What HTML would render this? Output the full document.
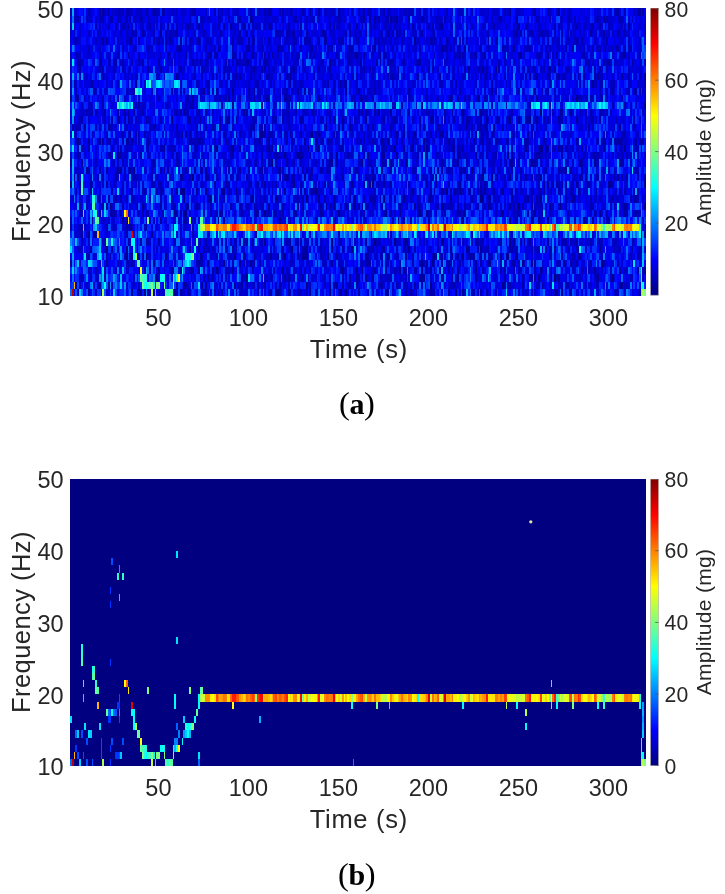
<!DOCTYPE html>
<html><head><meta charset="utf-8"><style>
html,body{margin:0;padding:0;background:#fff;}
body{width:725px;height:894px;position:relative;overflow:hidden;font-family:"Liberation Sans",sans-serif;color:#262626;}
.ab{position:absolute;display:block;}
.sg{filter:blur(0.45px);}
.t{position:absolute;line-height:0;white-space:nowrap;filter:blur(0.25px);}
.cap .p{font-size:32.5px;}
.cap{filter:blur(0.25px);position:absolute;font-family:"Liberation Serif",serif;font-size:30px;line-height:0;color:#000;width:200px;margin-left:-100px;text-align:center;white-space:nowrap;letter-spacing:-0.4px;}
</style></head><body>
<svg width="0" height="0" style="position:absolute"><defs><linearGradient id="jg" x1="0" y1="1" x2="0" y2="0"><stop offset="0.0000" stop-color="#000080"/><stop offset="0.0156" stop-color="#00008f"/><stop offset="0.0312" stop-color="#00009f"/><stop offset="0.0469" stop-color="#0000af"/><stop offset="0.0625" stop-color="#0000bf"/><stop offset="0.0781" stop-color="#0000cf"/><stop offset="0.0938" stop-color="#0000df"/><stop offset="0.1094" stop-color="#0000ef"/><stop offset="0.1250" stop-color="#0000ff"/><stop offset="0.1406" stop-color="#0010ff"/><stop offset="0.1562" stop-color="#0020ff"/><stop offset="0.1719" stop-color="#0030ff"/><stop offset="0.1875" stop-color="#0040ff"/><stop offset="0.2031" stop-color="#0050ff"/><stop offset="0.2188" stop-color="#0060ff"/><stop offset="0.2344" stop-color="#0070ff"/><stop offset="0.2500" stop-color="#0080ff"/><stop offset="0.2656" stop-color="#008fff"/><stop offset="0.2812" stop-color="#009fff"/><stop offset="0.2969" stop-color="#00afff"/><stop offset="0.3125" stop-color="#00bfff"/><stop offset="0.3281" stop-color="#00cfff"/><stop offset="0.3438" stop-color="#00dfff"/><stop offset="0.3594" stop-color="#00efff"/><stop offset="0.3750" stop-color="#00ffff"/><stop offset="0.3906" stop-color="#10ffef"/><stop offset="0.4062" stop-color="#20ffdf"/><stop offset="0.4219" stop-color="#30ffcf"/><stop offset="0.4375" stop-color="#40ffbf"/><stop offset="0.4531" stop-color="#50ffaf"/><stop offset="0.4688" stop-color="#60ff9f"/><stop offset="0.4844" stop-color="#70ff8f"/><stop offset="0.5000" stop-color="#80ff80"/><stop offset="0.5156" stop-color="#8fff70"/><stop offset="0.5312" stop-color="#9fff60"/><stop offset="0.5469" stop-color="#afff50"/><stop offset="0.5625" stop-color="#bfff40"/><stop offset="0.5781" stop-color="#cfff30"/><stop offset="0.5938" stop-color="#dfff20"/><stop offset="0.6094" stop-color="#efff10"/><stop offset="0.6250" stop-color="#ffff00"/><stop offset="0.6406" stop-color="#ffef00"/><stop offset="0.6562" stop-color="#ffdf00"/><stop offset="0.6719" stop-color="#ffcf00"/><stop offset="0.6875" stop-color="#ffbf00"/><stop offset="0.7031" stop-color="#ffaf00"/><stop offset="0.7188" stop-color="#ff9f00"/><stop offset="0.7344" stop-color="#ff8f00"/><stop offset="0.7500" stop-color="#ff8000"/><stop offset="0.7656" stop-color="#ff7000"/><stop offset="0.7812" stop-color="#ff6000"/><stop offset="0.7969" stop-color="#ff5000"/><stop offset="0.8125" stop-color="#ff4000"/><stop offset="0.8281" stop-color="#ff3000"/><stop offset="0.8438" stop-color="#ff2000"/><stop offset="0.8594" stop-color="#ff1000"/><stop offset="0.8750" stop-color="#ff0000"/><stop offset="0.8906" stop-color="#ef0000"/><stop offset="0.9062" stop-color="#df0000"/><stop offset="0.9219" stop-color="#cf0000"/><stop offset="0.9375" stop-color="#bf0000"/><stop offset="0.9531" stop-color="#af0000"/><stop offset="0.9688" stop-color="#9f0000"/><stop offset="0.9844" stop-color="#8f0000"/><stop offset="1.0000" stop-color="#800000"/></linearGradient></defs></svg>
<svg class="ab sg" style="left:70.0px;top:8.30px;width:576.0px;height:287.30px" viewBox="0 0 320 40" preserveAspectRatio="none" shape-rendering="crispEdges"><rect width="320" height="40" fill="#000080"/><g stroke-width="1" fill="none" transform="translate(0 0.0836)"><path stroke="#0000a6" d="M0 0.5h1M0 -.5h1M16 0.5h1M16 -.5h1M18 0.5h1M18 -.5h1M27 0.5h1M27 -.5h1M46 0.5h1M46 -.5h1M51 0.5h1M51 -.5h1M69 0.5h1M69 -.5h1M110 0.5h1M110 -.5h1M133 0.5h1M133 -.5h1M138 0.5h1M138 -.5h1M149 0.5h1M149 -.5h1M244 0.5h1M244 -.5h1M258 0.5h1M258 -.5h1M265 0.5h1M265 -.5h1M304 0.5h1M304 -.5h1M315 0.5h2M315 -.5h2M318 0.5h1M318 -.5h1M39 1.5h1M94 1.5h1M101 1.5h1M163 1.5h1M169 1.5h1M178 1.5h1M188 1.5h1M248 1.5h1M266 1.5h1M277 1.5h1M296 1.5h1M32 2.5h1M54 2.5h1M71 2.5h1M85 2.5h1M89 2.5h1M96 2.5h1M111 2.5h1M146 2.5h1M157 2.5h1M190 2.5h1M205 2.5h1M237 2.5h1M253 2.5h1M290 2.5h1M40 3.5h1M59 3.5h1M94 3.5h1M124 3.5h1M140 3.5h2M167 3.5h1M176 3.5h1M181 3.5h1M195 3.5h1M248 3.5h1M262 3.5h1M289 3.5h1M296 3.5h1M304 3.5h1M3 4.5h1M18 4.5h1M20 4.5h1M55 4.5h1M61 4.5h1M71 4.5h1M90 4.5h1M99 4.5h1M101 4.5h1M110 4.5h1M137 4.5h1M141 4.5h2M209 4.5h1M236 4.5h1M284 4.5h1M298 4.5h1M60 5.5h2M82 5.5h1M99 5.5h1M134 5.5h1M169 5.5h1M194 5.5h1M219 5.5h1M246 5.5h1M275 5.5h1M279 5.5h1M303 5.5h1M32 6.5h1M54 6.5h1M64 6.5h1M76 6.5h1M97 6.5h1M101 6.5h1M112 6.5h1M163 6.5h1M172 6.5h1M174 6.5h1M225 6.5h1M230 6.5h1M265 6.5h1M270 6.5h1M297 6.5h1M308 6.5h1M4 7.5h1M49 7.5h1M72 7.5h1M75 7.5h1M98 7.5h2M109 7.5h1M161 7.5h1M170 7.5h1M185 7.5h1M193 7.5h2M271 7.5h1M296 7.5h1M299 7.5h1M312 7.5h1M5 8.5h1M43 8.5h1M50 8.5h1M61 8.5h1M102 8.5h1M106 8.5h1M124 8.5h1M137 8.5h1M144 8.5h1M182 8.5h1M238 8.5h1M257 8.5h1M266 8.5h1M269 8.5h1M294 8.5h1M92 9.5h1M187 9.5h1M193 9.5h1M205 9.5h1M255 9.5h1M259 9.5h1M271 9.5h1M285 9.5h1M12 10.5h1M67 10.5h1M122 10.5h1M143 10.5h1M150 10.5h1M277 10.5h1M294 10.5h1M13 11.5h1M35 11.5h1M67 11.5h1M81 11.5h1M99 11.5h1M102 11.5h1M130 11.5h1M146 11.5h1M188 11.5h1M216 11.5h1M258 11.5h1M313 11.5h1M4 12.5h1M65 12.5h1M68 12.5h1M88 12.5h1M94 12.5h1M102 12.5h1M109 12.5h2M119 12.5h2M138 12.5h1M161 12.5h1M211 12.5h1M215 12.5h1M259 12.5h1M295 12.5h1M38 13.5h1M68 13.5h1M184 13.5h1M19 14.5h1M30 14.5h1M32 14.5h1M35 14.5h1M37 14.5h1M61 14.5h1M75 14.5h1M96 14.5h1M134 14.5h1M157 14.5h1M160 14.5h1M162 14.5h1M164 14.5h1M169 14.5h1M178 14.5h1M208 14.5h1M212 14.5h1M273 14.5h1M286 14.5h1M27 15.5h1M32 15.5h1M42 15.5h1M47 15.5h1M50 15.5h1M65 15.5h1M72 15.5h1M83 15.5h1M92 15.5h1M107 15.5h1M118 15.5h1M128 15.5h1M146 15.5h1M180 15.5h1M187 15.5h1M200 15.5h2M213 15.5h1M220 15.5h2M243 15.5h1M253 15.5h2M259 15.5h1M271 15.5h1M294 15.5h1M307 15.5h1M8 16.5h1M22 16.5h1M46 16.5h1M59 16.5h1M83 16.5h1M87 16.5h1M108 16.5h1M142 16.5h1M149 16.5h1M151 16.5h1M165 16.5h1M204 16.5h1M220 16.5h1M228 16.5h1M231 16.5h1M288 16.5h1M29 17.5h1M33 17.5h1M62 17.5h1M64 17.5h1M66 17.5h1M85 17.5h1M108 17.5h1M128 17.5h1M138 17.5h1M146 17.5h1M185 17.5h1M191 17.5h1M206 17.5h2M254 17.5h1M307 17.5h1M10 18.5h1M16 18.5h1M18 18.5h1M32 18.5h1M34 18.5h1M43 18.5h1M71 18.5h1M86 18.5h1M105 18.5h1M110 18.5h1M120 18.5h1M143 18.5h1M147 18.5h1M181 18.5h1M210 18.5h1M224 18.5h1M236 18.5h1M253 18.5h1M295 18.5h2M303 18.5h3M316 18.5h1M318 18.5h1M6 19.5h1M37 19.5h1M52 19.5h1M110 19.5h1M127 19.5h1M132 19.5h1M173 19.5h1M177 19.5h1M196 19.5h1M212 19.5h1M215 19.5h1M218 19.5h1M265 19.5h1M271 19.5h1M284 19.5h1M296 19.5h1M4 20.5h1M22 20.5h1M28 20.5h1M39 20.5h1M90 20.5h1M106 20.5h1M154 20.5h1M163 20.5h1M197 20.5h2M215 20.5h1M245 20.5h1M273 20.5h1M293 20.5h1M46 21.5h1M60 21.5h1M120 21.5h1M145 21.5h1M148 21.5h1M173 21.5h1M178 21.5h1M206 21.5h1M257 21.5h1M307 21.5h1M10 22.5h1M16 22.5h1M20 22.5h1M28 22.5h1M45 22.5h1M52 22.5h1M54 22.5h1M64 22.5h1M69 22.5h1M73 22.5h1M139 22.5h1M168 22.5h1M178 22.5h1M206 22.5h1M216 22.5h1M219 22.5h1M245 22.5h1M37 23.5h1M62 23.5h1M98 23.5h1M119 23.5h1M123 23.5h1M127 23.5h1M137 23.5h1M168 23.5h1M220 23.5h1M247 23.5h1M253 23.5h1M256 23.5h1M283 23.5h1M286 23.5h1M302 23.5h1M306 23.5h1M309 23.5h1M319 23.5h1M20 24.5h1M80 24.5h1M86 24.5h1M108 24.5h1M141 24.5h1M174 24.5h1M177 24.5h2M198 24.5h1M203 24.5h1M216 24.5h1M263 24.5h1M273 24.5h1M288 24.5h1M5 25.5h1M41 25.5h1M48 25.5h1M59 25.5h1M61 25.5h1M130 25.5h1M135 25.5h1M200 25.5h1M206 25.5h1M213 25.5h1M228 25.5h1M235 25.5h1M263 25.5h1M271 25.5h1M282 25.5h1M292 25.5h1M315 25.5h1M28 26.5h1M80 26.5h1M101 26.5h1M141 26.5h1M166 26.5h1M168 26.5h1M200 26.5h1M233 26.5h1M245 26.5h1M254 26.5h1M259 26.5h1M280 26.5h1M18 27.5h1M50 27.5h1M64 27.5h1M70 27.5h1M78 27.5h1M89 27.5h1M94 27.5h1M102 27.5h1M126 27.5h1M129 27.5h1M139 27.5h1M162 27.5h1M173 27.5h1M183 27.5h1M187 27.5h1M207 27.5h1M217 27.5h1M244 27.5h1M246 27.5h1M256 27.5h1M309 27.5h1M22 28.5h3M40 28.5h1M113 28.5h1M118 28.5h1M124 28.5h2M219 28.5h1M291 28.5h1M308 28.5h1M314 28.5h1M31 29.5h1M50 29.5h1M63 29.5h2M136 29.5h1M182 29.5h1M185 29.5h1M199 29.5h1M247 29.5h1M260 29.5h1M299 29.5h1M42 30.5h1M6 31.5h1M68 31.5h1M223 31.5h1M271 31.5h1M319 31.5h1M32 32.5h1M39 32.5h1M42 32.5h1M49 32.5h1M75 32.5h1M96 32.5h1M101 32.5h1M113 32.5h1M122 32.5h1M150 32.5h1M167 32.5h1M185 32.5h1M225 32.5h1M239 32.5h1M252 32.5h1M255 32.5h1M281 32.5h1M297 32.5h1M11 33.5h1M23 33.5h1M66 33.5h1M71 33.5h1M77 33.5h1M90 33.5h1M130 33.5h1M145 33.5h1M165 33.5h1M174 33.5h1M211 33.5h1M221 33.5h1M244 33.5h1M269 33.5h1M282 33.5h1M317 33.5h1M10 34.5h1M22 34.5h1M102 34.5h1M126 34.5h1M148 34.5h1M176 34.5h1M212 34.5h1M224 34.5h1M266 34.5h1M282 34.5h2M315 34.5h1M0 35.5h1M20 35.5h1M34 35.5h1M71 35.5h1M76 35.5h1M102 35.5h1M105 35.5h1M107 35.5h1M157 35.5h1M165 35.5h2M183 35.5h1M206 35.5h1M210 35.5h1M225 35.5h1M228 35.5h1M232 35.5h1M245 35.5h2M281 35.5h1M289 35.5h1M56 36.5h1M68 36.5h1M71 36.5h1M169 36.5h1M175 36.5h1M197 36.5h1M200 36.5h1M284 36.5h1M19 37.5h1M74 37.5h1M76 37.5h1M79 37.5h1M119 37.5h1M121 37.5h1M129 37.5h1M155 37.5h1M159 37.5h2M195 37.5h1M206 37.5h2M212 37.5h1M215 37.5h1M225 37.5h1M241 37.5h1M255 37.5h1M258 37.5h1M59 38.5h1M146 38.5h1M159 38.5h1M173 38.5h1M187 38.5h1M191 38.5h1M197 38.5h1M213 38.5h1M227 38.5h1M241 38.5h1M251 38.5h1M262 38.5h1M17 39.5h1M61 39.5h1M65 39.5h1M80 39.5h1M84 39.5h1M97 39.5h1M111 39.5h1M121 39.5h1M126 39.5h1M160 39.5h1M176 39.5h1M186 39.5h1M189 39.5h1M200 39.5h1M210 39.5h1M228 39.5h1M231 39.5h1M277 39.5h2M316 39.5h1"/><path stroke="#00a5ff" d="M1 0.5h1M1 -.5h1M28 10.5h1M70 11.5h1M1 13.5h1M33 13.5h1M71 13.5h1M103 13.5h1M129 13.5h1M154 13.5h1M167 13.5h1M178 13.5h1M193 13.5h1M215 13.5h1M257 13.5h1M262 13.5h1M265 13.5h1M280 13.5h1M285 13.5h1M273 16.5h1M226 17.5h1M196 20.5h1M176 21.5h1M304 21.5h1M276 22.5h1M298 22.5h1M314 25.5h1M8 27.5h1M155 27.5h1M83 29.5h1M13 30.5h1M162 31.5h1M186 31.5h1M264 31.5h1M292 31.5h1M315 31.5h1M297 33.5h1M1 34.5h1M15 34.5h1M42 36.5h1M24 37.5h1M12 38.5h1"/><path stroke="#0000d9" d="M2 0.5h1M2 -.5h1M20 0.5h1M20 -.5h1M24 0.5h1M24 -.5h1M37 0.5h1M37 -.5h1M40 0.5h1M40 -.5h1M54 0.5h2M54 -.5h2M58 0.5h1M58 -.5h1M61 0.5h1M61 -.5h1M83 0.5h1M83 -.5h1M86 0.5h1M86 -.5h1M90 0.5h1M90 -.5h1M97 0.5h1M97 -.5h1M99 0.5h1M99 -.5h1M101 0.5h1M101 -.5h1M105 0.5h1M105 -.5h1M121 0.5h1M121 -.5h1M125 0.5h1M125 -.5h1M128 0.5h1M128 -.5h1M139 0.5h1M139 -.5h1M143 0.5h1M143 -.5h1M154 0.5h1M154 -.5h1M173 0.5h1M173 -.5h1M178 0.5h1M178 -.5h1M180 0.5h2M180 -.5h2M192 0.5h1M192 -.5h1M198 0.5h1M198 -.5h1M202 0.5h1M202 -.5h1M207 0.5h1M207 -.5h1M230 0.5h2M230 -.5h2M234 0.5h1M234 -.5h1M238 0.5h1M238 -.5h1M250 0.5h1M250 -.5h1M260 0.5h1M260 -.5h1M267 0.5h1M267 -.5h1M273 0.5h1M273 -.5h1M284 0.5h1M284 -.5h1M288 0.5h1M288 -.5h1M291 0.5h1M291 -.5h1M294 0.5h1M294 -.5h1M300 0.5h1M300 -.5h1M305 0.5h1M305 -.5h1M314 0.5h1M314 -.5h1M0 1.5h1M30 1.5h1M36 1.5h3M41 1.5h1M44 1.5h1M46 1.5h1M50 1.5h1M59 1.5h1M78 1.5h1M90 1.5h1M104 1.5h1M106 1.5h1M110 1.5h1M121 1.5h1M123 1.5h1M141 1.5h1M143 1.5h1M146 1.5h1M151 1.5h1M158 1.5h1M173 1.5h2M184 1.5h1M192 1.5h1M194 1.5h1M201 1.5h1M206 1.5h1M209 1.5h1M215 1.5h1M218 1.5h1M230 1.5h1M236 1.5h1M240 1.5h2M244 1.5h1M262 1.5h1M264 1.5h1M285 1.5h1M287 1.5h1M291 1.5h1M297 1.5h1M317 1.5h1M31 2.5h1M36 2.5h1M42 2.5h1M48 2.5h1M52 2.5h1M56 2.5h1M67 2.5h1M79 2.5h2M97 2.5h1M102 2.5h1M114 2.5h1M118 2.5h1M120 2.5h1M124 2.5h1M139 2.5h1M148 2.5h1M154 2.5h1M170 2.5h2M182 2.5h1M191 2.5h1M193 2.5h1M211 2.5h1M215 2.5h1M233 2.5h1M236 2.5h1M238 2.5h1M258 2.5h1M263 2.5h1M279 2.5h1M287 2.5h1M292 2.5h2M295 2.5h1M297 2.5h1M301 2.5h1M305 2.5h1M315 2.5h2M24 3.5h2M27 3.5h1M32 3.5h2M43 3.5h1M45 3.5h1M54 3.5h1M57 3.5h1M67 3.5h1M72 3.5h2M75 3.5h1M79 3.5h3M90 3.5h1M104 3.5h1M118 3.5h1M135 3.5h3M139 3.5h1M142 3.5h1M146 3.5h2M149 3.5h1M151 3.5h2M159 3.5h1M204 3.5h1M214 3.5h1M227 3.5h3M239 3.5h1M249 3.5h1M257 3.5h1M279 3.5h1M295 3.5h1M298 3.5h1M309 3.5h1M313 3.5h1M0 4.5h1M5 4.5h1M9 4.5h1M16 4.5h1M19 4.5h1M29 4.5h1M42 4.5h1M50 4.5h1M54 4.5h1M77 4.5h1M92 4.5h1M104 4.5h2M113 4.5h2M122 4.5h1M145 4.5h1M147 4.5h1M163 4.5h1M170 4.5h1M181 4.5h2M185 4.5h1M188 4.5h2M192 4.5h1M196 4.5h1M199 4.5h1M214 4.5h1M222 4.5h1M225 4.5h1M229 4.5h1M247 4.5h1M258 4.5h1M262 4.5h2M275 4.5h1M285 4.5h1M295 4.5h1M305 4.5h1M5 5.5h1M15 5.5h1M22 5.5h1M26 5.5h1M36 5.5h1M42 5.5h1M44 5.5h1M49 5.5h1M64 5.5h2M79 5.5h1M92 5.5h1M104 5.5h1M109 5.5h1M127 5.5h1M149 5.5h2M172 5.5h1M199 5.5h1M201 5.5h1M205 5.5h1M231 5.5h1M235 5.5h1M268 5.5h1M270 5.5h1M298 5.5h1M300 5.5h1M315 5.5h2M9 6.5h1M11 6.5h1M20 6.5h1M61 6.5h1M73 6.5h1M92 6.5h1M98 6.5h1M102 6.5h1M113 6.5h1M120 6.5h1M127 6.5h1M134 6.5h1M136 6.5h2M149 6.5h1M153 6.5h1M188 6.5h1M191 6.5h1M204 6.5h2M233 6.5h1M247 6.5h1M262 6.5h1M264 6.5h1M276 6.5h2M286 6.5h1M7 7.5h1M22 7.5h1M30 7.5h1M55 7.5h1M60 7.5h1M63 7.5h1M66 7.5h2M71 7.5h1M73 7.5h1M97 7.5h1M100 7.5h1M113 7.5h1M119 7.5h2M138 7.5h1M150 7.5h1M160 7.5h1M191 7.5h1M198 7.5h1M205 7.5h1M210 7.5h1M218 7.5h2M222 7.5h1M229 7.5h1M231 7.5h1M234 7.5h1M244 7.5h1M249 7.5h1M255 7.5h1M291 7.5h1M304 7.5h4M313 7.5h1M7 8.5h1M21 8.5h1M25 8.5h1M27 8.5h1M36 8.5h2M40 8.5h1M48 8.5h2M51 8.5h1M54 8.5h1M76 8.5h1M78 8.5h1M89 8.5h1M95 8.5h1M98 8.5h1M118 8.5h1M125 8.5h1M129 8.5h1M132 8.5h1M135 8.5h1M139 8.5h2M156 8.5h1M164 8.5h1M175 8.5h1M179 8.5h1M185 8.5h1M188 8.5h1M217 8.5h1M222 8.5h1M224 8.5h1M230 8.5h1M245 8.5h1M251 8.5h1M262 8.5h1M278 8.5h1M282 8.5h1M289 8.5h1M302 8.5h1M304 8.5h1M314 8.5h2M0 9.5h1M8 9.5h1M11 9.5h1M14 9.5h1M17 9.5h1M19 9.5h1M37 9.5h1M68 9.5h1M93 9.5h1M96 9.5h1M101 9.5h1M103 9.5h1M138 9.5h1M148 9.5h2M162 9.5h2M199 9.5h1M243 9.5h1M251 9.5h1M262 9.5h1M264 9.5h1M272 9.5h1M283 9.5h1M298 9.5h1M304 9.5h1M5 10.5h1M8 10.5h1M10 10.5h1M15 10.5h1M23 10.5h1M32 10.5h1M34 10.5h1M84 10.5h1M89 10.5h1M98 10.5h1M102 10.5h1M106 10.5h2M121 10.5h1M125 10.5h1M142 10.5h1M149 10.5h1M151 10.5h1M157 10.5h1M162 10.5h1M166 10.5h1M168 10.5h1M172 10.5h1M175 10.5h1M187 10.5h1M191 10.5h1M200 10.5h1M211 10.5h1M239 10.5h1M248 10.5h1M281 10.5h1M316 10.5h3M9 11.5h1M20 11.5h1M33 11.5h1M41 11.5h1M51 11.5h1M58 11.5h2M82 11.5h1M91 11.5h1M100 11.5h2M105 11.5h1M108 11.5h2M115 11.5h1M125 11.5h1M128 11.5h1M136 11.5h1M155 11.5h1M163 11.5h1M168 11.5h1M170 11.5h1M172 11.5h1M181 11.5h1M183 11.5h1M195 11.5h1M202 11.5h1M206 11.5h1M212 11.5h3M233 11.5h1M244 11.5h1M248 11.5h1M252 11.5h1M271 11.5h1M292 11.5h1M319 11.5h1M17 12.5h1M24 12.5h1M35 12.5h1M54 12.5h1M61 12.5h1M70 12.5h1M73 12.5h1M93 12.5h1M128 12.5h1M145 12.5h1M165 12.5h1M175 12.5h1M180 12.5h1M185 12.5h1M190 12.5h1M200 12.5h1M203 12.5h1M220 12.5h1M222 12.5h1M225 12.5h1M234 12.5h1M241 12.5h2M260 12.5h4M265 12.5h1M270 12.5h1M273 12.5h1M302 12.5h1M314 12.5h2M12 13.5h1M37 13.5h1M39 13.5h1M44 13.5h1M46 13.5h1M65 13.5h1M70 13.5h1M120 13.5h1M206 13.5h1M0 14.5h1M8 14.5h1M29 14.5h1M38 14.5h1M60 14.5h1M88 14.5h1M95 14.5h1M103 14.5h1M123 14.5h2M132 14.5h1M142 14.5h1M151 14.5h1M161 14.5h1M166 14.5h1M173 14.5h1M175 14.5h2M196 14.5h2M209 14.5h1M225 14.5h1M284 14.5h1M307 14.5h1M313 14.5h1M15 15.5h1M18 15.5h1M33 15.5h1M70 15.5h2M77 15.5h1M79 15.5h1M90 15.5h1M98 15.5h1M153 15.5h1M160 15.5h1M163 15.5h1M167 15.5h1M169 15.5h1M183 15.5h1M191 15.5h1M222 15.5h2M227 15.5h1M242 15.5h1M282 15.5h1M299 15.5h1M301 15.5h1M306 15.5h1M308 15.5h1M2 16.5h1M19 16.5h1M30 16.5h1M33 16.5h1M35 16.5h1M37 16.5h1M49 16.5h1M55 16.5h2M78 16.5h1M94 16.5h1M115 16.5h1M119 16.5h1M125 16.5h1M134 16.5h1M141 16.5h1M147 16.5h1M159 16.5h1M169 16.5h1M173 16.5h2M206 16.5h1M219 16.5h1M224 16.5h1M227 16.5h1M229 16.5h1M244 16.5h3M263 16.5h1M271 16.5h1M300 16.5h1M304 16.5h1M307 16.5h2M25 17.5h1M27 17.5h1M51 17.5h1M56 17.5h1M61 17.5h1M80 17.5h1M86 17.5h1M102 17.5h1M123 17.5h1M155 17.5h1M157 17.5h1M160 17.5h1M169 17.5h1M173 17.5h1M175 17.5h1M180 17.5h1M182 17.5h1M184 17.5h1M192 17.5h1M199 17.5h1M232 17.5h1M263 17.5h1M274 17.5h1M309 17.5h1M314 17.5h1M24 18.5h1M33 18.5h1M48 18.5h1M62 18.5h1M65 18.5h1M74 18.5h1M82 18.5h1M87 18.5h1M96 18.5h1M99 18.5h1M109 18.5h1M113 18.5h1M149 18.5h1M165 18.5h1M167 18.5h1M172 18.5h1M175 18.5h1M177 18.5h1M188 18.5h1M191 18.5h1M201 18.5h1M208 18.5h1M218 18.5h1M225 18.5h1M227 18.5h1M237 18.5h1M258 18.5h1M282 18.5h1M8 19.5h1M30 19.5h1M34 19.5h1M67 19.5h1M73 19.5h1M91 19.5h1M93 19.5h1M118 19.5h1M131 19.5h1M143 19.5h2M157 19.5h1M163 19.5h1M170 19.5h2M203 19.5h1M205 19.5h1M209 19.5h1M226 19.5h1M237 19.5h1M249 19.5h1M258 19.5h1M278 19.5h1M281 19.5h1M0 20.5h1M3 20.5h1M27 20.5h1M29 20.5h1M44 20.5h1M47 20.5h1M49 20.5h1M57 20.5h1M68 20.5h1M70 20.5h1M82 20.5h1M85 20.5h2M116 20.5h1M118 20.5h1M122 20.5h1M153 20.5h1M167 20.5h1M192 20.5h1M208 20.5h1M218 20.5h1M221 20.5h1M251 20.5h1M263 20.5h1M265 20.5h2M277 20.5h2M280 20.5h1M289 20.5h1M299 20.5h1M305 20.5h1M310 20.5h1M319 20.5h1M13 21.5h1M31 21.5h1M70 21.5h1M86 21.5h1M127 21.5h1M129 21.5h1M135 21.5h1M142 21.5h1M150 21.5h1M183 21.5h1M203 21.5h1M208 21.5h1M212 21.5h1M217 21.5h1M221 21.5h1M232 21.5h1M241 21.5h1M272 21.5h1M282 21.5h1M299 21.5h1M4 22.5h1M7 22.5h1M34 22.5h1M42 22.5h1M63 22.5h1M83 22.5h1M109 22.5h1M114 22.5h1M132 22.5h1M150 22.5h1M165 22.5h1M170 22.5h1M192 22.5h1M202 22.5h1M234 22.5h1M239 22.5h1M268 22.5h1M281 22.5h1M287 22.5h1M13 23.5h1M24 23.5h1M26 23.5h1M38 23.5h1M63 23.5h1M82 23.5h1M99 23.5h1M105 23.5h1M126 23.5h1M136 23.5h1M144 23.5h1M150 23.5h1M187 23.5h1M232 23.5h1M239 23.5h2M255 23.5h1M263 23.5h1M268 23.5h1M270 23.5h2M289 23.5h1M295 23.5h1M8 24.5h1M15 24.5h1M38 24.5h1M57 24.5h1M60 24.5h1M65 24.5h1M67 24.5h1M69 24.5h2M72 24.5h1M92 24.5h1M122 24.5h1M129 24.5h1M136 24.5h1M155 24.5h1M172 24.5h1M186 24.5h1M229 24.5h1M242 24.5h1M250 24.5h1M289 24.5h1M308 24.5h1M80 25.5h2M94 25.5h1M103 25.5h1M108 25.5h1M122 25.5h1M140 25.5h1M145 25.5h1M178 25.5h1M185 25.5h1M191 25.5h1M205 25.5h1M208 25.5h1M231 25.5h2M255 25.5h1M286 25.5h2M18 26.5h1M40 26.5h1M52 26.5h2M67 26.5h3M127 26.5h2M132 26.5h1M136 26.5h1M206 26.5h1M222 26.5h1M224 26.5h1M231 26.5h1M237 26.5h1M272 26.5h1M276 26.5h1M278 26.5h1M283 26.5h1M286 26.5h1M295 26.5h1M302 26.5h1M305 26.5h2M2 27.5h1M47 27.5h2M62 27.5h1M69 27.5h1M74 27.5h1M90 27.5h1M104 27.5h1M113 27.5h3M119 27.5h1M145 27.5h1M150 27.5h1M154 27.5h1M156 27.5h1M167 27.5h1M175 27.5h1M177 27.5h2M182 27.5h1M220 27.5h1M225 27.5h1M229 27.5h1M234 27.5h1M248 27.5h1M267 27.5h1M295 27.5h3M305 27.5h1M27 28.5h1M49 28.5h1M80 28.5h1M96 28.5h1M99 28.5h1M106 28.5h2M121 28.5h1M151 28.5h2M156 28.5h1M212 28.5h1M245 28.5h1M250 28.5h1M261 28.5h1M264 28.5h1M267 28.5h2M312 28.5h1M24 29.5h1M30 29.5h1M44 29.5h1M53 29.5h1M67 29.5h2M115 29.5h1M117 29.5h2M132 29.5h1M159 29.5h1M246 29.5h1M250 29.5h1M252 29.5h1M262 29.5h1M267 29.5h1M270 29.5h1M287 29.5h1M302 29.5h1M25 30.5h1M29 30.5h1M64 30.5h1M318 30.5h1M2 31.5h1M9 31.5h1M77 31.5h1M159 31.5h1M196 31.5h1M251 31.5h1M273 31.5h1M300 31.5h1M33 32.5h1M37 32.5h1M71 32.5h1M77 32.5h2M119 32.5h1M134 32.5h1M140 32.5h1M149 32.5h1M155 32.5h1M168 32.5h1M178 32.5h1M183 32.5h1M211 32.5h1M220 32.5h1M232 32.5h1M237 32.5h1M245 32.5h1M279 32.5h1M283 32.5h1M288 32.5h1M290 32.5h1M304 32.5h1M309 32.5h1M317 32.5h1M6 33.5h1M19 33.5h1M26 33.5h1M34 33.5h1M46 33.5h1M50 33.5h1M57 33.5h1M80 33.5h1M82 33.5h1M96 33.5h1M103 33.5h2M106 33.5h1M111 33.5h1M121 33.5h1M137 33.5h2M140 33.5h1M155 33.5h1M177 33.5h1M243 33.5h1M255 33.5h1M258 33.5h1M273 33.5h1M289 33.5h1M295 33.5h1M301 33.5h1M303 33.5h1M319 33.5h1M6 34.5h1M58 34.5h1M61 34.5h1M78 34.5h3M84 34.5h1M87 34.5h1M90 34.5h1M103 34.5h1M105 34.5h1M112 34.5h2M122 34.5h1M128 34.5h1M136 34.5h1M166 34.5h1M177 34.5h1M180 34.5h1M259 34.5h1M267 34.5h1M269 34.5h1M278 34.5h1M294 34.5h1M306 34.5h1M313 34.5h1M21 35.5h1M28 35.5h1M33 35.5h1M35 35.5h1M40 35.5h1M54 35.5h1M109 35.5h2M119 35.5h1M124 35.5h1M129 35.5h1M144 35.5h1M151 35.5h1M171 35.5h1M213 35.5h1M218 35.5h1M224 35.5h1M242 35.5h1M265 35.5h1M284 35.5h1M288 35.5h1M301 35.5h1M52 36.5h1M60 36.5h1M64 36.5h2M77 36.5h1M89 36.5h1M94 36.5h1M98 36.5h1M110 36.5h2M125 36.5h1M136 36.5h2M142 36.5h2M153 36.5h1M172 36.5h1M178 36.5h2M188 36.5h1M219 36.5h1M224 36.5h1M230 36.5h1M243 36.5h1M253 36.5h2M269 36.5h1M289 36.5h2M292 36.5h1M37 37.5h1M54 37.5h1M69 37.5h1M72 37.5h1M82 37.5h1M104 37.5h1M110 37.5h1M116 37.5h1M118 37.5h1M123 37.5h1M140 37.5h1M153 37.5h1M162 37.5h1M165 37.5h1M167 37.5h1M173 37.5h1M180 37.5h2M184 37.5h1M188 37.5h1M218 37.5h1M226 37.5h1M228 37.5h1M236 37.5h1M252 37.5h1M266 37.5h1M275 37.5h1M277 37.5h1M286 37.5h1M302 37.5h1M309 37.5h1M34 38.5h1M80 38.5h1M85 38.5h1M119 38.5h1M132 38.5h1M137 38.5h1M163 38.5h1M174 38.5h1M201 38.5h1M210 38.5h1M215 38.5h1M230 38.5h1M236 38.5h1M263 38.5h1M267 38.5h1M279 38.5h1M286 38.5h1M44 39.5h1M50 39.5h1M76 39.5h1M90 39.5h1M96 39.5h1M102 39.5h1M110 39.5h1M142 39.5h1M149 39.5h1M168 39.5h1M187 39.5h1M199 39.5h1M216 39.5h1M243 39.5h1M266 39.5h1M281 39.5h1M284 39.5h1M289 39.5h1M298 39.5h1M312 39.5h1"/><path stroke="#0000cc" d="M3 0.5h1M3 -.5h1M7 0.5h1M7 -.5h1M11 0.5h1M11 -.5h1M25 0.5h1M25 -.5h1M34 0.5h1M34 -.5h1M38 0.5h1M38 -.5h1M43 0.5h1M43 -.5h1M62 0.5h2M62 -.5h2M87 0.5h2M87 -.5h2M91 0.5h3M91 -.5h3M107 0.5h1M107 -.5h1M109 0.5h1M109 -.5h1M120 0.5h1M120 -.5h1M127 0.5h1M127 -.5h1M130 0.5h1M130 -.5h1M141 0.5h1M141 -.5h1M144 0.5h1M144 -.5h1M146 0.5h1M146 -.5h1M150 0.5h2M150 -.5h2M162 0.5h1M162 -.5h1M183 0.5h1M183 -.5h1M188 0.5h1M188 -.5h1M200 0.5h1M200 -.5h1M204 0.5h1M204 -.5h1M212 0.5h1M212 -.5h1M217 0.5h2M217 -.5h2M228 0.5h2M228 -.5h2M232 0.5h1M232 -.5h1M236 0.5h1M236 -.5h1M242 0.5h1M242 -.5h1M247 0.5h1M247 -.5h1M251 0.5h1M251 -.5h1M256 0.5h1M256 -.5h1M270 0.5h1M270 -.5h1M277 0.5h2M277 -.5h2M287 0.5h1M287 -.5h1M293 0.5h1M293 -.5h1M297 0.5h1M297 -.5h1M302 0.5h1M302 -.5h1M10 1.5h1M14 1.5h1M17 1.5h1M40 1.5h1M48 1.5h1M62 1.5h1M72 1.5h1M74 1.5h1M108 1.5h2M112 1.5h3M133 1.5h1M135 1.5h1M144 1.5h1M148 1.5h1M152 1.5h1M170 1.5h1M183 1.5h1M193 1.5h1M198 1.5h1M204 1.5h2M222 1.5h1M225 1.5h1M227 1.5h1M231 1.5h1M254 1.5h1M272 1.5h1M278 1.5h1M282 1.5h1M286 1.5h1M294 1.5h1M299 1.5h2M302 1.5h1M310 1.5h1M316 1.5h1M5 2.5h1M7 2.5h1M39 2.5h2M43 2.5h1M46 2.5h1M62 2.5h1M68 2.5h1M87 2.5h1M90 2.5h2M93 2.5h1M99 2.5h1M104 2.5h2M107 2.5h1M131 2.5h1M164 2.5h1M181 2.5h1M183 2.5h1M194 2.5h1M203 2.5h2M214 2.5h1M230 2.5h1M234 2.5h1M246 2.5h1M248 2.5h1M254 2.5h1M261 2.5h1M271 2.5h3M277 2.5h1M280 2.5h1M283 2.5h1M286 2.5h1M289 2.5h1M300 2.5h1M308 2.5h1M319 2.5h1M0 3.5h1M7 3.5h1M16 3.5h1M65 3.5h1M84 3.5h1M91 3.5h1M93 3.5h1M97 3.5h1M117 3.5h1M122 3.5h1M126 3.5h1M132 3.5h1M134 3.5h1M144 3.5h2M160 3.5h1M166 3.5h1M173 3.5h1M175 3.5h1M182 3.5h1M187 3.5h1M190 3.5h1M192 3.5h1M201 3.5h1M211 3.5h1M218 3.5h1M231 3.5h1M252 3.5h1M254 3.5h1M263 3.5h1M278 3.5h1M280 3.5h1M285 3.5h1M290 3.5h1M292 3.5h1M310 3.5h1M315 3.5h1M319 3.5h1M2 4.5h1M4 4.5h1M17 4.5h1M24 4.5h1M32 4.5h1M34 4.5h1M48 4.5h1M56 4.5h1M67 4.5h2M70 4.5h1M72 4.5h1M75 4.5h1M106 4.5h1M116 4.5h1M119 4.5h1M121 4.5h1M123 4.5h1M146 4.5h1M174 4.5h2M177 4.5h1M180 4.5h1M198 4.5h1M203 4.5h1M230 4.5h1M234 4.5h1M242 4.5h1M246 4.5h1M248 4.5h1M257 4.5h1M260 4.5h1M270 4.5h1M273 4.5h1M277 4.5h1M292 4.5h1M296 4.5h1M302 4.5h1M306 4.5h1M16 5.5h1M67 5.5h1M83 5.5h1M86 5.5h1M105 5.5h1M107 5.5h1M111 5.5h1M144 5.5h1M160 5.5h1M166 5.5h1M168 5.5h1M181 5.5h1M184 5.5h1M188 5.5h1M190 5.5h3M213 5.5h1M216 5.5h1M221 5.5h1M242 5.5h1M252 5.5h1M262 5.5h1M273 5.5h1M281 5.5h1M287 5.5h2M292 5.5h1M299 5.5h1M307 5.5h1M7 6.5h1M10 6.5h1M21 6.5h1M25 6.5h1M27 6.5h1M43 6.5h1M46 6.5h1M55 6.5h1M58 6.5h1M60 6.5h1M66 6.5h2M94 6.5h1M103 6.5h1M117 6.5h1M119 6.5h1M125 6.5h1M131 6.5h1M139 6.5h1M143 6.5h1M156 6.5h1M160 6.5h2M171 6.5h1M175 6.5h1M177 6.5h1M197 6.5h1M206 6.5h1M214 6.5h1M219 6.5h1M223 6.5h1M235 6.5h1M243 6.5h1M245 6.5h1M274 6.5h1M287 6.5h1M289 6.5h2M294 6.5h1M305 6.5h1M315 6.5h1M0 7.5h1M13 7.5h1M28 7.5h1M39 7.5h1M43 7.5h1M54 7.5h1M56 7.5h1M58 7.5h1M69 7.5h1M76 7.5h1M88 7.5h1M95 7.5h1M107 7.5h1M114 7.5h1M116 7.5h1M125 7.5h2M137 7.5h1M139 7.5h1M145 7.5h1M149 7.5h1M156 7.5h1M159 7.5h1M163 7.5h1M174 7.5h1M177 7.5h1M184 7.5h1M199 7.5h1M201 7.5h1M209 7.5h1M213 7.5h1M216 7.5h1M228 7.5h1M242 7.5h1M263 7.5h1M268 7.5h1M273 7.5h1M290 7.5h1M302 7.5h2M310 7.5h1M316 7.5h2M319 7.5h1M0 8.5h1M15 8.5h1M30 8.5h1M32 8.5h2M60 8.5h1M63 8.5h1M75 8.5h1M100 8.5h1M103 8.5h1M112 8.5h1M122 8.5h1M127 8.5h1M130 8.5h1M141 8.5h1M143 8.5h1M154 8.5h1M162 8.5h1M180 8.5h1M195 8.5h1M212 8.5h2M215 8.5h1M227 8.5h2M249 8.5h1M256 8.5h1M288 8.5h1M312 8.5h1M316 8.5h2M20 9.5h1M24 9.5h1M30 9.5h1M32 9.5h1M34 9.5h1M49 9.5h1M62 9.5h1M90 9.5h2M102 9.5h1M111 9.5h1M124 9.5h1M127 9.5h1M137 9.5h1M140 9.5h1M145 9.5h1M157 9.5h1M161 9.5h1M174 9.5h1M180 9.5h3M192 9.5h1M209 9.5h1M212 9.5h1M219 9.5h1M223 9.5h1M225 9.5h1M247 9.5h1M250 9.5h1M266 9.5h1M273 9.5h1M275 9.5h1M278 9.5h1M280 9.5h1M292 9.5h1M294 9.5h1M301 9.5h1M314 9.5h1M317 9.5h1M3 10.5h1M11 10.5h1M20 10.5h1M41 10.5h1M75 10.5h1M77 10.5h1M86 10.5h1M90 10.5h1M93 10.5h1M97 10.5h1M99 10.5h1M113 10.5h1M129 10.5h1M140 10.5h2M147 10.5h1M155 10.5h1M159 10.5h1M167 10.5h1M179 10.5h1M197 10.5h1M216 10.5h1M225 10.5h1M227 10.5h1M236 10.5h1M250 10.5h1M260 10.5h1M270 10.5h1M285 10.5h1M291 10.5h1M310 10.5h2M14 11.5h1M17 11.5h1M19 11.5h1M32 11.5h1M72 11.5h1M118 11.5h1M137 11.5h1M150 11.5h1M165 11.5h1M171 11.5h1M177 11.5h1M180 11.5h1M189 11.5h1M224 11.5h1M230 11.5h1M251 11.5h1M274 11.5h1M280 11.5h1M287 11.5h1M302 11.5h1M305 11.5h1M309 11.5h1M318 11.5h1M10 12.5h1M15 12.5h1M38 12.5h1M44 12.5h1M59 12.5h1M72 12.5h1M74 12.5h1M81 12.5h2M85 12.5h1M100 12.5h1M107 12.5h2M114 12.5h1M126 12.5h1M133 12.5h1M139 12.5h1M163 12.5h1M167 12.5h1M178 12.5h1M210 12.5h1M217 12.5h1M238 12.5h1M255 12.5h3M269 12.5h1M279 12.5h1M284 12.5h1M292 12.5h1M319 12.5h1M10 13.5h1M23 13.5h1M35 13.5h2M41 13.5h1M54 13.5h1M62 13.5h1M127 13.5h1M169 13.5h1M192 13.5h1M254 13.5h1M273 13.5h1M311 13.5h1M314 13.5h1M3 14.5h1M5 14.5h2M18 14.5h1M39 14.5h1M46 14.5h1M65 14.5h1M70 14.5h1M93 14.5h1M100 14.5h1M106 14.5h1M108 14.5h1M119 14.5h1M129 14.5h1M131 14.5h1M143 14.5h1M150 14.5h1M165 14.5h1M174 14.5h1M181 14.5h1M193 14.5h1M195 14.5h1M231 14.5h1M244 14.5h1M253 14.5h3M258 14.5h1M266 14.5h1M279 14.5h1M290 14.5h1M296 14.5h1M311 14.5h1M4 15.5h1M21 15.5h1M34 15.5h1M38 15.5h1M44 15.5h1M69 15.5h1M74 15.5h1M87 15.5h1M97 15.5h1M103 15.5h1M109 15.5h1M120 15.5h1M123 15.5h1M135 15.5h1M140 15.5h1M152 15.5h1M155 15.5h1M159 15.5h1M176 15.5h1M203 15.5h1M210 15.5h1M225 15.5h2M232 15.5h1M257 15.5h2M260 15.5h1M275 15.5h1M316 15.5h1M23 16.5h1M25 16.5h1M45 16.5h1M47 16.5h1M70 16.5h1M85 16.5h1M112 16.5h1M116 16.5h1M122 16.5h1M156 16.5h1M161 16.5h2M183 16.5h1M187 16.5h1M205 16.5h1M211 16.5h1M216 16.5h1M221 16.5h1M242 16.5h1M251 16.5h1M259 16.5h1M261 16.5h1M264 16.5h1M272 16.5h1M283 16.5h2M286 16.5h1M3 17.5h1M20 17.5h1M32 17.5h1M43 17.5h1M59 17.5h1M74 17.5h1M96 17.5h1M116 17.5h1M127 17.5h1M131 17.5h1M156 17.5h1M165 17.5h2M171 17.5h1M187 17.5h1M190 17.5h1M198 17.5h1M235 17.5h1M248 17.5h1M258 17.5h1M268 17.5h2M288 17.5h1M298 17.5h1M301 17.5h1M5 18.5h1M7 18.5h1M12 18.5h1M20 18.5h1M29 18.5h1M36 18.5h1M42 18.5h1M44 18.5h1M53 18.5h1M60 18.5h1M69 18.5h1M83 18.5h1M88 18.5h1M91 18.5h1M103 18.5h1M112 18.5h1M124 18.5h1M145 18.5h1M148 18.5h1M159 18.5h2M166 18.5h1M174 18.5h1M205 18.5h1M209 18.5h1M211 18.5h2M215 18.5h1M222 18.5h1M231 18.5h1M239 18.5h1M245 18.5h1M264 18.5h1M277 18.5h1M308 18.5h2M313 18.5h1M14 19.5h1M26 19.5h1M32 19.5h2M39 19.5h1M42 19.5h1M54 19.5h2M78 19.5h1M88 19.5h1M105 19.5h2M116 19.5h1M125 19.5h1M130 19.5h1M149 19.5h1M178 19.5h2M194 19.5h1M199 19.5h1M210 19.5h2M216 19.5h1M223 19.5h2M227 19.5h1M229 19.5h1M231 19.5h1M233 19.5h1M236 19.5h1M240 19.5h1M254 19.5h1M276 19.5h1M294 19.5h1M306 19.5h1M313 19.5h1M317 19.5h1M5 20.5h1M8 20.5h1M14 20.5h1M30 20.5h2M35 20.5h1M60 20.5h1M73 20.5h1M76 20.5h1M80 20.5h1M84 20.5h1M103 20.5h1M111 20.5h1M120 20.5h1M131 20.5h1M152 20.5h1M155 20.5h1M160 20.5h1M185 20.5h3M191 20.5h1M195 20.5h1M219 20.5h1M229 20.5h1M234 20.5h1M241 20.5h1M276 20.5h1M282 20.5h1M317 20.5h1M4 21.5h1M23 21.5h2M54 21.5h1M72 21.5h1M82 21.5h1M98 21.5h3M102 21.5h1M121 21.5h1M123 21.5h1M152 21.5h1M160 21.5h1M169 21.5h1M175 21.5h1M184 21.5h1M205 21.5h1M207 21.5h1M229 21.5h1M233 21.5h1M237 21.5h1M239 21.5h1M261 21.5h1M265 21.5h1M275 21.5h2M279 21.5h1M287 21.5h1M315 21.5h1M5 22.5h1M13 22.5h1M27 22.5h1M32 22.5h1M41 22.5h1M47 22.5h1M56 22.5h1M62 22.5h1M77 22.5h1M81 22.5h1M86 22.5h1M90 22.5h1M108 22.5h1M112 22.5h1M121 22.5h1M126 22.5h1M133 22.5h1M144 22.5h1M151 22.5h1M153 22.5h1M160 22.5h1M167 22.5h1M211 22.5h1M217 22.5h1M237 22.5h1M247 22.5h1M260 22.5h1M267 22.5h1M286 22.5h1M295 22.5h2M313 22.5h1M11 23.5h1M32 23.5h1M39 23.5h1M53 23.5h1M71 23.5h1M86 23.5h1M90 23.5h1M106 23.5h2M134 23.5h1M148 23.5h1M157 23.5h1M166 23.5h1M195 23.5h2M200 23.5h1M212 23.5h1M216 23.5h1M221 23.5h2M227 23.5h1M243 23.5h1M252 23.5h1M266 23.5h1M277 23.5h1M279 23.5h1M281 23.5h1M12 24.5h1M18 24.5h1M22 24.5h1M31 24.5h1M34 24.5h1M40 24.5h1M54 24.5h1M110 24.5h1M135 24.5h1M138 24.5h1M152 24.5h1M170 24.5h1M173 24.5h1M223 24.5h1M231 24.5h1M241 24.5h1M278 24.5h1M282 24.5h1M286 24.5h1M309 24.5h1M16 25.5h1M33 25.5h1M87 25.5h1M89 25.5h1M105 25.5h1M139 25.5h1M173 25.5h1M189 25.5h1M217 25.5h1M224 25.5h1M229 25.5h1M234 25.5h1M239 25.5h1M244 25.5h1M251 25.5h1M253 25.5h1M265 25.5h2M285 25.5h1M299 25.5h1M317 25.5h1M1 26.5h1M5 26.5h1M9 26.5h2M16 26.5h1M35 26.5h1M39 26.5h1M83 26.5h1M87 26.5h1M92 26.5h1M97 26.5h1M103 26.5h1M112 26.5h1M115 26.5h1M124 26.5h1M147 26.5h1M178 26.5h1M184 26.5h1M186 26.5h1M190 26.5h1M215 26.5h1M248 26.5h1M260 26.5h1M291 26.5h1M303 26.5h2M318 26.5h1M33 27.5h1M36 27.5h1M52 27.5h1M56 27.5h1M95 27.5h1M103 27.5h1M105 27.5h1M107 27.5h1M138 27.5h1M140 27.5h1M168 27.5h1M184 27.5h1M186 27.5h1M208 27.5h2M221 27.5h1M236 27.5h1M239 27.5h1M241 27.5h1M243 27.5h1M258 27.5h1M264 27.5h1M271 27.5h1M300 27.5h1M306 27.5h1M25 28.5h1M66 28.5h1M94 28.5h1M102 28.5h1M109 28.5h1M129 28.5h1M131 28.5h1M150 28.5h1M154 28.5h1M166 28.5h1M168 28.5h1M200 28.5h1M206 28.5h1M214 28.5h1M223 28.5h1M229 28.5h1M243 28.5h1M257 28.5h1M260 28.5h1M287 28.5h1M289 28.5h1M292 28.5h1M316 28.5h1M18 29.5h2M21 29.5h1M23 29.5h1M42 29.5h1M58 29.5h1M69 29.5h1M102 29.5h1M119 29.5h1M121 29.5h1M124 29.5h1M154 29.5h1M156 29.5h1M184 29.5h1M229 29.5h1M261 29.5h1M276 29.5h1M286 29.5h1M318 29.5h1M2 30.5h1M23 30.5h1M30 30.5h1M32 30.5h1M48 30.5h1M61 30.5h1M3 31.5h2M20 31.5h1M59 31.5h1M61 31.5h1M76 31.5h1M95 31.5h1M129 31.5h1M133 31.5h1M161 31.5h1M205 31.5h1M244 31.5h2M10 32.5h1M18 32.5h1M44 32.5h1M61 32.5h2M81 32.5h1M92 32.5h1M105 32.5h1M130 32.5h1M132 32.5h1M136 32.5h1M142 32.5h1M147 32.5h1M161 32.5h1M181 32.5h2M194 32.5h1M196 32.5h1M198 32.5h1M223 32.5h1M238 32.5h1M271 32.5h1M284 32.5h1M286 32.5h1M301 32.5h1M313 32.5h1M48 33.5h1M75 33.5h1M101 33.5h1M133 33.5h1M143 33.5h1M148 33.5h1M154 33.5h1M159 33.5h1M166 33.5h2M170 33.5h1M181 33.5h1M186 33.5h2M199 33.5h2M229 33.5h2M236 33.5h1M253 33.5h1M286 33.5h1M307 33.5h1M315 33.5h1M13 34.5h1M43 34.5h2M60 34.5h1M88 34.5h1M109 34.5h2M114 34.5h1M141 34.5h1M149 34.5h2M169 34.5h2M175 34.5h1M182 34.5h1M195 34.5h1M208 34.5h1M211 34.5h1M217 34.5h1M253 34.5h1M256 34.5h1M297 34.5h1M316 34.5h2M5 35.5h1M58 35.5h1M96 35.5h1M98 35.5h1M101 35.5h1M123 35.5h1M137 35.5h1M141 35.5h1M149 35.5h1M153 35.5h1M161 35.5h1M173 35.5h1M176 35.5h1M178 35.5h1M202 35.5h1M209 35.5h1M247 35.5h1M262 35.5h1M267 35.5h1M272 35.5h1M279 35.5h2M285 35.5h1M297 35.5h1M306 35.5h1M312 35.5h1M11 36.5h1M31 36.5h2M44 36.5h1M55 36.5h1M57 36.5h1M87 36.5h1M121 36.5h1M152 36.5h1M168 36.5h1M181 36.5h2M186 36.5h1M202 36.5h1M208 36.5h1M227 36.5h1M264 36.5h1M266 36.5h1M275 36.5h1M280 36.5h1M286 36.5h1M293 36.5h1M307 36.5h1M309 36.5h1M7 37.5h1M15 37.5h1M49 37.5h1M84 37.5h1M96 37.5h1M108 37.5h1M120 37.5h1M122 37.5h1M127 37.5h2M134 37.5h1M136 37.5h1M141 37.5h1M174 37.5h2M177 37.5h2M183 37.5h1M200 37.5h1M203 37.5h1M235 37.5h1M246 37.5h1M281 37.5h2M291 37.5h1M13 38.5h1M31 38.5h1M35 38.5h1M65 38.5h1M77 38.5h1M81 38.5h1M94 38.5h1M101 38.5h1M106 38.5h1M127 38.5h1M147 38.5h1M160 38.5h1M171 38.5h1M179 38.5h1M182 38.5h1M186 38.5h1M208 38.5h1M233 38.5h1M246 38.5h1M266 38.5h1M271 38.5h3M285 38.5h1M293 38.5h1M298 38.5h1M308 38.5h1M310 38.5h1M20 39.5h1M46 39.5h1M51 39.5h2M63 39.5h1M66 39.5h1M73 39.5h1M87 39.5h1M95 39.5h1M98 39.5h1M124 39.5h1M152 39.5h1M170 39.5h1M179 39.5h1M251 39.5h1M258 39.5h1M302 39.5h1M308 39.5h1M315 39.5h1"/><path stroke="#0000ff" d="M4 0.5h1M4 -.5h1M17 0.5h1M17 -.5h1M22 0.5h1M22 -.5h1M44 0.5h1M44 -.5h1M60 0.5h1M60 -.5h1M78 0.5h2M78 -.5h2M113 0.5h2M113 -.5h2M117 0.5h1M117 -.5h1M126 0.5h1M126 -.5h1M132 0.5h1M132 -.5h1M168 0.5h1M168 -.5h1M175 0.5h1M175 -.5h1M203 0.5h1M203 -.5h1M206 0.5h1M206 -.5h1M210 0.5h1M210 -.5h1M214 0.5h1M214 -.5h1M233 0.5h1M233 -.5h1M252 0.5h1M252 -.5h1M254 0.5h2M254 -.5h2M262 0.5h1M262 -.5h1M264 0.5h1M264 -.5h1M282 0.5h1M282 -.5h1M286 0.5h1M286 -.5h1M310 0.5h1M310 -.5h1M317 0.5h1M317 -.5h1M24 1.5h2M42 1.5h1M53 1.5h1M57 1.5h1M65 1.5h1M79 1.5h1M81 1.5h1M86 1.5h1M97 1.5h1M107 1.5h1M142 1.5h1M160 1.5h1M168 1.5h1M186 1.5h1M190 1.5h1M214 1.5h1M223 1.5h2M233 1.5h1M242 1.5h1M246 1.5h1M252 1.5h1M258 1.5h1M261 1.5h1M265 1.5h1M269 1.5h1M281 1.5h1M303 1.5h1M308 1.5h1M3 2.5h2M9 2.5h1M22 2.5h2M33 2.5h1M38 2.5h1M63 2.5h1M74 2.5h1M76 2.5h1M119 2.5h1M138 2.5h1M140 2.5h1M145 2.5h1M184 2.5h1M186 2.5h1M196 2.5h1M208 2.5h1M227 2.5h1M251 2.5h1M255 2.5h1M262 2.5h1M284 2.5h1M291 2.5h1M303 2.5h1M314 2.5h1M1 3.5h1M6 3.5h1M8 3.5h1M18 3.5h1M30 3.5h1M49 3.5h1M66 3.5h1M85 3.5h1M102 3.5h1M108 3.5h1M110 3.5h1M125 3.5h1M133 3.5h1M148 3.5h1M157 3.5h1M163 3.5h1M168 3.5h1M170 3.5h1M196 3.5h1M215 3.5h1M236 3.5h2M240 3.5h1M243 3.5h1M275 3.5h1M282 3.5h1M286 3.5h1M288 3.5h1M312 3.5h1M317 3.5h2M10 4.5h1M23 4.5h1M30 4.5h1M40 4.5h1M47 4.5h1M59 4.5h1M69 4.5h1M79 4.5h1M96 4.5h2M109 4.5h1M143 4.5h2M148 4.5h1M162 4.5h1M179 4.5h1M183 4.5h1M195 4.5h1M197 4.5h1M206 4.5h1M221 4.5h1M252 4.5h1M288 4.5h1M299 4.5h3M308 4.5h1M313 4.5h1M319 4.5h1M0 5.5h1M3 5.5h2M19 5.5h1M23 5.5h1M33 5.5h1M48 5.5h1M50 5.5h2M57 5.5h2M76 5.5h1M85 5.5h1M112 5.5h1M125 5.5h1M130 5.5h1M153 5.5h1M173 5.5h1M189 5.5h1M259 5.5h1M317 5.5h1M12 6.5h1M15 6.5h1M40 6.5h1M47 6.5h1M59 6.5h1M72 6.5h1M82 6.5h1M85 6.5h1M99 6.5h1M105 6.5h1M109 6.5h1M111 6.5h1M129 6.5h2M144 6.5h1M146 6.5h1M162 6.5h1M182 6.5h1M186 6.5h2M192 6.5h1M196 6.5h1M200 6.5h2M207 6.5h1M211 6.5h1M217 6.5h1M232 6.5h1M240 6.5h1M248 6.5h1M256 6.5h2M269 6.5h1M281 6.5h2M293 6.5h1M296 6.5h1M298 6.5h1M311 6.5h1M9 7.5h1M19 7.5h1M27 7.5h1M46 7.5h1M48 7.5h1M59 7.5h1M74 7.5h1M91 7.5h1M136 7.5h1M183 7.5h1M188 7.5h1M190 7.5h1M203 7.5h2M214 7.5h1M227 7.5h1M232 7.5h1M237 7.5h1M243 7.5h1M248 7.5h1M254 7.5h1M292 7.5h1M315 7.5h1M35 8.5h1M41 8.5h1M66 8.5h1M71 8.5h1M83 8.5h1M90 8.5h1M145 8.5h1M148 8.5h1M174 8.5h1M220 8.5h1M233 8.5h1M240 8.5h1M259 8.5h1M264 8.5h1M271 8.5h2M10 9.5h1M28 9.5h1M43 9.5h1M61 9.5h1M64 9.5h1M75 9.5h1M78 9.5h1M83 9.5h1M98 9.5h1M113 9.5h1M119 9.5h1M128 9.5h1M133 9.5h1M155 9.5h1M160 9.5h1M171 9.5h1M186 9.5h1M191 9.5h1M197 9.5h1M214 9.5h1M226 9.5h1M229 9.5h1M237 9.5h1M239 9.5h1M244 9.5h1M248 9.5h2M257 9.5h1M287 9.5h1M296 9.5h1M318 9.5h1M6 10.5h1M16 10.5h1M18 10.5h1M72 10.5h1M85 10.5h1M105 10.5h1M112 10.5h1M116 10.5h1M133 10.5h1M156 10.5h1M176 10.5h1M183 10.5h1M202 10.5h1M208 10.5h1M215 10.5h1M221 10.5h1M223 10.5h1M229 10.5h1M237 10.5h1M243 10.5h1M254 10.5h1M259 10.5h1M265 10.5h1M271 10.5h1M273 10.5h1M276 10.5h1M279 10.5h1M293 10.5h1M303 10.5h1M306 10.5h1M312 10.5h1M314 10.5h1M2 11.5h1M25 11.5h2M49 11.5h2M71 11.5h1M93 11.5h1M98 11.5h1M114 11.5h1M127 11.5h1M134 11.5h1M158 11.5h1M193 11.5h1M196 11.5h1M208 11.5h1M219 11.5h1M222 11.5h2M241 11.5h1M261 11.5h1M272 11.5h1M282 11.5h1M286 11.5h1M289 11.5h1M308 11.5h1M312 11.5h1M9 12.5h1M16 12.5h1M32 12.5h1M56 12.5h1M58 12.5h1M77 12.5h1M89 12.5h1M123 12.5h1M125 12.5h1M144 12.5h1M151 12.5h1M159 12.5h1M174 12.5h1M181 12.5h1M186 12.5h1M192 12.5h1M194 12.5h1M205 12.5h1M209 12.5h1M218 12.5h1M251 12.5h2M274 12.5h1M303 12.5h1M318 12.5h1M2 13.5h1M7 13.5h1M17 13.5h1M48 13.5h3M93 13.5h2M135 13.5h1M188 13.5h1M220 13.5h1M224 13.5h1M261 13.5h1M269 13.5h1M288 13.5h1M316 13.5h1M16 14.5h1M21 14.5h1M25 14.5h1M28 14.5h1M34 14.5h1M43 14.5h2M67 14.5h1M114 14.5h1M127 14.5h1M133 14.5h1M149 14.5h1M154 14.5h1M156 14.5h1M159 14.5h1M167 14.5h1M177 14.5h1M182 14.5h1M246 14.5h1M263 14.5h2M271 14.5h1M282 14.5h1M291 14.5h1M297 14.5h1M302 14.5h2M3 15.5h1M12 15.5h3M20 15.5h1M45 15.5h1M51 15.5h1M59 15.5h1M67 15.5h1M84 15.5h1M125 15.5h1M133 15.5h1M138 15.5h1M145 15.5h1M171 15.5h1M188 15.5h1M192 15.5h1M209 15.5h1M214 15.5h1M234 15.5h1M261 15.5h1M280 15.5h1M287 15.5h1M10 16.5h1M58 16.5h1M60 16.5h1M62 16.5h1M76 16.5h1M92 16.5h2M126 16.5h1M145 16.5h1M175 16.5h2M184 16.5h1M189 16.5h1M201 16.5h1M207 16.5h1M214 16.5h1M239 16.5h1M248 16.5h1M262 16.5h1M281 16.5h1M285 16.5h1M310 16.5h1M315 16.5h2M7 17.5h1M10 17.5h1M16 17.5h1M23 17.5h1M35 17.5h1M78 17.5h1M82 17.5h1M90 17.5h1M126 17.5h1M135 17.5h1M140 17.5h2M152 17.5h1M179 17.5h1M208 17.5h1M211 17.5h1M216 17.5h1M220 17.5h1M249 17.5h1M251 17.5h2M262 17.5h1M283 17.5h1M285 17.5h1M290 17.5h1M299 17.5h1M46 18.5h1M57 18.5h1M81 18.5h1M85 18.5h1M126 18.5h1M131 18.5h1M153 18.5h1M158 18.5h1M162 18.5h1M164 18.5h1M179 18.5h1M185 18.5h1M223 18.5h1M230 18.5h1M240 18.5h2M259 18.5h1M265 18.5h1M279 18.5h1M315 18.5h1M12 19.5h1M15 19.5h1M36 19.5h1M45 19.5h1M60 19.5h1M63 19.5h1M71 19.5h1M86 19.5h1M148 19.5h1M154 19.5h1M176 19.5h1M181 19.5h1M183 19.5h1M201 19.5h2M221 19.5h1M248 19.5h1M256 19.5h1M263 19.5h1M283 19.5h1M292 19.5h1M299 19.5h1M307 19.5h1M9 20.5h1M13 20.5h1M15 20.5h1M51 20.5h1M54 20.5h1M61 20.5h1M65 20.5h1M88 20.5h1M95 20.5h1M97 20.5h1M104 20.5h1M112 20.5h1M132 20.5h1M150 20.5h1M168 20.5h1M172 20.5h1M179 20.5h1M202 20.5h1M210 20.5h1M233 20.5h1M238 20.5h1M254 20.5h1M256 20.5h1M268 20.5h1M300 20.5h1M308 20.5h1M5 21.5h1M16 21.5h1M36 21.5h1M47 21.5h1M58 21.5h1M61 21.5h1M65 21.5h1M76 21.5h1M93 21.5h1M107 21.5h1M119 21.5h1M122 21.5h1M131 21.5h1M147 21.5h1M172 21.5h1M185 21.5h1M198 21.5h1M253 21.5h1M289 21.5h1M301 21.5h1M316 21.5h1M46 22.5h1M85 22.5h1M102 22.5h1M124 22.5h1M137 22.5h2M147 22.5h1M149 22.5h1M152 22.5h1M161 22.5h1M164 22.5h1M176 22.5h1M183 22.5h1M185 22.5h1M189 22.5h1M195 22.5h1M214 22.5h1M249 22.5h1M257 22.5h1M262 22.5h1M285 22.5h1M293 22.5h1M317 22.5h1M0 23.5h1M5 23.5h1M8 23.5h1M23 23.5h1M29 23.5h1M31 23.5h1M50 23.5h1M67 23.5h1M73 23.5h1M100 23.5h1M102 23.5h2M109 23.5h1M125 23.5h1M135 23.5h1M156 23.5h1M171 23.5h1M180 23.5h1M193 23.5h1M276 23.5h1M299 23.5h1M305 23.5h1M307 23.5h1M311 23.5h1M318 23.5h1M9 24.5h2M23 24.5h1M47 24.5h1M75 24.5h1M90 24.5h1M115 24.5h1M125 24.5h1M145 24.5h1M158 24.5h1M162 24.5h1M194 24.5h2M199 24.5h1M205 24.5h1M208 24.5h1M212 24.5h1M222 24.5h1M235 24.5h1M238 24.5h1M247 24.5h1M262 24.5h1M314 24.5h1M10 25.5h1M13 25.5h1M32 25.5h1M44 25.5h1M107 25.5h1M150 25.5h1M152 25.5h1M157 25.5h1M164 25.5h1M177 25.5h1M194 25.5h1M198 25.5h1M242 25.5h2M252 25.5h1M268 25.5h1M280 25.5h1M289 25.5h1M294 25.5h1M19 26.5h1M59 26.5h1M88 26.5h1M111 26.5h1M137 26.5h1M139 26.5h2M145 26.5h1M151 26.5h1M159 26.5h1M191 26.5h1M210 26.5h1M214 26.5h1M250 26.5h2M258 26.5h1M266 26.5h1M277 26.5h1M281 26.5h1M296 26.5h1M1 27.5h1M6 27.5h1M11 27.5h1M17 27.5h1M79 27.5h1M81 27.5h1M83 27.5h1M100 27.5h1M123 27.5h1M128 27.5h1M143 27.5h1M166 27.5h1M185 27.5h1M192 27.5h1M247 27.5h1M282 27.5h1M285 27.5h1M310 27.5h1M8 28.5h1M10 28.5h1M39 28.5h1M41 28.5h1M45 28.5h1M76 28.5h1M86 28.5h1M90 28.5h1M117 28.5h1M120 28.5h1M141 28.5h2M147 28.5h1M182 28.5h1M185 28.5h1M189 28.5h2M202 28.5h1M207 28.5h1M224 28.5h1M238 28.5h1M241 28.5h1M259 28.5h1M282 28.5h1M299 28.5h1M2 29.5h1M16 29.5h1M28 29.5h1M40 29.5h1M103 29.5h1M143 29.5h1M155 29.5h1M271 29.5h1M277 29.5h1M311 29.5h1M3 30.5h1M18 30.5h1M35 30.5h1M57 30.5h1M44 31.5h1M52 31.5h1M70 31.5h1M94 31.5h1M130 31.5h1M136 31.5h1M194 31.5h1M272 31.5h1M303 31.5h1M317 31.5h1M53 32.5h2M80 32.5h1M109 32.5h1M112 32.5h1M141 32.5h1M151 32.5h1M162 32.5h1M173 32.5h1M177 32.5h1M191 32.5h1M195 32.5h1M201 32.5h1M216 32.5h1M235 32.5h1M258 32.5h1M269 32.5h1M298 32.5h1M306 32.5h1M308 32.5h1M314 32.5h1M2 33.5h1M18 33.5h1M43 33.5h2M70 33.5h1M72 33.5h1M100 33.5h1M108 33.5h2M120 33.5h1M135 33.5h1M149 33.5h1M178 33.5h1M196 33.5h1M201 33.5h1M205 33.5h1M216 33.5h1M234 33.5h1M250 33.5h1M252 33.5h1M21 34.5h1M48 34.5h1M92 34.5h1M107 34.5h1M120 34.5h1M127 34.5h1M142 34.5h1M162 34.5h1M167 34.5h1M189 34.5h1M200 34.5h1M245 34.5h1M255 34.5h1M264 34.5h2M281 34.5h1M15 35.5h1M22 35.5h1M24 35.5h1M27 35.5h1M56 35.5h1M74 35.5h1M80 35.5h1M95 35.5h1M104 35.5h1M118 35.5h1M146 35.5h1M154 35.5h2M159 35.5h1M168 35.5h1M248 35.5h1M293 35.5h1M309 35.5h1M13 36.5h1M16 36.5h1M21 36.5h2M35 36.5h1M37 36.5h1M83 36.5h1M104 36.5h1M116 36.5h1M119 36.5h1M126 36.5h1M132 36.5h1M139 36.5h1M144 36.5h1M146 36.5h1M164 36.5h1M209 36.5h1M216 36.5h1M226 36.5h1M306 36.5h1M0 37.5h1M2 37.5h1M10 37.5h1M33 37.5h1M43 37.5h1M56 37.5h1M63 37.5h2M75 37.5h1M91 37.5h1M106 37.5h1M130 37.5h1M147 37.5h1M149 37.5h1M156 37.5h1M182 37.5h1M193 37.5h1M204 37.5h1M210 37.5h2M234 37.5h1M243 37.5h1M259 37.5h1M262 37.5h1M304 37.5h2M315 37.5h1M319 37.5h1M36 38.5h1M51 38.5h1M66 38.5h1M87 38.5h1M92 38.5h1M105 38.5h1M107 38.5h1M123 38.5h1M126 38.5h1M142 38.5h1M161 38.5h1M216 38.5h1M218 38.5h1M223 38.5h1M231 38.5h1M254 38.5h1M258 38.5h1M264 38.5h1M269 38.5h1M280 38.5h1M282 38.5h1M290 38.5h1M300 38.5h1M307 38.5h1M314 38.5h1M23 39.5h1M48 39.5h1M64 39.5h1M81 39.5h1M125 39.5h1M137 39.5h1M171 39.5h1M173 39.5h1M184 39.5h1M211 39.5h1M233 39.5h1M238 39.5h1M314 39.5h1"/><path stroke="#000cff" d="M5 0.5h2M5 -.5h2M14 0.5h1M14 -.5h1M76 0.5h1M76 -.5h1M89 0.5h1M89 -.5h1M155 0.5h1M155 -.5h1M159 0.5h1M159 -.5h1M182 0.5h1M182 -.5h1M226 0.5h1M226 -.5h1M245 0.5h2M245 -.5h2M269 0.5h1M269 -.5h1M272 0.5h1M272 -.5h1M290 0.5h1M290 -.5h1M307 0.5h1M307 -.5h1M13 1.5h1M20 1.5h1M49 1.5h1M67 1.5h1M69 1.5h1M87 1.5h1M116 1.5h1M129 1.5h1M140 1.5h1M177 1.5h1M229 1.5h1M245 1.5h1M253 1.5h1M311 1.5h1M313 1.5h1M8 2.5h1M10 2.5h1M12 2.5h1M15 2.5h1M17 2.5h1M24 2.5h1M41 2.5h1M69 2.5h1M115 2.5h1M117 2.5h1M125 2.5h1M132 2.5h1M147 2.5h1M153 2.5h1M156 2.5h1M161 2.5h1M189 2.5h1M210 2.5h1M218 2.5h1M221 2.5h1M245 2.5h1M250 2.5h1M252 2.5h1M257 2.5h1M266 2.5h1M274 2.5h2M302 2.5h1M307 2.5h1M20 3.5h1M37 3.5h1M86 3.5h1M95 3.5h1M99 3.5h1M129 3.5h1M143 3.5h1M162 3.5h1M188 3.5h1M233 3.5h2M241 3.5h1M270 3.5h1M311 3.5h1M6 4.5h3M22 4.5h1M35 4.5h1M58 4.5h1M98 4.5h1M100 4.5h1M107 4.5h1M112 4.5h1M118 4.5h1M136 4.5h1M164 4.5h1M167 4.5h1M204 4.5h1M207 4.5h2M235 4.5h1M251 4.5h1M256 4.5h1M290 4.5h1M17 5.5h1M54 5.5h1M70 5.5h1M73 5.5h1M81 5.5h1M84 5.5h1M94 5.5h1M108 5.5h1M120 5.5h1M126 5.5h1M137 5.5h1M161 5.5h2M177 5.5h1M180 5.5h1M193 5.5h1M195 5.5h1M198 5.5h1M200 5.5h1M217 5.5h2M222 5.5h1M224 5.5h1M230 5.5h1M244 5.5h1M263 5.5h1M291 5.5h1M1 6.5h1M6 6.5h1M31 6.5h1M36 6.5h2M42 6.5h1M53 6.5h1M56 6.5h1M69 6.5h1M71 6.5h1M83 6.5h1M165 6.5h1M181 6.5h1M184 6.5h1M190 6.5h1M203 6.5h1M208 6.5h1M212 6.5h1M239 6.5h1M266 6.5h1M271 6.5h1M292 6.5h1M8 7.5h1M20 7.5h1M35 7.5h1M44 7.5h1M51 7.5h1M77 7.5h1M89 7.5h1M112 7.5h1M141 7.5h2M153 7.5h1M187 7.5h1M206 7.5h1M230 7.5h1M240 7.5h1M251 7.5h2M259 7.5h1M262 7.5h1M270 7.5h1M275 7.5h1M278 7.5h1M308 7.5h1M311 7.5h1M2 8.5h1M6 8.5h1M10 8.5h1M26 8.5h1M31 8.5h1M38 8.5h1M58 8.5h1M67 8.5h1M93 8.5h1M115 8.5h1M133 8.5h1M136 8.5h1M157 8.5h1M167 8.5h1M172 8.5h1M181 8.5h1M186 8.5h1M194 8.5h1M197 8.5h1M206 8.5h1M214 8.5h1M216 8.5h1M244 8.5h1M274 8.5h1M280 8.5h1M286 8.5h1M303 8.5h1M3 9.5h1M22 9.5h1M26 9.5h1M29 9.5h1M66 9.5h1M70 9.5h3M74 9.5h1M108 9.5h1M130 9.5h1M151 9.5h1M164 9.5h1M173 9.5h1M177 9.5h1M202 9.5h1M208 9.5h1M222 9.5h1M234 9.5h1M240 9.5h1M297 9.5h1M7 10.5h1M19 10.5h1M31 10.5h1M74 10.5h1M114 10.5h1M117 10.5h2M139 10.5h1M144 10.5h2M185 10.5h1M213 10.5h1M241 10.5h1M287 10.5h1M4 11.5h1M8 11.5h1M42 11.5h3M75 11.5h1M84 11.5h2M156 11.5h1M162 11.5h1M178 11.5h2M186 11.5h1M199 11.5h1M203 11.5h2M209 11.5h2M215 11.5h1M220 11.5h2M242 11.5h2M245 11.5h1M283 11.5h1M303 11.5h1M13 12.5h2M23 12.5h1M34 12.5h1M36 12.5h1M51 12.5h1M60 12.5h1M62 12.5h2M87 12.5h1M136 12.5h1M143 12.5h1M176 12.5h1M183 12.5h1M193 12.5h1M208 12.5h1M214 12.5h1M229 12.5h1M248 12.5h1M254 12.5h1M267 12.5h1M278 12.5h1M299 12.5h1M304 12.5h1M311 12.5h3M0 13.5h1M21 13.5h1M97 13.5h1M109 13.5h1M160 13.5h1M24 14.5h1M54 14.5h1M57 14.5h1M62 14.5h1M66 14.5h1M104 14.5h1M126 14.5h1M128 14.5h1M139 14.5h1M155 14.5h1M172 14.5h1M190 14.5h1M192 14.5h1M202 14.5h1M205 14.5h1M211 14.5h1M216 14.5h1M239 14.5h1M276 14.5h1M288 14.5h1M304 14.5h1M312 14.5h1M7 15.5h2M29 15.5h1M57 15.5h2M61 15.5h2M75 15.5h1M82 15.5h1M94 15.5h1M134 15.5h1M143 15.5h1M156 15.5h1M162 15.5h1M177 15.5h1M193 15.5h1M217 15.5h1M224 15.5h1M233 15.5h1M274 15.5h1M285 15.5h1M293 15.5h1M296 15.5h1M309 15.5h1M7 16.5h1M17 16.5h1M50 16.5h1M53 16.5h2M64 16.5h1M96 16.5h1M109 16.5h1M118 16.5h1M129 16.5h1M143 16.5h1M154 16.5h1M164 16.5h1M170 16.5h1M182 16.5h1M197 16.5h1M213 16.5h1M233 16.5h1M241 16.5h1M253 16.5h1M268 16.5h1M287 16.5h1M295 16.5h1M297 16.5h1M309 16.5h1M319 16.5h1M6 17.5h1M39 17.5h2M46 17.5h1M57 17.5h1M87 17.5h2M98 17.5h1M121 17.5h1M130 17.5h1M144 17.5h1M195 17.5h1M202 17.5h1M236 17.5h1M243 17.5h1M255 17.5h1M261 17.5h1M271 17.5h1M303 17.5h1M313 17.5h1M316 17.5h1M318 17.5h1M11 18.5h1M19 18.5h1M23 18.5h1M39 18.5h1M63 18.5h1M75 18.5h2M95 18.5h1M101 18.5h1M111 18.5h1M121 18.5h1M127 18.5h2M142 18.5h1M146 18.5h1M152 18.5h1M155 18.5h1M182 18.5h1M200 18.5h1M219 18.5h1M221 18.5h1M268 18.5h1M280 18.5h1M298 18.5h1M319 18.5h1M2 19.5h1M13 19.5h1M22 19.5h1M35 19.5h1M44 19.5h1M47 19.5h1M49 19.5h1M61 19.5h1M84 19.5h1M97 19.5h1M121 19.5h1M124 19.5h1M126 19.5h1M133 19.5h1M147 19.5h1M159 19.5h1M165 19.5h1M182 19.5h1M191 19.5h1M195 19.5h1M197 19.5h1M251 19.5h1M274 19.5h1M285 19.5h1M290 19.5h2M304 19.5h1M25 20.5h1M91 20.5h1M102 20.5h1M105 20.5h1M107 20.5h2M138 20.5h1M141 20.5h1M147 20.5h1M151 20.5h1M157 20.5h1M161 20.5h2M175 20.5h1M182 20.5h1M189 20.5h1M209 20.5h1M271 20.5h1M281 20.5h1M298 20.5h1M318 20.5h1M22 21.5h1M41 21.5h2M44 21.5h1M63 21.5h1M90 21.5h1M97 21.5h1M101 21.5h1M125 21.5h1M156 21.5h1M181 21.5h1M195 21.5h1M251 21.5h1M263 21.5h1M309 21.5h1M17 22.5h1M38 22.5h2M57 22.5h1M82 22.5h1M95 22.5h1M97 22.5h1M154 22.5h1M188 22.5h1M253 22.5h1M258 22.5h1M265 22.5h1M9 23.5h1M22 23.5h1M28 23.5h1M52 23.5h1M78 23.5h1M87 23.5h1M111 23.5h3M122 23.5h1M163 23.5h1M179 23.5h1M215 23.5h1M238 23.5h1M245 23.5h1M298 23.5h1M313 23.5h1M7 24.5h1M28 24.5h1M44 24.5h1M48 24.5h1M63 24.5h1M81 24.5h1M83 24.5h1M93 24.5h2M102 24.5h1M117 24.5h1M126 24.5h1M131 24.5h2M139 24.5h1M181 24.5h2M185 24.5h1M191 24.5h1M202 24.5h1M204 24.5h1M236 24.5h1M239 24.5h1M249 24.5h1M277 24.5h1M280 24.5h1M302 24.5h1M312 24.5h1M15 25.5h1M25 25.5h1M64 25.5h1M77 25.5h1M86 25.5h1M90 25.5h1M96 25.5h1M100 25.5h1M113 25.5h2M118 25.5h1M121 25.5h1M143 25.5h1M162 25.5h1M176 25.5h1M179 25.5h1M184 25.5h1M225 25.5h1M284 25.5h1M300 25.5h1M316 25.5h1M47 26.5h1M60 26.5h1M62 26.5h1M65 26.5h1M71 26.5h1M73 26.5h1M120 26.5h1M130 26.5h1M144 26.5h1M154 26.5h1M162 26.5h1M165 26.5h1M217 26.5h1M239 26.5h1M270 26.5h1M317 26.5h1M39 27.5h1M42 27.5h1M46 27.5h1M59 27.5h1M63 27.5h1M72 27.5h1M77 27.5h1M109 27.5h1M111 27.5h2M117 27.5h1M136 27.5h1M176 27.5h1M189 27.5h1M218 27.5h1M224 27.5h1M235 27.5h1M242 27.5h1M255 27.5h1M291 27.5h1M294 27.5h1M312 27.5h1M0 28.5h1M4 28.5h1M15 28.5h1M29 28.5h1M44 28.5h1M67 28.5h2M77 28.5h1M92 28.5h1M119 28.5h1M126 28.5h1M134 28.5h1M153 28.5h1M157 28.5h1M188 28.5h1M211 28.5h1M244 28.5h1M265 28.5h1M269 28.5h1M275 28.5h1M279 28.5h1M283 28.5h1M293 28.5h1M297 28.5h1M319 28.5h1M5 29.5h1M25 29.5h2M51 29.5h1M76 29.5h1M79 29.5h1M99 29.5h1M114 29.5h1M123 29.5h1M135 29.5h1M191 29.5h1M228 29.5h1M232 29.5h1M240 29.5h1M245 29.5h1M309 29.5h1M312 29.5h1M315 29.5h1M39 30.5h1M52 30.5h1M70 30.5h1M8 31.5h1M18 31.5h1M28 31.5h1M43 31.5h1M46 31.5h1M63 31.5h1M66 31.5h1M93 31.5h1M190 31.5h1M280 31.5h1M293 31.5h1M5 32.5h1M28 32.5h1M36 32.5h1M47 32.5h2M50 32.5h1M56 32.5h1M64 32.5h1M73 32.5h1M90 32.5h1M107 32.5h1M111 32.5h1M184 32.5h1M197 32.5h1M199 32.5h1M205 32.5h1M213 32.5h1M230 32.5h1M233 32.5h1M236 32.5h1M247 32.5h1M272 32.5h1M296 32.5h1M8 33.5h1M17 33.5h1M30 33.5h1M40 33.5h1M42 33.5h1M68 33.5h1M114 33.5h1M132 33.5h1M175 33.5h1M184 33.5h1M194 33.5h1M217 33.5h1M233 33.5h1M239 33.5h1M251 33.5h1M265 33.5h1M308 33.5h1M313 33.5h1M18 34.5h1M25 34.5h1M49 34.5h1M71 34.5h1M93 34.5h2M98 34.5h1M151 34.5h1M159 34.5h1M179 34.5h1M196 34.5h1M216 34.5h1M285 34.5h1M291 34.5h1M300 34.5h1M305 34.5h1M308 34.5h1M314 34.5h1M29 35.5h1M55 35.5h1M77 35.5h1M81 35.5h2M106 35.5h1M111 35.5h1M158 35.5h1M179 35.5h1M217 35.5h1M226 35.5h1M269 35.5h1M283 35.5h1M305 35.5h1M314 35.5h1M5 36.5h1M50 36.5h2M53 36.5h2M69 36.5h2M96 36.5h1M102 36.5h1M107 36.5h1M109 36.5h1M129 36.5h1M149 36.5h1M189 36.5h1M193 36.5h1M213 36.5h1M218 36.5h1M248 36.5h1M260 36.5h1M268 36.5h1M296 36.5h1M303 36.5h1M312 36.5h1M314 36.5h1M34 37.5h1M66 37.5h1M73 37.5h1M115 37.5h1M148 37.5h1M171 37.5h1M191 37.5h2M250 37.5h1M254 37.5h1M264 37.5h1M278 37.5h1M285 37.5h1M290 37.5h1M303 37.5h1M6 38.5h1M37 38.5h1M47 38.5h1M76 38.5h1M96 38.5h1M109 38.5h1M120 38.5h1M149 38.5h2M169 38.5h1M203 38.5h1M209 38.5h1M226 38.5h1M232 38.5h1M265 38.5h1M270 38.5h1M8 39.5h1M85 39.5h1M100 39.5h1M103 39.5h1M118 39.5h1M120 39.5h1M132 39.5h1M143 39.5h1M164 39.5h1M212 39.5h2M235 39.5h1M245 39.5h1M260 39.5h1M275 39.5h1M301 39.5h1"/><path stroke="#0033ff" d="M8 0.5h1M8 -.5h1M171 0.5h1M171 -.5h1M224 0.5h1M224 -.5h1M301 0.5h1M301 -.5h1M309 0.5h1M309 -.5h1M91 1.5h1M217 1.5h1M251 1.5h1M13 2.5h1M35 2.5h1M94 2.5h1M106 2.5h1M231 2.5h1M296 2.5h1M113 3.5h1M221 3.5h1M268 3.5h1M52 4.5h1M84 4.5h1M127 4.5h1M129 4.5h1M227 4.5h1M241 4.5h1M250 4.5h1M266 4.5h1M274 4.5h1M289 4.5h1M21 5.5h1M151 5.5h1M164 5.5h1M167 5.5h1M185 5.5h1M19 6.5h1M141 6.5h1M173 6.5h1M193 6.5h1M220 6.5h1M267 6.5h1M304 6.5h1M314 6.5h1M32 7.5h1M65 7.5h1M87 7.5h1M128 7.5h1M135 7.5h1M171 7.5h1M226 7.5h1M256 7.5h1M258 7.5h1M1 8.5h1M28 8.5h1M70 8.5h1M142 8.5h1M152 8.5h1M155 8.5h1M184 8.5h1M191 8.5h1M200 8.5h1M239 8.5h1M250 8.5h1M253 8.5h1M270 8.5h1M12 9.5h1M15 9.5h1M41 9.5h1M51 9.5h1M115 9.5h1M117 9.5h2M136 9.5h1M150 9.5h1M165 9.5h1M211 9.5h1M242 9.5h1M252 9.5h1M267 9.5h1M269 9.5h1M289 9.5h1M24 10.5h1M29 10.5h2M52 10.5h1M69 10.5h1M78 10.5h1M88 10.5h1M109 10.5h1M120 10.5h1M135 10.5h1M192 10.5h1M210 10.5h1M284 10.5h1M298 10.5h1M304 10.5h1M309 10.5h1M15 11.5h1M30 11.5h1M57 11.5h1M83 11.5h1M111 11.5h2M129 11.5h1M144 11.5h1M176 11.5h1M205 11.5h1M259 11.5h1M263 11.5h1M267 11.5h1M270 11.5h1M296 11.5h1M304 11.5h1M315 11.5h1M7 12.5h1M47 12.5h1M95 12.5h1M124 12.5h1M130 12.5h1M148 12.5h1M237 12.5h1M244 12.5h1M268 12.5h1M119 13.5h1M139 13.5h1M186 13.5h1M250 13.5h1M307 13.5h1M53 14.5h1M204 14.5h1M222 14.5h1M232 14.5h1M234 14.5h1M238 14.5h1M257 14.5h1M265 14.5h1M314 14.5h1M22 15.5h1M89 15.5h1M105 15.5h1M124 15.5h1M154 15.5h1M161 15.5h1M165 15.5h1M185 15.5h1M195 15.5h1M216 15.5h1M241 15.5h1M314 15.5h1M6 16.5h1M43 16.5h1M51 16.5h1M88 16.5h1M135 16.5h1M153 16.5h1M193 16.5h1M210 16.5h1M212 16.5h1M250 16.5h1M255 16.5h1M266 16.5h1M275 16.5h1M298 16.5h1M11 17.5h1M15 17.5h1M22 17.5h1M31 17.5h1M49 17.5h1M101 17.5h1M147 17.5h1M158 17.5h1M183 17.5h1M196 17.5h1M217 17.5h1M238 17.5h1M240 17.5h1M300 17.5h1M302 17.5h1M28 18.5h1M58 18.5h1M97 18.5h1M108 18.5h1M171 18.5h1M270 18.5h1M278 18.5h1M46 19.5h1M82 19.5h2M158 19.5h1M172 19.5h1M206 19.5h1M255 19.5h1M287 19.5h1M293 19.5h1M311 19.5h1M6 20.5h1M18 20.5h1M32 20.5h1M42 20.5h1M45 20.5h1M53 20.5h1M63 20.5h1M67 20.5h1M78 20.5h1M134 20.5h1M188 20.5h1M207 20.5h1M211 20.5h1M230 20.5h1M237 20.5h1M275 20.5h1M279 20.5h1M56 21.5h1M64 21.5h1M69 21.5h1M73 21.5h1M126 21.5h1M139 21.5h1M141 21.5h1M153 21.5h2M200 21.5h1M202 21.5h1M204 21.5h1M218 21.5h1M223 21.5h1M228 21.5h1M230 21.5h1M19 22.5h1M36 22.5h1M43 22.5h1M49 22.5h1M68 22.5h1M92 22.5h1M125 22.5h1M127 22.5h1M184 22.5h1M225 22.5h1M228 22.5h1M259 22.5h1M261 22.5h1M301 22.5h1M316 22.5h1M7 23.5h1M19 23.5h1M42 23.5h1M60 23.5h1M74 23.5h1M85 23.5h1M101 23.5h1M170 23.5h1M178 23.5h1M206 23.5h1M209 23.5h1M218 23.5h1M249 23.5h1M272 23.5h1M13 24.5h1M30 24.5h1M37 24.5h1M79 24.5h1M89 24.5h1M137 24.5h1M192 24.5h1M211 24.5h1M213 24.5h1M218 24.5h1M244 24.5h1M248 24.5h1M251 24.5h1M254 24.5h1M258 24.5h1M269 24.5h1M316 24.5h1M0 25.5h1M18 25.5h1M20 25.5h3M30 25.5h1M37 25.5h1M55 25.5h1M69 25.5h1M74 25.5h1M102 25.5h1M106 25.5h1M151 25.5h1M201 25.5h1M203 25.5h1M246 25.5h1M254 25.5h1M312 25.5h1M7 26.5h1M113 26.5h1M123 26.5h1M156 26.5h1M161 26.5h1M176 26.5h1M179 26.5h1M181 26.5h1M207 26.5h1M310 26.5h1M14 27.5h1M21 27.5h1M43 27.5h1M55 27.5h1M75 27.5h1M85 27.5h1M88 27.5h1M137 27.5h1M149 27.5h1M179 27.5h1M190 27.5h1M223 27.5h1M281 27.5h1M284 27.5h1M301 27.5h1M9 28.5h1M36 28.5h1M57 28.5h1M60 28.5h1M72 28.5h1M87 28.5h1M122 28.5h1M127 28.5h1M135 28.5h1M187 28.5h1M225 28.5h2M230 28.5h1M234 28.5h1M274 28.5h1M310 28.5h1M318 28.5h1M9 29.5h1M45 29.5h1M49 29.5h1M84 29.5h1M95 29.5h1M104 29.5h1M108 29.5h2M144 29.5h1M152 29.5h1M160 29.5h1M173 29.5h1M198 29.5h1M205 29.5h1M210 29.5h1M222 29.5h1M226 29.5h1M251 29.5h1M253 29.5h1M289 29.5h1M300 29.5h1M306 29.5h1M319 29.5h1M1 30.5h1M38 30.5h1M55 30.5h1M23 31.5h1M27 31.5h1M40 31.5h1M55 31.5h1M87 31.5h1M101 31.5h1M112 31.5h1M128 31.5h1M166 31.5h1M179 31.5h1M208 31.5h1M229 31.5h1M249 31.5h1M268 31.5h1M276 31.5h1M2 32.5h1M45 32.5h1M93 32.5h1M110 32.5h1M114 32.5h1M127 32.5h1M163 32.5h1M210 32.5h1M214 32.5h1M266 32.5h1M282 32.5h1M291 32.5h1M300 32.5h1M310 32.5h1M21 33.5h2M41 33.5h1M45 33.5h1M81 33.5h1M84 33.5h1M88 33.5h1M93 33.5h1M112 33.5h1M125 33.5h1M160 33.5h1M180 33.5h1M182 33.5h1M210 33.5h1M212 33.5h1M214 33.5h1M227 33.5h1M242 33.5h1M274 33.5h1M287 33.5h1M290 33.5h2M45 34.5h1M51 34.5h1M63 34.5h1M85 34.5h1M99 34.5h2M135 34.5h1M163 34.5h1M183 34.5h2M207 34.5h1M226 34.5h1M262 34.5h1M271 34.5h1M59 35.5h1M67 35.5h2M93 35.5h1M97 35.5h1M125 35.5h2M139 35.5h1M169 35.5h1M187 35.5h1M191 35.5h1M199 35.5h1M203 35.5h1M277 35.5h1M315 35.5h1M2 36.5h1M4 36.5h1M78 36.5h1M85 36.5h1M99 36.5h1M134 36.5h1M154 36.5h1M156 36.5h1M196 36.5h1M281 36.5h1M313 36.5h1M3 37.5h1M13 37.5h1M22 37.5h1M31 37.5h1M71 37.5h1M187 37.5h1M268 37.5h1M276 37.5h1M287 37.5h1M297 37.5h1M313 37.5h1M14 38.5h1M26 38.5h1M32 38.5h1M53 38.5h1M58 38.5h1M60 38.5h2M111 38.5h1M135 38.5h2M198 38.5h1M204 38.5h1M219 38.5h1M253 38.5h1M287 38.5h1M15 39.5h2M22 39.5h1M68 39.5h1M77 39.5h1M86 39.5h1M101 39.5h1M123 39.5h1M134 39.5h1M141 39.5h1M145 39.5h1M167 39.5h1M195 39.5h1M208 39.5h2M237 39.5h1M276 39.5h1M280 39.5h1M285 39.5h1M287 39.5h1"/><path stroke="#0000e5" d="M9 0.5h1M9 -.5h1M12 0.5h1M12 -.5h1M15 0.5h1M15 -.5h1M41 0.5h1M41 -.5h1M53 0.5h1M53 -.5h1M64 0.5h1M64 -.5h1M71 0.5h3M71 -.5h3M96 0.5h1M96 -.5h1M102 0.5h1M102 -.5h1M106 0.5h1M106 -.5h1M119 0.5h1M119 -.5h1M134 0.5h1M134 -.5h1M136 0.5h1M136 -.5h1M152 0.5h1M152 -.5h1M161 0.5h1M161 -.5h1M169 0.5h1M169 -.5h1M179 0.5h1M179 -.5h1M184 0.5h1M184 -.5h1M187 0.5h1M187 -.5h1M193 0.5h1M193 -.5h1M197 0.5h1M197 -.5h1M208 0.5h1M208 -.5h1M211 0.5h1M211 -.5h1M227 0.5h1M227 -.5h1M283 0.5h1M283 -.5h1M285 0.5h1M285 -.5h1M292 0.5h1M292 -.5h1M299 0.5h1M299 -.5h1M5 1.5h1M15 1.5h1M19 1.5h1M21 1.5h1M45 1.5h1M47 1.5h1M51 1.5h1M54 1.5h2M58 1.5h1M60 1.5h1M63 1.5h1M75 1.5h1M77 1.5h1M80 1.5h1M84 1.5h1M96 1.5h1M98 1.5h1M102 1.5h2M111 1.5h1M115 1.5h1M117 1.5h1M126 1.5h2M130 1.5h1M132 1.5h1M157 1.5h1M172 1.5h1M182 1.5h1M187 1.5h1M191 1.5h1M200 1.5h1M202 1.5h1M210 1.5h1M220 1.5h2M232 1.5h1M256 1.5h1M288 1.5h1M301 1.5h1M314 1.5h1M319 1.5h1M18 2.5h1M20 2.5h1M28 2.5h1M45 2.5h1M51 2.5h1M60 2.5h2M70 2.5h1M72 2.5h1M77 2.5h1M81 2.5h1M92 2.5h1M109 2.5h1M112 2.5h1M116 2.5h1M122 2.5h1M126 2.5h1M130 2.5h1M135 2.5h2M143 2.5h1M150 2.5h3M160 2.5h1M167 2.5h2M176 2.5h1M185 2.5h1M198 2.5h1M200 2.5h1M207 2.5h1M209 2.5h1M217 2.5h1M222 2.5h1M224 2.5h1M232 2.5h1M239 2.5h1M243 2.5h1M264 2.5h1M268 2.5h1M282 2.5h1M288 2.5h1M304 2.5h1M311 2.5h1M313 2.5h1M317 2.5h2M11 3.5h1M19 3.5h1M29 3.5h1M44 3.5h1M61 3.5h1M64 3.5h1M68 3.5h1M89 3.5h1M92 3.5h1M100 3.5h1M106 3.5h2M109 3.5h1M150 3.5h1M169 3.5h1M171 3.5h1M178 3.5h1M200 3.5h1M206 3.5h1M208 3.5h1M212 3.5h1M224 3.5h2M235 3.5h1M245 3.5h1M259 3.5h1M271 3.5h1M291 3.5h1M297 3.5h1M303 3.5h1M314 3.5h1M12 4.5h2M15 4.5h1M21 4.5h1M28 4.5h1M44 4.5h1M74 4.5h1M81 4.5h1M85 4.5h1M87 4.5h1M108 4.5h1M111 4.5h1M115 4.5h1M155 4.5h1M158 4.5h1M172 4.5h1M176 4.5h1M194 4.5h1M226 4.5h1M228 4.5h1M243 4.5h1M249 4.5h1M259 4.5h1M269 4.5h1M278 4.5h2M297 4.5h1M304 4.5h1M314 4.5h2M8 5.5h2M11 5.5h1M18 5.5h1M31 5.5h1M34 5.5h1M62 5.5h1M71 5.5h2M74 5.5h1M78 5.5h1M87 5.5h1M100 5.5h1M110 5.5h1M131 5.5h2M138 5.5h1M141 5.5h1M148 5.5h1M176 5.5h1M178 5.5h1M187 5.5h1M197 5.5h1M203 5.5h2M210 5.5h1M223 5.5h1M225 5.5h2M233 5.5h1M236 5.5h2M247 5.5h1M256 5.5h1M261 5.5h1M265 5.5h1M267 5.5h1M284 5.5h1M314 5.5h1M8 6.5h1M22 6.5h1M24 6.5h1M29 6.5h1M34 6.5h1M41 6.5h1M44 6.5h2M48 6.5h2M57 6.5h1M63 6.5h1M68 6.5h1M70 6.5h1M75 6.5h1M100 6.5h1M114 6.5h1M121 6.5h1M124 6.5h1M138 6.5h1M142 6.5h1M145 6.5h1M157 6.5h1M164 6.5h1M176 6.5h1M183 6.5h1M189 6.5h1M198 6.5h1M210 6.5h1M228 6.5h1M244 6.5h1M246 6.5h1M283 6.5h1M302 6.5h1M309 6.5h1M312 6.5h1M12 7.5h1M36 7.5h2M47 7.5h1M50 7.5h1M61 7.5h1M64 7.5h1M78 7.5h1M85 7.5h1M103 7.5h1M111 7.5h1M121 7.5h2M134 7.5h1M147 7.5h1M157 7.5h1M168 7.5h1M180 7.5h1M186 7.5h1M189 7.5h1M196 7.5h1M224 7.5h2M236 7.5h1M239 7.5h1M253 7.5h1M265 7.5h1M267 7.5h1M282 7.5h2M287 7.5h1M289 7.5h1M314 7.5h1M14 8.5h1M20 8.5h1M22 8.5h2M42 8.5h1M44 8.5h1M53 8.5h1M62 8.5h1M65 8.5h1M79 8.5h1M91 8.5h1M99 8.5h1M104 8.5h2M111 8.5h1M131 8.5h1M149 8.5h1M169 8.5h1M189 8.5h1M196 8.5h1M203 8.5h1M225 8.5h1M232 8.5h1M248 8.5h1M255 8.5h1M268 8.5h1M273 8.5h1M293 8.5h1M295 8.5h1M299 8.5h2M307 8.5h1M311 8.5h1M313 8.5h1M31 9.5h1M39 9.5h1M65 9.5h1M95 9.5h1M123 9.5h1M129 9.5h1M139 9.5h1M143 9.5h1M154 9.5h1M172 9.5h1M184 9.5h1M204 9.5h1M210 9.5h1M215 9.5h1M217 9.5h1M236 9.5h1M245 9.5h1M260 9.5h1M299 9.5h1M307 9.5h3M313 9.5h1M9 10.5h1M13 10.5h1M22 10.5h1M39 10.5h1M66 10.5h1M73 10.5h1M87 10.5h1M95 10.5h2M100 10.5h1M119 10.5h1M126 10.5h1M136 10.5h2M158 10.5h1M163 10.5h2M170 10.5h1M177 10.5h1M181 10.5h1M184 10.5h1M188 10.5h2M193 10.5h1M203 10.5h1M218 10.5h1M222 10.5h1M224 10.5h1M228 10.5h1M231 10.5h1M253 10.5h1M262 10.5h1M275 10.5h1M289 10.5h1M6 11.5h2M16 11.5h1M27 11.5h1M40 11.5h1M86 11.5h1M106 11.5h1M110 11.5h1M124 11.5h1M133 11.5h1M140 11.5h1M142 11.5h1M151 11.5h1M161 11.5h1M167 11.5h1M182 11.5h1M185 11.5h1M201 11.5h1M211 11.5h1M218 11.5h1M226 11.5h1M232 11.5h1M273 11.5h1M276 11.5h1M290 11.5h1M297 11.5h1M307 11.5h1M31 12.5h1M41 12.5h1M48 12.5h1M50 12.5h1M66 12.5h2M69 12.5h1M84 12.5h1M91 12.5h1M98 12.5h1M101 12.5h1M113 12.5h1M115 12.5h1M129 12.5h1M153 12.5h1M160 12.5h1M172 12.5h1M199 12.5h1M201 12.5h1M206 12.5h1M233 12.5h1M247 12.5h1M264 12.5h1M266 12.5h1M271 12.5h1M276 12.5h1M280 12.5h1M285 12.5h1M287 12.5h1M301 12.5h1M305 12.5h1M22 13.5h1M45 13.5h1M51 13.5h1M55 13.5h1M57 13.5h1M99 13.5h1M114 13.5h1M123 13.5h1M151 13.5h1M213 13.5h1M221 13.5h1M229 13.5h1M237 13.5h1M272 13.5h1M309 13.5h1M318 13.5h1M15 14.5h1M31 14.5h1M41 14.5h1M49 14.5h1M56 14.5h1M72 14.5h1M81 14.5h1M86 14.5h1M110 14.5h1M116 14.5h1M136 14.5h1M138 14.5h1M147 14.5h1M158 14.5h1M170 14.5h1M187 14.5h1M191 14.5h1M200 14.5h1M203 14.5h1M214 14.5h1M235 14.5h1M243 14.5h1M247 14.5h1M269 14.5h1M277 14.5h1M281 14.5h1M308 14.5h1M319 14.5h1M0 15.5h1M60 15.5h1M81 15.5h1M96 15.5h1M100 15.5h1M119 15.5h1M147 15.5h1M149 15.5h1M166 15.5h1M168 15.5h1M170 15.5h1M178 15.5h1M204 15.5h1M206 15.5h1M212 15.5h1M215 15.5h1M248 15.5h1M250 15.5h1M264 15.5h1M269 15.5h2M278 15.5h1M283 15.5h2M288 15.5h1M291 15.5h1M300 15.5h1M304 15.5h2M310 15.5h2M319 15.5h1M24 16.5h1M36 16.5h1M38 16.5h1M48 16.5h1M63 16.5h1M66 16.5h1M68 16.5h2M77 16.5h1M86 16.5h1M91 16.5h1M95 16.5h1M98 16.5h2M110 16.5h1M120 16.5h1M123 16.5h1M128 16.5h1M144 16.5h1M188 16.5h1M199 16.5h1M203 16.5h1M215 16.5h1M218 16.5h1M222 16.5h1M252 16.5h1M257 16.5h1M278 16.5h1M282 16.5h1M299 16.5h1M301 16.5h1M312 16.5h1M314 16.5h1M318 16.5h1M0 17.5h1M8 17.5h1M19 17.5h1M28 17.5h1M30 17.5h1M42 17.5h1M44 17.5h1M55 17.5h1M58 17.5h1M67 17.5h1M73 17.5h1M83 17.5h1M95 17.5h1M99 17.5h1M113 17.5h1M125 17.5h1M132 17.5h1M149 17.5h1M159 17.5h1M162 17.5h1M194 17.5h1M218 17.5h1M227 17.5h1M230 17.5h1M260 17.5h1M273 17.5h1M275 17.5h2M287 17.5h1M304 17.5h1M310 17.5h1M8 18.5h1M35 18.5h1M50 18.5h1M55 18.5h1M59 18.5h1M93 18.5h1M114 18.5h1M132 18.5h1M154 18.5h1M156 18.5h1M170 18.5h1M216 18.5h1M246 18.5h1M255 18.5h1M262 18.5h1M271 18.5h1M284 18.5h1M299 18.5h1M307 18.5h1M310 18.5h1M7 19.5h1M38 19.5h1M40 19.5h1M48 19.5h1M96 19.5h1M98 19.5h1M102 19.5h1M104 19.5h1M129 19.5h1M141 19.5h1M145 19.5h1M153 19.5h1M164 19.5h1M184 19.5h1M208 19.5h1M220 19.5h1M234 19.5h2M243 19.5h1M259 19.5h1M270 19.5h1M277 19.5h1M295 19.5h1M297 19.5h1M310 19.5h1M2 20.5h1M20 20.5h1M23 20.5h1M36 20.5h1M74 20.5h1M99 20.5h1M101 20.5h1M130 20.5h1M142 20.5h1M180 20.5h1M190 20.5h1M205 20.5h2M217 20.5h1M222 20.5h1M227 20.5h1M232 20.5h1M250 20.5h1M284 20.5h1M286 20.5h1M294 20.5h2M303 20.5h1M11 21.5h1M17 21.5h1M30 21.5h1M33 21.5h2M37 21.5h1M39 21.5h2M52 21.5h2M57 21.5h1M89 21.5h1M92 21.5h1M108 21.5h1M116 21.5h1M130 21.5h1M134 21.5h1M138 21.5h1M151 21.5h1M157 21.5h1M168 21.5h1M190 21.5h2M193 21.5h1M224 21.5h2M246 21.5h1M262 21.5h1M264 21.5h1M271 21.5h1M285 21.5h1M300 21.5h1M0 22.5h1M6 22.5h1M22 22.5h1M65 22.5h1M91 22.5h1M96 22.5h1M104 22.5h1M148 22.5h1M157 22.5h1M180 22.5h1M182 22.5h1M224 22.5h1M242 22.5h1M244 22.5h1M248 22.5h1M277 22.5h1M279 22.5h1M297 22.5h1M308 22.5h2M311 22.5h1M21 23.5h1M43 23.5h2M49 23.5h1M51 23.5h1M56 23.5h1M65 23.5h1M70 23.5h1M77 23.5h1M79 23.5h1M94 23.5h1M118 23.5h1M128 23.5h1M142 23.5h1M147 23.5h1M149 23.5h1M167 23.5h1M205 23.5h1M211 23.5h1M226 23.5h1M254 23.5h1M265 23.5h1M267 23.5h1M291 23.5h1M303 23.5h1M308 23.5h1M16 24.5h1M25 24.5h1M51 24.5h1M53 24.5h1M61 24.5h1M74 24.5h1M85 24.5h1M95 24.5h1M113 24.5h1M118 24.5h1M144 24.5h1M149 24.5h1M160 24.5h1M175 24.5h2M184 24.5h1M197 24.5h1M219 24.5h1M226 24.5h1M252 24.5h1M272 24.5h1M291 24.5h1M295 24.5h3M317 24.5h1M14 25.5h1M28 25.5h1M31 25.5h1M42 25.5h1M49 25.5h1M66 25.5h1M68 25.5h1M76 25.5h1M93 25.5h1M101 25.5h1M104 25.5h1M116 25.5h1M156 25.5h1M160 25.5h1M165 25.5h2M168 25.5h1M171 25.5h1M175 25.5h1M181 25.5h1M183 25.5h1M188 25.5h1M196 25.5h2M269 25.5h1M273 25.5h1M277 25.5h1M291 25.5h1M302 25.5h1M309 25.5h1M311 25.5h1M0 26.5h1M3 26.5h1M6 26.5h1M26 26.5h2M30 26.5h1M36 26.5h1M57 26.5h1M70 26.5h1M74 26.5h1M84 26.5h1M106 26.5h1M109 26.5h1M121 26.5h1M134 26.5h1M142 26.5h2M148 26.5h1M153 26.5h1M170 26.5h1M192 26.5h1M194 26.5h1M196 26.5h1M203 26.5h1M213 26.5h1M236 26.5h1M241 26.5h1M246 26.5h1M249 26.5h1M255 26.5h1M287 26.5h1M299 26.5h1M312 26.5h1M319 26.5h1M10 27.5h1M16 27.5h1M24 27.5h1M34 27.5h1M53 27.5h1M76 27.5h1M97 27.5h1M121 27.5h1M124 27.5h1M132 27.5h1M147 27.5h1M152 27.5h1M159 27.5h1M200 27.5h1M231 27.5h1M245 27.5h1M250 27.5h1M253 27.5h1M273 27.5h1M277 27.5h1M280 27.5h1M286 27.5h1M288 27.5h1M293 27.5h1M32 28.5h2M97 28.5h1M111 28.5h1M128 28.5h1M132 28.5h2M138 28.5h1M144 28.5h1M148 28.5h1M158 28.5h1M162 28.5h1M173 28.5h1M177 28.5h1M195 28.5h1M237 28.5h1M242 28.5h1M247 28.5h1M270 28.5h1M278 28.5h1M280 28.5h1M295 28.5h1M300 28.5h1M303 28.5h1M4 29.5h1M10 29.5h1M20 29.5h1M39 29.5h1M52 29.5h1M61 29.5h1M65 29.5h1M71 29.5h1M91 29.5h1M98 29.5h1M100 29.5h1M113 29.5h1M127 29.5h1M161 29.5h1M164 29.5h1M209 29.5h1M214 29.5h1M220 29.5h1M233 29.5h1M272 29.5h1M296 29.5h1M9 30.5h2M19 30.5h1M37 30.5h1M45 30.5h1M53 30.5h2M65 30.5h1M319 30.5h1M17 31.5h1M21 31.5h1M30 31.5h1M35 31.5h1M37 31.5h1M167 31.5h1M193 31.5h1M204 31.5h1M210 31.5h1M261 31.5h2M299 31.5h1M306 31.5h1M7 32.5h1M12 32.5h1M46 32.5h1M52 32.5h1M57 32.5h1M63 32.5h1M65 32.5h2M69 32.5h1M74 32.5h1M76 32.5h1M137 32.5h1M143 32.5h1M159 32.5h1M174 32.5h1M176 32.5h1M188 32.5h1M208 32.5h1M219 32.5h1M242 32.5h1M261 32.5h1M263 32.5h1M3 33.5h1M9 33.5h2M33 33.5h1M51 33.5h4M65 33.5h1M78 33.5h1M91 33.5h1M95 33.5h1M102 33.5h1M105 33.5h1M107 33.5h1M152 33.5h1M157 33.5h1M172 33.5h1M189 33.5h1M254 33.5h1M275 33.5h1M279 33.5h1M298 33.5h1M14 34.5h1M24 34.5h1M37 34.5h1M46 34.5h2M50 34.5h1M62 34.5h1M70 34.5h1M83 34.5h1M104 34.5h1M108 34.5h1M117 34.5h1M152 34.5h2M157 34.5h1M161 34.5h1M220 34.5h1M254 34.5h1M260 34.5h1M277 34.5h1M284 34.5h1M287 34.5h1M299 34.5h1M303 34.5h2M310 34.5h1M312 34.5h1M2 35.5h1M42 35.5h1M44 35.5h1M50 35.5h1M84 35.5h1M99 35.5h1M121 35.5h1M128 35.5h1M131 35.5h1M134 35.5h1M163 35.5h1M170 35.5h1M200 35.5h1M215 35.5h1M222 35.5h1M231 35.5h1M275 35.5h1M298 35.5h1M300 35.5h1M310 35.5h1M316 35.5h2M15 36.5h1M48 36.5h1M74 36.5h1M80 36.5h1M92 36.5h1M95 36.5h1M108 36.5h1M115 36.5h1M141 36.5h1M158 36.5h1M161 36.5h1M170 36.5h1M199 36.5h1M207 36.5h1M220 36.5h1M236 36.5h1M240 36.5h1M244 36.5h2M273 36.5h1M285 36.5h1M29 37.5h1M53 37.5h1M65 37.5h1M77 37.5h2M88 37.5h1M103 37.5h1M126 37.5h1M135 37.5h1M231 37.5h1M247 37.5h1M249 37.5h1M263 37.5h1M273 37.5h2M284 37.5h1M294 37.5h1M296 37.5h1M310 37.5h1M10 38.5h1M54 38.5h1M72 38.5h1M88 38.5h2M97 38.5h1M99 38.5h2M112 38.5h1M117 38.5h1M143 38.5h1M156 38.5h1M168 38.5h1M176 38.5h2M183 38.5h1M202 38.5h1M214 38.5h1M225 38.5h1M229 38.5h1M237 38.5h2M245 38.5h1M249 38.5h1M252 38.5h1M288 38.5h1M291 38.5h1M316 38.5h1M2 39.5h1M21 39.5h1M26 39.5h1M31 39.5h1M78 39.5h1M106 39.5h1M108 39.5h1M117 39.5h1M130 39.5h1M140 39.5h1M146 39.5h1M154 39.5h1M156 39.5h1M158 39.5h1M185 39.5h1M188 39.5h1M198 39.5h1M206 39.5h1M232 39.5h1M247 39.5h1M252 39.5h1M254 39.5h1M268 39.5h1M271 39.5h1M282 39.5h1M286 39.5h1M290 39.5h1M292 39.5h1M299 39.5h1"/><path stroke="#0000b2" d="M10 0.5h1M10 -.5h1M21 0.5h1M21 -.5h1M31 0.5h2M31 -.5h2M42 0.5h1M42 -.5h1M47 0.5h1M47 -.5h1M52 0.5h1M52 -.5h1M68 0.5h1M68 -.5h1M82 0.5h1M82 -.5h1M100 0.5h1M100 -.5h1M104 0.5h1M104 -.5h1M108 0.5h1M108 -.5h1M111 0.5h1M111 -.5h1M116 0.5h1M116 -.5h1M118 0.5h1M118 -.5h1M129 0.5h1M129 -.5h1M156 0.5h1M156 -.5h1M163 0.5h1M163 -.5h1M165 0.5h1M165 -.5h1M174 0.5h1M174 -.5h1M176 0.5h1M176 -.5h1M190 0.5h1M190 -.5h1M194 0.5h1M194 -.5h1M209 0.5h1M209 -.5h1M223 0.5h1M223 -.5h1M303 0.5h1M303 -.5h1M4 1.5h1M16 1.5h1M18 1.5h1M22 1.5h2M31 1.5h1M33 1.5h1M73 1.5h1M88 1.5h1M124 1.5h2M147 1.5h1M149 1.5h1M171 1.5h1M176 1.5h1M180 1.5h1M195 1.5h1M203 1.5h1M208 1.5h1M234 1.5h1M239 1.5h1M259 1.5h1M276 1.5h1M280 1.5h1M293 1.5h1M298 1.5h1M305 1.5h1M307 1.5h1M14 2.5h1M25 2.5h1M29 2.5h1M44 2.5h1M50 2.5h1M57 2.5h1M65 2.5h1M73 2.5h1M82 2.5h1M121 2.5h1M128 2.5h1M144 2.5h1M155 2.5h1M159 2.5h1M166 2.5h1M177 2.5h1M199 2.5h1M201 2.5h1M235 2.5h1M269 2.5h1M281 2.5h1M294 2.5h1M53 3.5h1M55 3.5h1M74 3.5h1M83 3.5h1M98 3.5h1M101 3.5h1M114 3.5h2M120 3.5h2M123 3.5h1M131 3.5h1M153 3.5h1M155 3.5h1M164 3.5h1M177 3.5h1M179 3.5h1M183 3.5h1M185 3.5h1M202 3.5h1M207 3.5h1M246 3.5h1M250 3.5h1M256 3.5h1M273 3.5h1M307 3.5h2M38 4.5h1M46 4.5h1M49 4.5h1M53 4.5h1M57 4.5h1M66 4.5h1M93 4.5h1M95 4.5h1M124 4.5h1M130 4.5h2M133 4.5h1M138 4.5h1M149 4.5h1M151 4.5h1M171 4.5h1M184 4.5h1M200 4.5h1M202 4.5h1M213 4.5h1M220 4.5h1M232 4.5h1M281 4.5h1M310 4.5h1M7 5.5h1M75 5.5h1M77 5.5h1M90 5.5h1M98 5.5h1M128 5.5h1M143 5.5h1M145 5.5h1M155 5.5h2M208 5.5h2M211 5.5h1M215 5.5h1M228 5.5h1M240 5.5h1M255 5.5h1M264 5.5h1M277 5.5h1M290 5.5h1M297 5.5h1M304 5.5h1M311 5.5h1M3 6.5h1M16 6.5h2M77 6.5h2M81 6.5h1M90 6.5h2M96 6.5h1M108 6.5h1M110 6.5h1M123 6.5h1M126 6.5h1M133 6.5h1M147 6.5h2M154 6.5h1M158 6.5h1M167 6.5h1M216 6.5h1M218 6.5h1M249 6.5h1M260 6.5h1M268 6.5h1M285 6.5h1M306 6.5h2M316 6.5h1M5 7.5h1M21 7.5h1M24 7.5h2M29 7.5h1M34 7.5h1M40 7.5h1M68 7.5h1M86 7.5h1M92 7.5h2M108 7.5h1M117 7.5h1M140 7.5h1M154 7.5h1M172 7.5h1M176 7.5h1M178 7.5h2M197 7.5h1M238 7.5h1M286 7.5h1M288 7.5h1M18 8.5h1M24 8.5h1M29 8.5h1M73 8.5h1M108 8.5h1M123 8.5h1M138 8.5h1M163 8.5h1M166 8.5h1M199 8.5h1M201 8.5h1M207 8.5h1M219 8.5h1M231 8.5h1M243 8.5h1M254 8.5h1M263 8.5h1M276 8.5h2M291 8.5h1M73 9.5h1M77 9.5h1M79 9.5h1M94 9.5h1M100 9.5h1M109 9.5h2M120 9.5h1M159 9.5h1M168 9.5h1M176 9.5h1M179 9.5h1M231 9.5h1M253 9.5h1M265 9.5h1M274 9.5h1M282 9.5h1M291 9.5h1M310 9.5h1M316 9.5h1M2 10.5h1M17 10.5h1M76 10.5h1M104 10.5h1M128 10.5h1M146 10.5h1M152 10.5h2M205 10.5h1M214 10.5h1M234 10.5h1M266 10.5h1M292 10.5h1M302 10.5h1M3 11.5h1M56 11.5h1M77 11.5h1M87 11.5h1M104 11.5h1M120 11.5h1M132 11.5h1M160 11.5h1M169 11.5h1M236 11.5h1M249 11.5h1M265 11.5h1M294 11.5h1M301 11.5h1M310 11.5h1M314 11.5h1M316 11.5h1M3 12.5h1M18 12.5h1M57 12.5h1M86 12.5h1M90 12.5h1M121 12.5h2M142 12.5h1M156 12.5h1M164 12.5h1M168 12.5h1M197 12.5h2M207 12.5h1M219 12.5h1M230 12.5h1M283 12.5h1M286 12.5h1M289 12.5h1M306 12.5h1M317 12.5h1M11 13.5h1M18 13.5h1M64 13.5h1M66 13.5h1M84 13.5h1M121 13.5h1M158 13.5h1M242 13.5h1M255 13.5h1M266 13.5h1M301 13.5h1M308 13.5h1M317 13.5h1M7 14.5h1M9 14.5h1M12 14.5h1M14 14.5h1M17 14.5h1M40 14.5h1M59 14.5h1M71 14.5h1M98 14.5h1M121 14.5h1M125 14.5h1M183 14.5h1M188 14.5h1M199 14.5h1M227 14.5h1M245 14.5h1M283 14.5h1M289 14.5h1M294 14.5h1M6 15.5h1M23 15.5h1M30 15.5h1M66 15.5h1M86 15.5h1M102 15.5h1M112 15.5h1M121 15.5h1M129 15.5h1M137 15.5h1M144 15.5h1M174 15.5h1M194 15.5h1M218 15.5h1M228 15.5h1M238 15.5h1M263 15.5h1M265 15.5h1M272 15.5h2M290 15.5h1M313 15.5h1M1 16.5h1M3 16.5h1M21 16.5h1M57 16.5h1M67 16.5h1M75 16.5h1M79 16.5h1M100 16.5h3M168 16.5h1M178 16.5h1M185 16.5h1M194 16.5h1M196 16.5h1M226 16.5h1M230 16.5h1M240 16.5h1M256 16.5h1M313 16.5h1M2 17.5h1M36 17.5h1M41 17.5h1M47 17.5h1M70 17.5h1M92 17.5h1M94 17.5h1M100 17.5h1M111 17.5h2M119 17.5h1M122 17.5h1M133 17.5h1M136 17.5h1M200 17.5h1M229 17.5h1M234 17.5h1M256 17.5h1M296 17.5h1M306 17.5h1M308 17.5h1M3 18.5h1M21 18.5h1M66 18.5h1M68 18.5h1M72 18.5h1M77 18.5h1M102 18.5h1M123 18.5h1M140 18.5h1M151 18.5h1M161 18.5h1M163 18.5h1M168 18.5h1M184 18.5h1M190 18.5h1M213 18.5h1M228 18.5h2M242 18.5h2M254 18.5h1M263 18.5h1M302 18.5h1M306 18.5h1M317 18.5h1M4 19.5h1M10 19.5h1M23 19.5h1M43 19.5h1M50 19.5h1M65 19.5h1M70 19.5h1M89 19.5h1M94 19.5h1M128 19.5h1M137 19.5h1M150 19.5h1M162 19.5h1M167 19.5h1M213 19.5h1M217 19.5h1M245 19.5h1M275 19.5h1M59 20.5h1M113 20.5h3M117 20.5h1M125 20.5h1M127 20.5h1M129 20.5h1M133 20.5h1M193 20.5h1M213 20.5h1M216 20.5h1M231 20.5h1M236 20.5h1M259 20.5h1M285 20.5h1M287 20.5h1M291 20.5h1M297 20.5h1M306 20.5h1M309 20.5h1M74 21.5h1M103 21.5h1M106 21.5h1M110 21.5h1M114 21.5h1M174 21.5h1M187 21.5h1M220 21.5h1M249 21.5h1M258 21.5h1M284 21.5h1M306 21.5h1M3 22.5h1M50 22.5h1M72 22.5h1M88 22.5h1M94 22.5h1M105 22.5h2M129 22.5h1M131 22.5h1M134 22.5h1M143 22.5h1M159 22.5h1M190 22.5h2M197 22.5h1M200 22.5h1M210 22.5h1M227 22.5h1M243 22.5h1M250 22.5h1M264 22.5h1M271 22.5h2M284 22.5h1M292 22.5h1M302 22.5h1M314 22.5h1M2 23.5h1M15 23.5h1M18 23.5h1M30 23.5h1M35 23.5h1M45 23.5h1M55 23.5h1M66 23.5h1M76 23.5h1M81 23.5h1M116 23.5h1M121 23.5h1M124 23.5h1M151 23.5h1M164 23.5h1M169 23.5h1M174 23.5h1M192 23.5h1M201 23.5h1M203 23.5h1M236 23.5h1M250 23.5h1M292 23.5h2M24 24.5h1M45 24.5h1M49 24.5h2M87 24.5h2M100 24.5h1M104 24.5h1M114 24.5h1M123 24.5h1M128 24.5h1M143 24.5h1M157 24.5h1M188 24.5h1M210 24.5h1M228 24.5h1M230 24.5h1M234 24.5h1M260 24.5h1M268 24.5h1M270 24.5h2M275 24.5h1M301 24.5h1M3 25.5h1M23 25.5h1M50 25.5h2M97 25.5h1M128 25.5h1M134 25.5h1M137 25.5h1M202 25.5h1M207 25.5h1M211 25.5h1M214 25.5h1M221 25.5h2M237 25.5h1M245 25.5h1M256 25.5h1M261 25.5h1M275 25.5h1M278 25.5h2M305 25.5h1M308 25.5h1M21 26.5h1M25 26.5h1M31 26.5h1M34 26.5h1M50 26.5h1M56 26.5h1M76 26.5h2M85 26.5h1M100 26.5h1M108 26.5h1M129 26.5h1M163 26.5h1M169 26.5h1M172 26.5h1M193 26.5h1M199 26.5h1M223 26.5h1M232 26.5h1M252 26.5h1M256 26.5h1M275 26.5h1M289 26.5h1M301 26.5h1M307 26.5h1M311 26.5h1M313 26.5h1M9 27.5h1M29 27.5h1M58 27.5h1M67 27.5h1M71 27.5h1M118 27.5h1M144 27.5h1M160 27.5h1M164 27.5h1M197 27.5h1M212 27.5h1M215 27.5h1M219 27.5h1M226 27.5h1M233 27.5h1M251 27.5h1M275 27.5h1M289 27.5h2M302 27.5h1M6 28.5h1M28 28.5h1M37 28.5h1M42 28.5h1M51 28.5h1M59 28.5h1M61 28.5h1M78 28.5h1M95 28.5h1M110 28.5h1M140 28.5h1M161 28.5h1M163 28.5h1M178 28.5h1M193 28.5h1M199 28.5h1M208 28.5h1M215 28.5h2M227 28.5h1M249 28.5h1M254 28.5h1M276 28.5h1M298 28.5h1M307 28.5h1M309 28.5h1M0 29.5h1M7 29.5h1M146 29.5h2M179 29.5h1M189 29.5h1M0 30.5h1M5 30.5h2M8 30.5h1M20 30.5h1M31 30.5h1M68 30.5h1M31 31.5h1M178 31.5h1M290 31.5h1M304 31.5h1M6 32.5h1M58 32.5h1M72 32.5h1M91 32.5h1M98 32.5h1M120 32.5h1M226 32.5h1M229 32.5h1M273 32.5h3M278 32.5h1M287 32.5h1M289 32.5h1M74 33.5h1M92 33.5h1M118 33.5h1M122 33.5h1M129 33.5h1M139 33.5h1M151 33.5h1M168 33.5h1M173 33.5h1M185 33.5h1M191 33.5h1M204 33.5h1M226 33.5h1M232 33.5h1M245 33.5h1M256 33.5h1M260 33.5h1M264 33.5h1M266 33.5h2M281 33.5h1M312 33.5h1M316 33.5h1M20 34.5h1M33 34.5h1M38 34.5h1M73 34.5h1M115 34.5h1M147 34.5h1M165 34.5h1M172 34.5h1M190 34.5h1M201 34.5h1M203 34.5h1M205 34.5h2M215 34.5h1M223 34.5h1M227 34.5h2M273 34.5h1M279 34.5h1M307 34.5h1M32 35.5h1M70 35.5h1M72 35.5h2M147 35.5h1M162 35.5h1M164 35.5h1M190 35.5h1M194 35.5h1M198 35.5h1M216 35.5h1M239 35.5h1M252 35.5h1M258 35.5h1M278 35.5h1M296 35.5h1M304 35.5h1M14 36.5h1M19 36.5h1M27 36.5h1M41 36.5h1M66 36.5h1M79 36.5h1M82 36.5h1M86 36.5h1M101 36.5h1M117 36.5h1M150 36.5h1M180 36.5h1M191 36.5h2M205 36.5h1M210 36.5h1M212 36.5h1M239 36.5h1M241 36.5h1M246 36.5h1M258 36.5h1M262 36.5h1M277 36.5h1M47 37.5h1M95 37.5h1M132 37.5h1M172 37.5h1M176 37.5h1M186 37.5h1M251 37.5h1M256 37.5h1M292 37.5h1M3 38.5h1M5 38.5h1M23 38.5h1M64 38.5h1M98 38.5h1M104 38.5h1M108 38.5h1M133 38.5h1M141 38.5h1M144 38.5h1M151 38.5h1M155 38.5h1M172 38.5h1M181 38.5h1M185 38.5h1M243 38.5h2M259 38.5h1M275 38.5h2M37 39.5h2M49 39.5h1M59 39.5h1M74 39.5h2M82 39.5h1M104 39.5h1M116 39.5h1M122 39.5h1M127 39.5h2M201 39.5h2M223 39.5h1M236 39.5h1M269 39.5h1M303 39.5h1"/><path stroke="#0000f2" d="M13 0.5h1M13 -.5h1M30 0.5h1M30 -.5h1M35 0.5h1M35 -.5h1M65 0.5h1M65 -.5h1M70 0.5h1M70 -.5h1M74 0.5h1M74 -.5h1M85 0.5h1M85 -.5h1M94 0.5h2M94 -.5h2M112 0.5h1M112 -.5h1M115 0.5h1M115 -.5h1M124 0.5h1M124 -.5h1M137 0.5h1M137 -.5h1M147 0.5h1M147 -.5h1M153 0.5h1M153 -.5h1M157 0.5h1M157 -.5h1M164 0.5h1M164 -.5h1M170 0.5h1M170 -.5h1M205 0.5h1M205 -.5h1M222 0.5h1M222 -.5h1M225 0.5h1M225 -.5h1M240 0.5h1M240 -.5h1M253 0.5h1M253 -.5h1M259 0.5h1M259 -.5h1M268 0.5h1M268 -.5h1M275 0.5h1M275 -.5h1M279 0.5h3M279 -.5h3M296 0.5h1M296 -.5h1M311 0.5h2M311 -.5h2M319 0.5h1M319 -.5h1M7 1.5h1M12 1.5h1M29 1.5h1M32 1.5h1M52 1.5h1M61 1.5h1M64 1.5h1M89 1.5h1M95 1.5h1M105 1.5h1M119 1.5h1M122 1.5h1M139 1.5h1M145 1.5h1M153 1.5h1M155 1.5h2M164 1.5h1M167 1.5h1M197 1.5h1M216 1.5h1M235 1.5h1M237 1.5h1M243 1.5h1M263 1.5h1M268 1.5h1M274 1.5h2M279 1.5h1M283 1.5h2M295 1.5h1M315 1.5h1M318 1.5h1M6 2.5h1M19 2.5h1M26 2.5h1M75 2.5h1M83 2.5h1M86 2.5h1M123 2.5h1M133 2.5h1M142 2.5h1M158 2.5h1M173 2.5h1M179 2.5h1M225 2.5h1M228 2.5h1M240 2.5h2M244 2.5h1M247 2.5h1M256 2.5h1M259 2.5h1M265 2.5h1M267 2.5h1M4 3.5h1M9 3.5h1M13 3.5h1M17 3.5h1M21 3.5h1M23 3.5h1M26 3.5h1M39 3.5h1M60 3.5h1M62 3.5h1M71 3.5h1M76 3.5h2M82 3.5h1M96 3.5h1M105 3.5h1M111 3.5h1M127 3.5h1M138 3.5h1M156 3.5h1M184 3.5h1M189 3.5h1M198 3.5h2M205 3.5h1M209 3.5h2M220 3.5h1M230 3.5h1M242 3.5h1M244 3.5h1M258 3.5h1M266 3.5h2M281 3.5h1M284 3.5h1M302 3.5h1M306 3.5h1M1 4.5h1M27 4.5h1M36 4.5h1M39 4.5h1M43 4.5h1M83 4.5h1M86 4.5h1M89 4.5h1M91 4.5h1M126 4.5h1M128 4.5h1M134 4.5h1M153 4.5h1M161 4.5h1M166 4.5h1M186 4.5h1M211 4.5h2M223 4.5h2M240 4.5h1M245 4.5h1M283 4.5h1M286 4.5h2M293 4.5h1M303 4.5h1M311 4.5h1M6 5.5h1M14 5.5h1M25 5.5h1M30 5.5h1M55 5.5h2M63 5.5h1M68 5.5h1M91 5.5h1M95 5.5h3M102 5.5h1M113 5.5h2M119 5.5h1M123 5.5h1M129 5.5h1M135 5.5h1M139 5.5h1M157 5.5h1M165 5.5h1M186 5.5h1M212 5.5h1M234 5.5h1M248 5.5h1M250 5.5h2M258 5.5h1M269 5.5h1M272 5.5h1M274 5.5h1M278 5.5h1M282 5.5h1M289 5.5h1M295 5.5h1M302 5.5h1M305 5.5h1M313 5.5h1M2 6.5h1M13 6.5h1M18 6.5h1M33 6.5h1M35 6.5h1M39 6.5h1M51 6.5h2M62 6.5h1M84 6.5h1M86 6.5h1M116 6.5h1M169 6.5h2M179 6.5h1M195 6.5h1M236 6.5h1M251 6.5h1M255 6.5h1M258 6.5h1M273 6.5h1M278 6.5h3M303 6.5h1M313 6.5h1M3 7.5h1M18 7.5h1M31 7.5h1M33 7.5h1M45 7.5h1M53 7.5h1M62 7.5h1M79 7.5h1M81 7.5h3M102 7.5h1M115 7.5h1M123 7.5h1M130 7.5h1M151 7.5h1M158 7.5h1M164 7.5h4M169 7.5h1M195 7.5h1M211 7.5h2M215 7.5h1M217 7.5h1M223 7.5h1M235 7.5h1M257 7.5h1M261 7.5h1M264 7.5h1M269 7.5h1M272 7.5h1M274 7.5h1M276 7.5h1M281 7.5h1M295 7.5h1M297 7.5h1M309 7.5h1M8 8.5h2M11 8.5h2M45 8.5h1M52 8.5h1M56 8.5h1M94 8.5h1M97 8.5h1M107 8.5h1M109 8.5h1M114 8.5h1M117 8.5h1M120 8.5h1M146 8.5h1M153 8.5h1M159 8.5h1M165 8.5h1M171 8.5h1M177 8.5h1M187 8.5h1M190 8.5h1M192 8.5h2M198 8.5h1M202 8.5h1M208 8.5h1M223 8.5h1M235 8.5h1M241 8.5h1M267 8.5h1M281 8.5h1M287 8.5h1M305 8.5h1M318 8.5h1M21 9.5h1M23 9.5h1M33 9.5h1M35 9.5h1M42 9.5h1M58 9.5h1M63 9.5h1M67 9.5h1M99 9.5h1M104 9.5h1M114 9.5h1M125 9.5h1M132 9.5h1M134 9.5h1M141 9.5h2M146 9.5h2M166 9.5h1M169 9.5h1M175 9.5h1M188 9.5h1M200 9.5h2M216 9.5h1M224 9.5h1M232 9.5h1M261 9.5h1M263 9.5h1M276 9.5h2M286 9.5h1M288 9.5h1M300 9.5h1M302 9.5h1M305 9.5h1M311 9.5h1M14 10.5h1M21 10.5h1M25 10.5h1M65 10.5h1M92 10.5h1M94 10.5h1M101 10.5h1M108 10.5h1M110 10.5h1M130 10.5h3M134 10.5h1M173 10.5h1M195 10.5h1M207 10.5h1M220 10.5h1M232 10.5h1M238 10.5h1M240 10.5h1M263 10.5h1M267 10.5h1M278 10.5h1M280 10.5h1M297 10.5h1M299 10.5h1M305 10.5h1M313 10.5h1M89 11.5h1M92 11.5h1M94 11.5h1M96 11.5h1M116 11.5h1M121 11.5h1M138 11.5h1M145 11.5h1M147 11.5h1M149 11.5h1M173 11.5h1M184 11.5h1M187 11.5h1M190 11.5h1M192 11.5h1M194 11.5h1M197 11.5h1M200 11.5h1M217 11.5h1M228 11.5h1M235 11.5h1M257 11.5h1M260 11.5h1M275 11.5h1M279 11.5h1M281 11.5h1M285 11.5h1M291 11.5h1M293 11.5h1M295 11.5h1M12 12.5h1M21 12.5h1M40 12.5h1M42 12.5h2M45 12.5h2M55 12.5h1M103 12.5h1M127 12.5h1M131 12.5h1M140 12.5h1M146 12.5h1M157 12.5h1M166 12.5h1M171 12.5h1M173 12.5h1M196 12.5h1M202 12.5h1M216 12.5h1M224 12.5h1M235 12.5h1M243 12.5h1M249 12.5h1M293 12.5h1M297 12.5h1M300 12.5h1M310 12.5h1M316 12.5h1M5 13.5h1M16 13.5h1M24 13.5h2M58 13.5h2M63 13.5h1M69 13.5h1M110 13.5h1M162 13.5h2M302 13.5h1M4 14.5h1M33 14.5h1M45 14.5h1M50 14.5h1M68 14.5h1M73 14.5h1M76 14.5h1M80 14.5h1M82 14.5h2M90 14.5h1M97 14.5h1M105 14.5h1M107 14.5h1M112 14.5h1M122 14.5h1M141 14.5h1M145 14.5h1M163 14.5h1M210 14.5h1M220 14.5h1M237 14.5h1M240 14.5h1M248 14.5h1M285 14.5h1M301 14.5h1M306 14.5h1M315 14.5h1M11 15.5h1M16 15.5h1M28 15.5h1M37 15.5h1M39 15.5h1M41 15.5h1M49 15.5h1M53 15.5h2M68 15.5h1M73 15.5h1M80 15.5h1M93 15.5h1M99 15.5h1M106 15.5h1M122 15.5h1M132 15.5h1M150 15.5h1M172 15.5h1M184 15.5h1M196 15.5h1M199 15.5h1M219 15.5h1M230 15.5h1M240 15.5h1M245 15.5h1M266 15.5h1M268 15.5h1M279 15.5h1M302 15.5h1M32 16.5h1M34 16.5h1M61 16.5h1M65 16.5h1M72 16.5h1M74 16.5h1M84 16.5h1M97 16.5h1M114 16.5h1M124 16.5h1M131 16.5h3M137 16.5h2M157 16.5h2M166 16.5h2M177 16.5h1M180 16.5h1M192 16.5h1M200 16.5h1M208 16.5h2M237 16.5h2M243 16.5h1M254 16.5h1M260 16.5h1M269 16.5h2M289 16.5h1M13 17.5h1M26 17.5h1M53 17.5h1M65 17.5h1M69 17.5h1M71 17.5h1M76 17.5h1M97 17.5h1M109 17.5h1M115 17.5h1M129 17.5h1M137 17.5h1M145 17.5h1M161 17.5h1M164 17.5h1M177 17.5h1M189 17.5h1M201 17.5h1M204 17.5h1M212 17.5h1M237 17.5h1M259 17.5h1M265 17.5h1M270 17.5h1M277 17.5h1M279 17.5h1M282 17.5h1M284 17.5h1M291 17.5h3M305 17.5h1M9 18.5h1M26 18.5h1M52 18.5h1M56 18.5h1M61 18.5h1M79 18.5h1M89 18.5h1M94 18.5h1M106 18.5h1M117 18.5h1M119 18.5h1M138 18.5h1M180 18.5h1M183 18.5h1M189 18.5h1M193 18.5h1M197 18.5h1M206 18.5h1M234 18.5h1M249 18.5h2M256 18.5h1M261 18.5h1M266 18.5h1M274 18.5h1M285 18.5h3M289 18.5h2M311 18.5h1M9 19.5h1M24 19.5h1M64 19.5h1M75 19.5h1M77 19.5h1M85 19.5h1M92 19.5h1M99 19.5h1M108 19.5h1M114 19.5h1M134 19.5h1M168 19.5h1M187 19.5h1M207 19.5h1M219 19.5h1M241 19.5h1M250 19.5h1M288 19.5h1M309 19.5h1M10 20.5h1M34 20.5h1M38 20.5h1M55 20.5h1M71 20.5h1M75 20.5h1M83 20.5h1M92 20.5h2M109 20.5h1M121 20.5h1M124 20.5h1M135 20.5h1M166 20.5h1M169 20.5h2M176 20.5h1M201 20.5h1M223 20.5h2M239 20.5h1M246 20.5h1M269 20.5h2M283 20.5h1M313 20.5h1M10 21.5h1M15 21.5h1M18 21.5h1M55 21.5h1M66 21.5h3M81 21.5h1M104 21.5h1M115 21.5h1M118 21.5h1M137 21.5h1M149 21.5h1M164 21.5h1M197 21.5h1M236 21.5h1M238 21.5h1M248 21.5h1M252 21.5h1M286 21.5h1M318 21.5h2M2 22.5h1M14 22.5h1M18 22.5h1M21 22.5h1M23 22.5h2M44 22.5h1M51 22.5h1M60 22.5h1M67 22.5h1M76 22.5h1M101 22.5h1M113 22.5h1M130 22.5h1M141 22.5h1M162 22.5h1M196 22.5h1M199 22.5h1M220 22.5h1M222 22.5h1M232 22.5h2M240 22.5h1M251 22.5h1M255 22.5h1M280 22.5h1M303 22.5h1M307 22.5h1M318 22.5h1M10 23.5h1M14 23.5h1M64 23.5h1M83 23.5h1M132 23.5h1M141 23.5h1M143 23.5h1M158 23.5h1M161 23.5h1M184 23.5h1M186 23.5h1M190 23.5h2M210 23.5h1M224 23.5h1M251 23.5h1M258 23.5h1M273 23.5h1M275 23.5h1M282 23.5h1M301 23.5h1M4 24.5h1M14 24.5h1M32 24.5h1M35 24.5h1M59 24.5h1M64 24.5h1M66 24.5h1M82 24.5h1M91 24.5h1M96 24.5h1M98 24.5h1M107 24.5h1M109 24.5h1M111 24.5h1M120 24.5h2M140 24.5h1M150 24.5h2M161 24.5h1M180 24.5h1M189 24.5h1M209 24.5h1M237 24.5h1M240 24.5h1M256 24.5h2M259 24.5h1M285 24.5h1M305 24.5h2M311 24.5h1M38 25.5h1M58 25.5h1M65 25.5h1M71 25.5h1M91 25.5h1M126 25.5h1M131 25.5h1M142 25.5h1M163 25.5h1M172 25.5h1M199 25.5h1M219 25.5h1M227 25.5h1M233 25.5h1M236 25.5h1M241 25.5h1M249 25.5h1M258 25.5h2M262 25.5h1M276 25.5h1M301 25.5h1M306 25.5h1M310 25.5h1M318 25.5h2M29 26.5h1M38 26.5h1M41 26.5h1M58 26.5h1M72 26.5h1M81 26.5h1M104 26.5h1M117 26.5h1M164 26.5h1M188 26.5h1M204 26.5h1M209 26.5h1M212 26.5h1M219 26.5h1M225 26.5h1M243 26.5h1M267 26.5h1M269 26.5h1M284 26.5h2M288 26.5h1M290 26.5h1M293 26.5h1M0 27.5h1M3 27.5h1M31 27.5h1M35 27.5h1M49 27.5h1M61 27.5h1M91 27.5h1M120 27.5h1M133 27.5h3M170 27.5h1M172 27.5h1M195 27.5h1M201 27.5h2M213 27.5h1M216 27.5h1M252 27.5h1M274 27.5h1M303 27.5h1M318 27.5h1M35 28.5h1M50 28.5h1M69 28.5h2M79 28.5h1M88 28.5h1M98 28.5h1M115 28.5h1M136 28.5h1M159 28.5h1M165 28.5h1M167 28.5h1M170 28.5h1M179 28.5h1M181 28.5h1M184 28.5h1M191 28.5h1M213 28.5h1M217 28.5h1M231 28.5h2M235 28.5h1M277 28.5h1M281 28.5h1M288 28.5h1M302 28.5h1M306 28.5h1M8 29.5h1M34 29.5h1M48 29.5h1M56 29.5h1M75 29.5h1M77 29.5h1M128 29.5h1M137 29.5h1M148 29.5h1M196 29.5h2M213 29.5h1M236 29.5h1M241 29.5h1M263 29.5h1M292 29.5h1M12 30.5h1M49 30.5h1M66 30.5h1M19 31.5h1M47 31.5h1M69 31.5h1M81 31.5h1M102 31.5h1M176 31.5h1M183 31.5h1M202 31.5h1M230 31.5h1M232 31.5h1M291 31.5h1M310 31.5h1M8 32.5h1M30 32.5h1M68 32.5h1M97 32.5h1M100 32.5h1M152 32.5h1M175 32.5h1M203 32.5h1M209 32.5h1M227 32.5h1M231 32.5h1M234 32.5h1M256 32.5h1M267 32.5h1M276 32.5h1M285 32.5h1M305 32.5h1M29 33.5h1M61 33.5h1M73 33.5h1M87 33.5h1M128 33.5h1M142 33.5h1M169 33.5h1M171 33.5h1M179 33.5h1M193 33.5h1M195 33.5h1M198 33.5h1M207 33.5h2M218 33.5h1M235 33.5h1M262 33.5h1M280 33.5h1M293 33.5h1M296 33.5h1M299 33.5h2M311 33.5h1M314 33.5h1M0 34.5h1M2 34.5h4M54 34.5h1M74 34.5h2M124 34.5h1M132 34.5h1M146 34.5h1M154 34.5h1M188 34.5h1M193 34.5h1M199 34.5h1M237 34.5h1M240 34.5h1M246 34.5h1M258 34.5h1M261 34.5h1M263 34.5h1M276 34.5h1M290 34.5h1M298 34.5h1M19 35.5h1M23 35.5h1M41 35.5h1M53 35.5h1M62 35.5h1M88 35.5h1M112 35.5h1M114 35.5h1M116 35.5h1M120 35.5h1M133 35.5h1M156 35.5h1M181 35.5h2M186 35.5h1M197 35.5h1M204 35.5h1M229 35.5h1M244 35.5h1M263 35.5h2M282 35.5h1M299 35.5h1M319 35.5h1M6 36.5h1M24 36.5h1M28 36.5h1M36 36.5h1M38 36.5h1M76 36.5h1M91 36.5h1M103 36.5h1M105 36.5h1M131 36.5h1M160 36.5h1M165 36.5h2M211 36.5h1M234 36.5h2M259 36.5h1M263 36.5h1M276 36.5h1M283 36.5h1M294 36.5h1M30 37.5h1M68 37.5h1M80 37.5h1M90 37.5h1M139 37.5h1M158 37.5h1M166 37.5h1M185 37.5h1M201 37.5h1M209 37.5h1M227 37.5h1M237 37.5h1M239 37.5h2M242 37.5h1M272 37.5h1M280 37.5h1M289 37.5h1M295 37.5h1M308 37.5h1M8 38.5h1M110 38.5h1M118 38.5h1M140 38.5h1M153 38.5h1M167 38.5h1M188 38.5h1M192 38.5h1M205 38.5h1M228 38.5h1M239 38.5h1M247 38.5h2M250 38.5h1M277 38.5h2M283 38.5h1M296 38.5h1M301 38.5h1M304 38.5h1M312 38.5h1M7 39.5h1M11 39.5h1M70 39.5h1M83 39.5h1M89 39.5h1M129 39.5h1M139 39.5h1M151 39.5h1M180 39.5h1M191 39.5h1M204 39.5h1M229 39.5h1M239 39.5h1M244 39.5h1M259 39.5h1M264 39.5h2M313 39.5h1"/><path stroke="#0000bf" d="M19 0.5h1M19 -.5h1M23 0.5h1M23 -.5h1M26 0.5h1M26 -.5h1M28 0.5h2M28 -.5h2M33 0.5h1M33 -.5h1M36 0.5h1M36 -.5h1M39 0.5h1M39 -.5h1M45 0.5h1M45 -.5h1M48 0.5h2M48 -.5h2M56 0.5h2M56 -.5h2M59 0.5h1M59 -.5h1M66 0.5h2M66 -.5h2M75 0.5h1M75 -.5h1M80 0.5h1M80 -.5h1M84 0.5h1M84 -.5h1M122 0.5h2M122 -.5h2M142 0.5h1M142 -.5h1M145 0.5h1M145 -.5h1M160 0.5h1M160 -.5h1M166 0.5h2M166 -.5h2M172 0.5h1M172 -.5h1M177 0.5h1M177 -.5h1M185 0.5h2M185 -.5h2M189 0.5h1M189 -.5h1M196 0.5h1M196 -.5h1M215 0.5h2M215 -.5h2M220 0.5h1M220 -.5h1M235 0.5h1M235 -.5h1M237 0.5h1M237 -.5h1M241 0.5h1M241 -.5h1M243 0.5h1M243 -.5h1M248 0.5h2M248 -.5h2M257 0.5h1M257 -.5h1M266 0.5h1M266 -.5h1M274 0.5h1M274 -.5h1M276 0.5h1M276 -.5h1M308 0.5h1M308 -.5h1M313 0.5h1M313 -.5h1M2 1.5h2M9 1.5h1M11 1.5h1M26 1.5h3M35 1.5h1M43 1.5h1M66 1.5h1M70 1.5h1M76 1.5h1M82 1.5h2M93 1.5h1M118 1.5h1M128 1.5h1M131 1.5h1M134 1.5h1M137 1.5h2M150 1.5h1M161 1.5h2M175 1.5h1M179 1.5h1M196 1.5h1M211 1.5h1M238 1.5h1M247 1.5h1M260 1.5h1M273 1.5h1M292 1.5h1M304 1.5h1M306 1.5h1M312 1.5h1M0 2.5h1M2 2.5h1M16 2.5h1M21 2.5h1M30 2.5h1M34 2.5h1M59 2.5h1M64 2.5h1M66 2.5h1M95 2.5h1M101 2.5h1M103 2.5h1M108 2.5h1M110 2.5h1M149 2.5h1M162 2.5h1M169 2.5h1M174 2.5h2M178 2.5h1M180 2.5h1M187 2.5h2M212 2.5h1M216 2.5h1M220 2.5h1M223 2.5h1M229 2.5h1M242 2.5h1M260 2.5h1M276 2.5h1M285 2.5h1M299 2.5h1M306 2.5h1M2 3.5h1M5 3.5h1M10 3.5h1M15 3.5h1M28 3.5h1M31 3.5h1M34 3.5h3M41 3.5h1M46 3.5h1M56 3.5h1M58 3.5h1M69 3.5h1M87 3.5h1M116 3.5h1M128 3.5h1M158 3.5h1M161 3.5h1M172 3.5h1M191 3.5h1M194 3.5h1M222 3.5h1M232 3.5h1M247 3.5h1M255 3.5h1M260 3.5h2M264 3.5h2M269 3.5h1M276 3.5h1M283 3.5h1M294 3.5h1M299 3.5h1M301 3.5h1M305 3.5h1M14 4.5h1M26 4.5h1M31 4.5h1M51 4.5h1M64 4.5h1M76 4.5h1M78 4.5h1M82 4.5h1M94 4.5h1M102 4.5h1M120 4.5h1M125 4.5h1M132 4.5h1M150 4.5h1M159 4.5h2M169 4.5h1M173 4.5h1M178 4.5h1M187 4.5h1M193 4.5h1M201 4.5h1M205 4.5h1M210 4.5h1M216 4.5h1M218 4.5h1M237 4.5h1M254 4.5h1M265 4.5h1M268 4.5h1M271 4.5h1M276 4.5h1M280 4.5h1M282 4.5h1M291 4.5h1M307 4.5h1M316 4.5h1M10 5.5h1M12 5.5h1M27 5.5h1M29 5.5h1M35 5.5h1M43 5.5h1M45 5.5h1M53 5.5h1M59 5.5h1M66 5.5h1M80 5.5h1M101 5.5h1M106 5.5h1M116 5.5h3M121 5.5h1M124 5.5h1M133 5.5h1M136 5.5h1M154 5.5h1M171 5.5h1M174 5.5h1M179 5.5h1M207 5.5h1M227 5.5h1M232 5.5h1M241 5.5h1M243 5.5h1M245 5.5h1M253 5.5h2M266 5.5h1M271 5.5h1M283 5.5h1M285 5.5h1M293 5.5h2M296 5.5h1M301 5.5h1M308 5.5h1M310 5.5h1M0 6.5h1M4 6.5h2M26 6.5h1M38 6.5h1M50 6.5h1M80 6.5h1M106 6.5h1M115 6.5h1M135 6.5h1M155 6.5h1M168 6.5h1M180 6.5h1M185 6.5h1M194 6.5h1M202 6.5h1M209 6.5h1M213 6.5h1M215 6.5h1M222 6.5h1M224 6.5h1M229 6.5h1M237 6.5h1M241 6.5h1M252 6.5h1M259 6.5h1M261 6.5h1M284 6.5h1M301 6.5h1M310 6.5h1M6 7.5h1M38 7.5h1M70 7.5h1M90 7.5h1M94 7.5h1M96 7.5h1M105 7.5h1M110 7.5h1M124 7.5h1M129 7.5h1M146 7.5h1M155 7.5h1M192 7.5h1M208 7.5h1M241 7.5h1M246 7.5h2M260 7.5h1M277 7.5h1M293 7.5h1M298 7.5h1M300 7.5h1M4 8.5h1M16 8.5h2M69 8.5h1M74 8.5h1M82 8.5h1M85 8.5h4M92 8.5h1M101 8.5h1M110 8.5h1M113 8.5h1M119 8.5h1M147 8.5h1M161 8.5h1M168 8.5h1M178 8.5h1M204 8.5h1M210 8.5h1M226 8.5h1M252 8.5h1M258 8.5h1M261 8.5h1M265 8.5h1M275 8.5h1M285 8.5h1M298 8.5h1M310 8.5h1M5 9.5h1M9 9.5h1M18 9.5h1M36 9.5h1M48 9.5h1M52 9.5h1M60 9.5h1M69 9.5h1M81 9.5h1M85 9.5h1M87 9.5h2M105 9.5h1M112 9.5h1M116 9.5h1M121 9.5h1M131 9.5h1M135 9.5h1M144 9.5h1M152 9.5h1M156 9.5h1M167 9.5h1M178 9.5h1M185 9.5h1M196 9.5h1M207 9.5h1M213 9.5h1M218 9.5h1M221 9.5h1M228 9.5h1M230 9.5h1M233 9.5h1M235 9.5h1M241 9.5h1M258 9.5h1M270 9.5h1M295 9.5h1M0 10.5h1M26 10.5h1M61 10.5h1M70 10.5h2M83 10.5h1M91 10.5h1M103 10.5h1M111 10.5h1M124 10.5h1M127 10.5h1M169 10.5h1M171 10.5h1M190 10.5h1M206 10.5h1M212 10.5h1M217 10.5h1M230 10.5h1M242 10.5h1M244 10.5h1M283 10.5h1M295 10.5h1M300 10.5h2M307 10.5h1M315 10.5h1M319 10.5h1M0 11.5h1M31 11.5h1M34 11.5h1M45 11.5h1M48 11.5h1M61 11.5h1M63 11.5h1M73 11.5h1M76 11.5h1M79 11.5h1M88 11.5h1M113 11.5h1M119 11.5h1M123 11.5h1M157 11.5h1M159 11.5h1M166 11.5h1M198 11.5h1M262 11.5h1M264 11.5h1M269 11.5h1M277 11.5h1M298 11.5h1M300 11.5h1M8 12.5h1M22 12.5h1M26 12.5h1M30 12.5h1M49 12.5h1M64 12.5h1M80 12.5h1M83 12.5h1M99 12.5h1M104 12.5h2M116 12.5h1M137 12.5h1M150 12.5h1M158 12.5h1M162 12.5h1M188 12.5h2M204 12.5h1M212 12.5h1M221 12.5h1M231 12.5h1M253 12.5h1M275 12.5h1M282 12.5h1M290 12.5h1M294 12.5h1M298 12.5h1M6 13.5h1M40 13.5h1M53 13.5h1M67 13.5h1M113 13.5h1M146 13.5h1M179 13.5h2M234 13.5h1M10 14.5h2M58 14.5h1M64 14.5h1M77 14.5h1M79 14.5h1M113 14.5h1M118 14.5h1M120 14.5h1M130 14.5h1M135 14.5h1M144 14.5h1M198 14.5h1M201 14.5h1M217 14.5h1M219 14.5h1M229 14.5h2M233 14.5h1M268 14.5h1M295 14.5h1M298 14.5h1M300 14.5h1M318 14.5h1M2 15.5h1M5 15.5h1M10 15.5h1M19 15.5h1M36 15.5h1M43 15.5h1M101 15.5h1M113 15.5h2M127 15.5h1M139 15.5h1M142 15.5h1M158 15.5h1M173 15.5h1M179 15.5h1M181 15.5h1M190 15.5h1M236 15.5h1M286 15.5h1M289 15.5h1M292 15.5h1M303 15.5h1M4 16.5h2M14 16.5h1M16 16.5h1M31 16.5h1M44 16.5h1M52 16.5h1M80 16.5h1M90 16.5h1M105 16.5h2M117 16.5h1M121 16.5h1M130 16.5h1M179 16.5h1M217 16.5h1M223 16.5h1M290 16.5h1M302 16.5h1M12 17.5h1M38 17.5h1M60 17.5h1M72 17.5h1M89 17.5h1M107 17.5h1M110 17.5h1M117 17.5h1M120 17.5h1M139 17.5h1M148 17.5h1M153 17.5h1M163 17.5h1M167 17.5h1M178 17.5h1M188 17.5h1M203 17.5h1M209 17.5h1M221 17.5h1M223 17.5h1M228 17.5h1M231 17.5h1M245 17.5h2M267 17.5h1M278 17.5h1M315 17.5h1M15 18.5h1M22 18.5h1M25 18.5h1M38 18.5h1M67 18.5h1M70 18.5h1M73 18.5h1M80 18.5h1M104 18.5h1M139 18.5h1M144 18.5h1M169 18.5h1M192 18.5h1M198 18.5h2M202 18.5h1M220 18.5h1M232 18.5h2M238 18.5h1M252 18.5h1M276 18.5h1M292 18.5h2M300 18.5h1M28 19.5h1M31 19.5h1M51 19.5h1M56 19.5h3M69 19.5h1M80 19.5h1M87 19.5h1M103 19.5h1M107 19.5h1M109 19.5h1M111 19.5h1M123 19.5h1M136 19.5h1M151 19.5h1M156 19.5h1M174 19.5h2M189 19.5h1M193 19.5h1M222 19.5h1M232 19.5h1M252 19.5h1M260 19.5h1M268 19.5h2M272 19.5h1M279 19.5h1M282 19.5h1M286 19.5h1M303 19.5h1M305 19.5h1M314 19.5h2M17 20.5h1M21 20.5h1M43 20.5h1M52 20.5h1M56 20.5h1M69 20.5h1M89 20.5h1M96 20.5h1M110 20.5h1M144 20.5h2M156 20.5h1M177 20.5h1M203 20.5h2M220 20.5h1M228 20.5h1M235 20.5h1M249 20.5h1M252 20.5h1M258 20.5h1M261 20.5h2M264 20.5h1M290 20.5h1M292 20.5h1M301 20.5h1M304 20.5h1M307 20.5h1M311 20.5h1M315 20.5h1M14 21.5h1M26 21.5h1M29 21.5h1M45 21.5h1M59 21.5h1M85 21.5h1M87 21.5h2M111 21.5h1M124 21.5h1M128 21.5h1M132 21.5h1M136 21.5h1M140 21.5h1M143 21.5h1M161 21.5h1M165 21.5h3M177 21.5h1M179 21.5h1M192 21.5h1M213 21.5h2M226 21.5h1M234 21.5h2M242 21.5h1M255 21.5h1M259 21.5h1M268 21.5h1M292 21.5h2M311 21.5h1M25 22.5h1M30 22.5h1M37 22.5h1M80 22.5h1M93 22.5h1M99 22.5h1M115 22.5h1M118 22.5h1M140 22.5h1M142 22.5h1M155 22.5h1M158 22.5h1M177 22.5h1M186 22.5h1M209 22.5h1M212 22.5h1M218 22.5h1M229 22.5h2M235 22.5h1M238 22.5h1M263 22.5h1M273 22.5h2M299 22.5h1M315 22.5h1M17 23.5h1M34 23.5h1M36 23.5h1M47 23.5h2M89 23.5h1M92 23.5h2M160 23.5h1M165 23.5h1M172 23.5h1M197 23.5h2M207 23.5h1M223 23.5h1M228 23.5h1M241 23.5h1M248 23.5h1M259 23.5h2M280 23.5h1M284 23.5h1M296 23.5h1M300 23.5h1M315 23.5h1M317 23.5h1M2 24.5h1M29 24.5h1M36 24.5h1M46 24.5h1M73 24.5h1M97 24.5h1M99 24.5h1M103 24.5h1M106 24.5h1M112 24.5h1M165 24.5h1M171 24.5h1M200 24.5h1M215 24.5h1M267 24.5h1M279 24.5h1M294 24.5h1M29 25.5h1M34 25.5h1M40 25.5h1M56 25.5h1M88 25.5h1M98 25.5h2M110 25.5h1M112 25.5h1M133 25.5h1M138 25.5h1M144 25.5h1M149 25.5h1M155 25.5h1M169 25.5h1M215 25.5h1M218 25.5h1M226 25.5h1M248 25.5h1M250 25.5h1M260 25.5h1M272 25.5h1M283 25.5h1M295 25.5h1M303 25.5h1M313 25.5h1M15 26.5h1M24 26.5h1M44 26.5h1M93 26.5h1M105 26.5h1M107 26.5h1M116 26.5h1M125 26.5h2M155 26.5h1M157 26.5h1M167 26.5h1M180 26.5h1M187 26.5h1M189 26.5h1M201 26.5h1M235 26.5h1M238 26.5h1M253 26.5h1M265 26.5h1M282 26.5h1M292 26.5h1M294 26.5h1M300 26.5h1M315 26.5h1M23 27.5h1M41 27.5h1M57 27.5h1M84 27.5h1M98 27.5h2M106 27.5h1M157 27.5h1M165 27.5h1M169 27.5h1M194 27.5h1M203 27.5h2M210 27.5h2M222 27.5h1M230 27.5h1M237 27.5h1M259 27.5h4M268 27.5h1M287 27.5h1M307 27.5h1M5 28.5h1M38 28.5h1M43 28.5h1M74 28.5h1M81 28.5h1M84 28.5h1M91 28.5h1M104 28.5h1M114 28.5h1M116 28.5h1M145 28.5h1M174 28.5h1M180 28.5h1M203 28.5h1M218 28.5h1M236 28.5h1M239 28.5h1M246 28.5h1M248 28.5h1M256 28.5h1M266 28.5h1M305 28.5h1M313 28.5h1M315 28.5h1M46 29.5h1M60 29.5h1M80 29.5h1M122 29.5h1M157 29.5h1M163 29.5h1M227 29.5h1M248 29.5h1M257 29.5h1M280 29.5h1M298 29.5h1M4 30.5h1M24 30.5h1M34 30.5h1M41 30.5h1M47 30.5h1M63 30.5h1M5 31.5h1M149 31.5h1M211 31.5h1M231 31.5h1M19 32.5h1M43 32.5h1M82 32.5h1M84 32.5h1M86 32.5h1M89 32.5h1M94 32.5h1M106 32.5h1M117 32.5h1M121 32.5h1M125 32.5h2M128 32.5h1M131 32.5h1M139 32.5h1M158 32.5h1M170 32.5h3M204 32.5h1M215 32.5h1M218 32.5h1M228 32.5h1M250 32.5h1M254 32.5h1M280 32.5h1M293 32.5h3M302 32.5h2M312 32.5h1M4 33.5h2M60 33.5h1M76 33.5h1M79 33.5h1M86 33.5h1M113 33.5h1M117 33.5h1M126 33.5h1M141 33.5h1M209 33.5h1M231 33.5h1M246 33.5h3M259 33.5h1M276 33.5h2M302 33.5h1M304 33.5h2M9 34.5h1M30 34.5h1M40 34.5h1M57 34.5h1M81 34.5h1M89 34.5h1M97 34.5h1M118 34.5h1M123 34.5h1M139 34.5h2M173 34.5h1M181 34.5h1M214 34.5h1M221 34.5h1M230 34.5h1M232 34.5h3M280 34.5h1M295 34.5h1M311 34.5h1M16 35.5h1M26 35.5h1M31 35.5h1M52 35.5h1M83 35.5h1M90 35.5h1M122 35.5h1M127 35.5h1M132 35.5h1M140 35.5h1M142 35.5h1M150 35.5h1M175 35.5h1M196 35.5h1M211 35.5h1M241 35.5h1M249 35.5h1M270 35.5h2M10 36.5h1M25 36.5h1M88 36.5h1M97 36.5h1M113 36.5h1M120 36.5h1M124 36.5h1M127 36.5h2M130 36.5h1M133 36.5h1M147 36.5h1M157 36.5h1M167 36.5h1M198 36.5h1M229 36.5h1M249 36.5h2M279 36.5h1M288 36.5h1M295 36.5h1M300 36.5h1M308 36.5h1M318 36.5h1M5 37.5h2M11 37.5h1M14 37.5h1M35 37.5h1M86 37.5h1M97 37.5h1M109 37.5h1M111 37.5h2M124 37.5h1M144 37.5h1M151 37.5h1M214 37.5h1M261 37.5h1M270 37.5h1M283 37.5h1M300 37.5h1M307 37.5h1M311 37.5h2M318 37.5h1M9 38.5h1M15 38.5h1M38 38.5h1M68 38.5h1M83 38.5h1M93 38.5h1M102 38.5h1M114 38.5h1M121 38.5h1M154 38.5h1M189 38.5h1M193 38.5h1M195 38.5h1M211 38.5h2M260 38.5h1M289 38.5h1M292 38.5h1M309 38.5h1M4 39.5h1M14 39.5h1M62 39.5h1M92 39.5h1M94 39.5h1M131 39.5h1M136 39.5h1M165 39.5h1M190 39.5h1M192 39.5h1M219 39.5h1M224 39.5h1M226 39.5h1M249 39.5h1M253 39.5h1M256 39.5h1M293 39.5h1M304 39.5h1"/><path stroke="#0026ff" d="M50 0.5h1M50 -.5h1M135 0.5h1M135 -.5h1M148 0.5h1M148 -.5h1M158 0.5h1M158 -.5h1M195 0.5h1M195 -.5h1M239 0.5h1M239 -.5h1M263 0.5h1M263 -.5h1M295 0.5h1M295 -.5h1M8 1.5h1M120 1.5h1M154 1.5h1M219 1.5h1M249 1.5h2M255 1.5h1M267 1.5h1M289 1.5h1M11 2.5h1M27 2.5h1M53 2.5h1M55 2.5h1M78 2.5h1M98 2.5h1M100 2.5h1M134 2.5h1M192 2.5h1M312 2.5h1M3 3.5h1M12 3.5h1M63 3.5h1M78 3.5h1M88 3.5h1M112 3.5h1M130 3.5h1M154 3.5h1M193 3.5h1M197 3.5h1M216 3.5h2M223 3.5h1M226 3.5h1M251 3.5h1M293 3.5h1M25 4.5h1M37 4.5h1M63 4.5h1M103 4.5h1M140 4.5h1M168 4.5h1M190 4.5h1M219 4.5h1M253 4.5h1M264 4.5h1M267 4.5h1M317 4.5h1M13 5.5h1M28 5.5h1M32 5.5h1M37 5.5h1M39 5.5h1M140 5.5h1M142 5.5h1M146 5.5h1M158 5.5h2M163 5.5h1M170 5.5h1M183 5.5h1M229 5.5h1M306 5.5h1M312 5.5h1M30 6.5h1M107 6.5h1M152 6.5h1M178 6.5h1M231 6.5h1M238 6.5h1M288 6.5h1M299 6.5h1M11 7.5h1M15 7.5h1M42 7.5h1M80 7.5h1M118 7.5h1M152 7.5h1M162 7.5h1M173 7.5h1M175 7.5h1M200 7.5h1M220 7.5h1M233 7.5h1M19 8.5h1M128 8.5h1M151 8.5h1M234 8.5h1M260 8.5h1M279 8.5h1M292 8.5h1M297 8.5h1M306 8.5h1M309 8.5h1M25 9.5h1M84 9.5h1M86 9.5h1M126 9.5h1M153 9.5h1M190 9.5h1M256 9.5h1M57 10.5h1M82 10.5h1M123 10.5h1M160 10.5h1M165 10.5h1M186 10.5h1M194 10.5h1M199 10.5h1M201 10.5h1M233 10.5h1M245 10.5h1M251 10.5h1M10 11.5h1M18 11.5h1M29 11.5h1M53 11.5h2M64 11.5h1M95 11.5h1M148 11.5h1M191 11.5h1M225 11.5h1M231 11.5h1M238 11.5h1M253 11.5h1M278 11.5h1M317 11.5h1M2 12.5h1M11 12.5h1M20 12.5h1M53 12.5h1M76 12.5h1M152 12.5h1M170 12.5h1M177 12.5h1M213 12.5h1M223 12.5h1M228 12.5h1M236 12.5h1M307 12.5h1M8 13.5h1M19 13.5h1M43 13.5h1M98 13.5h1M116 13.5h1M125 13.5h1M189 13.5h1M232 13.5h1M251 13.5h1M274 13.5h1M299 13.5h1M303 13.5h1M312 13.5h1M36 14.5h1M42 14.5h1M52 14.5h1M78 14.5h1M84 14.5h1M87 14.5h1M94 14.5h1M109 14.5h1M140 14.5h1M146 14.5h1M184 14.5h2M206 14.5h2M213 14.5h1M215 14.5h1M256 14.5h1M260 14.5h1M292 14.5h1M316 14.5h1M9 15.5h1M17 15.5h1M35 15.5h1M48 15.5h1M63 15.5h1M110 15.5h1M115 15.5h1M141 15.5h1M182 15.5h1M202 15.5h1M205 15.5h1M229 15.5h1M235 15.5h1M276 15.5h1M0 16.5h1M20 16.5h1M103 16.5h1M127 16.5h1M139 16.5h1M150 16.5h1M160 16.5h1M163 16.5h1M181 16.5h1M191 16.5h1M232 16.5h1M258 16.5h1M265 16.5h1M291 16.5h1M306 16.5h1M4 17.5h1M18 17.5h1M37 17.5h1M81 17.5h1M151 17.5h1M168 17.5h1M174 17.5h1M214 17.5h1M233 17.5h1M242 17.5h1M247 17.5h1M253 17.5h1M280 17.5h1M286 17.5h1M289 17.5h1M311 17.5h1M0 18.5h1M37 18.5h1M64 18.5h1M115 18.5h1M118 18.5h1M129 18.5h1M186 18.5h1M194 18.5h1M214 18.5h1M226 18.5h1M244 18.5h1M275 18.5h1M288 18.5h1M3 19.5h1M29 19.5h1M53 19.5h1M68 19.5h1M113 19.5h1M119 19.5h2M140 19.5h1M155 19.5h1M186 19.5h1M188 19.5h1M238 19.5h1M289 19.5h1M302 19.5h1M319 19.5h1M7 20.5h1M11 20.5h1M19 20.5h1M50 20.5h1M87 20.5h1M94 20.5h1M136 20.5h2M139 20.5h1M149 20.5h1M183 20.5h1M214 20.5h1M226 20.5h1M240 20.5h1M242 20.5h1M272 20.5h1M274 20.5h1M296 20.5h1M316 20.5h1M3 21.5h1M8 21.5h1M12 21.5h1M78 21.5h1M80 21.5h1M83 21.5h1M95 21.5h1M117 21.5h1M133 21.5h1M158 21.5h1M199 21.5h1M210 21.5h1M277 21.5h1M295 21.5h1M303 21.5h1M308 21.5h1M317 21.5h1M11 22.5h1M31 22.5h1M70 22.5h1M98 22.5h1M122 22.5h1M166 22.5h1M169 22.5h1M175 22.5h1M187 22.5h1M208 22.5h1M213 22.5h1M254 22.5h1M266 22.5h1M269 22.5h1M283 22.5h1M300 22.5h1M306 22.5h1M319 22.5h1M40 23.5h1M69 23.5h1M72 23.5h1M95 23.5h1M104 23.5h1M146 23.5h1M173 23.5h1M189 23.5h1M213 23.5h1M285 23.5h1M314 23.5h1M316 23.5h1M43 24.5h1M58 24.5h1M71 24.5h1M76 24.5h1M116 24.5h1M169 24.5h1M193 24.5h1M224 24.5h1M227 24.5h1M253 24.5h1M290 24.5h1M292 24.5h1M307 24.5h1M318 24.5h1M2 25.5h1M7 25.5h1M17 25.5h1M24 25.5h1M47 25.5h1M120 25.5h1M161 25.5h1M180 25.5h1M204 25.5h1M220 25.5h1M297 25.5h1M304 25.5h1M8 26.5h1M32 26.5h1M51 26.5h1M90 26.5h1M94 26.5h1M96 26.5h1M98 26.5h2M118 26.5h1M122 26.5h1M175 26.5h1M195 26.5h1M208 26.5h1M227 26.5h1M234 26.5h1M244 26.5h1M309 26.5h1M15 27.5h1M28 27.5h1M32 27.5h1M54 27.5h1M87 27.5h1M122 27.5h1M130 27.5h1M188 27.5h1M196 27.5h1M238 27.5h1M240 27.5h1M269 27.5h1M292 27.5h1M316 27.5h1M54 28.5h2M62 28.5h1M143 28.5h1M155 28.5h1M160 28.5h1M169 28.5h1M176 28.5h1M186 28.5h1M221 28.5h1M296 28.5h1M22 29.5h1M27 29.5h1M54 29.5h1M87 29.5h1M92 29.5h1M142 29.5h1M168 29.5h1M172 29.5h1M180 29.5h1M187 29.5h1M193 29.5h1M200 29.5h1M206 29.5h1M231 29.5h1M255 29.5h1M264 29.5h1M275 29.5h1M11 30.5h1M16 30.5h1M36 30.5h1M43 30.5h2M60 30.5h1M62 30.5h1M69 30.5h1M22 31.5h1M29 31.5h1M41 31.5h1M67 31.5h1M96 31.5h1M137 31.5h1M199 31.5h1M228 31.5h1M9 32.5h1M38 32.5h1M55 32.5h1M88 32.5h1M124 32.5h1M154 32.5h1M160 32.5h1M166 32.5h1M193 32.5h1M253 32.5h1M260 32.5h1M24 33.5h1M67 33.5h1M97 33.5h1M119 33.5h1M124 33.5h1M197 33.5h1M215 33.5h1M257 33.5h1M278 33.5h1M288 33.5h1M292 33.5h1M12 34.5h1M23 34.5h1M106 34.5h1M125 34.5h1M144 34.5h1M187 34.5h1M209 34.5h1M235 34.5h1M238 34.5h1M249 34.5h3M270 34.5h1M274 34.5h1M286 34.5h1M36 35.5h1M47 35.5h1M86 35.5h1M115 35.5h1M135 35.5h1M143 35.5h1M177 35.5h1M189 35.5h1M192 35.5h1M219 35.5h2M227 35.5h1M234 35.5h1M236 35.5h1M238 35.5h1M255 35.5h1M276 35.5h1M303 35.5h1M0 36.5h1M12 36.5h1M30 36.5h1M148 36.5h1M163 36.5h1M176 36.5h2M184 36.5h1M201 36.5h1M214 36.5h1M223 36.5h1M251 36.5h1M256 36.5h2M274 36.5h1M4 37.5h1M8 37.5h1M12 37.5h1M81 37.5h1M83 37.5h1M102 37.5h1M113 37.5h1M137 37.5h1M142 37.5h1M146 37.5h1M152 37.5h1M154 37.5h1M190 37.5h1M198 37.5h1M219 37.5h1M221 37.5h1M223 37.5h1M299 37.5h1M0 38.5h1M29 38.5h1M33 38.5h1M103 38.5h1M128 38.5h1M130 38.5h1M134 38.5h1M138 38.5h1M180 38.5h1M222 38.5h1M261 38.5h1M294 38.5h1M303 38.5h1M13 39.5h1M28 39.5h2M35 39.5h2M112 39.5h1M155 39.5h1M161 39.5h2M172 39.5h1M193 39.5h1M197 39.5h1M217 39.5h1M221 39.5h1M225 39.5h1M241 39.5h1M257 39.5h1M283 39.5h1M296 39.5h1"/><path stroke="#0065ff" d="M77 0.5h1M77 -.5h1M71 1.5h1M309 1.5h1M165 2.5h1M213 3.5h1M88 4.5h1M318 4.5h1M122 5.5h1M147 5.5h1M318 5.5h1M88 6.5h1M128 6.5h1M150 6.5h1M132 7.5h1M207 7.5h1M46 8.5h1M80 8.5h1M173 8.5h1M247 8.5h1M283 8.5h1M301 8.5h1M46 9.5h2M183 9.5h1M290 9.5h1M33 10.5h1M38 10.5h1M47 10.5h1M53 10.5h2M63 10.5h1M272 10.5h1M46 11.5h1M52 11.5h1M78 11.5h1M288 11.5h1M28 12.5h1M97 12.5h1M135 12.5h1M149 12.5h1M187 12.5h1M288 12.5h1M118 13.5h1M122 13.5h1M138 13.5h1M145 13.5h1M183 13.5h1M187 13.5h1M190 13.5h2M228 13.5h1M252 13.5h1M224 14.5h1M226 14.5h1M78 15.5h1M85 15.5h1M117 15.5h1M267 15.5h1M29 16.5h1M40 16.5h1M81 16.5h1M107 16.5h1M111 16.5h1M140 16.5h1M171 16.5h1M234 16.5h1M274 16.5h1M317 16.5h1M272 17.5h1M294 17.5h1M317 17.5h1M247 18.5h1M100 19.5h1M117 19.5h1M135 19.5h1M139 19.5h1M200 19.5h1M37 20.5h1M72 20.5h1M79 20.5h1M171 20.5h1M199 20.5h1M9 21.5h1M48 21.5h1M62 21.5h1M170 21.5h1M201 21.5h1M209 21.5h1M310 21.5h1M84 22.5h1M89 22.5h1M103 22.5h1M156 22.5h1M203 22.5h1M294 22.5h1M46 23.5h1M117 23.5h1M159 23.5h1M185 23.5h1M194 23.5h1M231 23.5h1M288 23.5h1M294 23.5h1M297 23.5h1M84 24.5h1M153 24.5h1M201 24.5h1M261 24.5h1M293 24.5h1M304 24.5h1M310 24.5h1M1 25.5h1M43 25.5h1M117 25.5h1M274 25.5h1M20 26.5h1M49 26.5h1M82 26.5h1M183 26.5h1M273 26.5h1M25 27.5h1M116 27.5h1M131 27.5h1M198 27.5h1M299 27.5h1M47 28.5h1M100 28.5h1M220 28.5h1M272 28.5h1M304 28.5h1M311 28.5h1M1 29.5h1M6 29.5h1M36 29.5h1M81 29.5h1M141 29.5h1M149 29.5h1M177 29.5h1M192 29.5h1M216 29.5h1M224 29.5h1M235 29.5h1M254 29.5h1M278 29.5h2M281 29.5h1M295 29.5h1M308 29.5h1M56 30.5h1M42 31.5h1M100 31.5h1M134 31.5h1M153 31.5h1M158 31.5h1M182 31.5h1M184 31.5h1M189 31.5h1M200 31.5h1M218 31.5h1M226 31.5h1M233 31.5h1M235 31.5h1M252 31.5h1M258 31.5h1M302 31.5h1M314 31.5h1M21 32.5h1M24 32.5h1M51 32.5h1M67 32.5h1M79 32.5h1M83 32.5h1M85 32.5h1M144 32.5h1M217 32.5h1M249 32.5h1M315 32.5h2M1 33.5h1M14 33.5h1M25 33.5h1M83 33.5h1M99 33.5h1M110 33.5h1M163 33.5h1M249 33.5h1M284 33.5h1M41 34.5h1M59 34.5h1M95 34.5h1M160 34.5h1M185 34.5h1M252 34.5h1M301 34.5h1M309 34.5h1M3 35.5h1M7 35.5h1M48 35.5h1M51 35.5h1M61 35.5h1M87 35.5h1M91 35.5h2M136 35.5h1M138 35.5h1M174 35.5h1M208 35.5h1M254 35.5h1M302 35.5h1M8 36.5h1M204 36.5h1M247 36.5h1M270 36.5h1M25 37.5h1M36 37.5h1M44 37.5h1M100 37.5h1M145 37.5h1M179 37.5h1M248 37.5h1M279 37.5h1M56 38.5h1M67 38.5h1M90 38.5h1M196 38.5h1M221 38.5h1M242 38.5h1M0 39.5h1M30 39.5h1M71 39.5h1M79 39.5h1M91 39.5h1M138 39.5h1M166 39.5h1M272 39.5h1M295 39.5h1"/><path stroke="#0019ff" d="M81 0.5h1M81 -.5h1M131 0.5h1M131 -.5h1M140 0.5h1M140 -.5h1M199 0.5h1M199 -.5h1M201 0.5h1M201 -.5h1M221 0.5h1M221 -.5h1M261 0.5h1M261 -.5h1M289 0.5h1M289 -.5h1M298 0.5h1M298 -.5h1M306 0.5h1M306 -.5h1M34 1.5h1M68 1.5h1M85 1.5h1M159 1.5h1M165 1.5h1M185 1.5h1M199 1.5h1M207 1.5h1M212 1.5h1M228 1.5h1M257 1.5h1M290 1.5h1M37 2.5h1M47 2.5h1M49 2.5h1M58 2.5h1M84 2.5h1M88 2.5h1M113 2.5h1M127 2.5h1M141 2.5h1M163 2.5h1M172 2.5h1M195 2.5h1M197 2.5h1M202 2.5h1M270 2.5h1M278 2.5h1M298 2.5h1M309 2.5h1M14 3.5h1M22 3.5h1M38 3.5h1M42 3.5h1M47 3.5h2M51 3.5h2M103 3.5h1M119 3.5h1M174 3.5h1M180 3.5h1M203 3.5h1M274 3.5h1M277 3.5h1M287 3.5h1M300 3.5h1M316 3.5h1M11 4.5h1M41 4.5h1M45 4.5h1M65 4.5h1M73 4.5h1M80 4.5h1M135 4.5h1M139 4.5h1M152 4.5h1M231 4.5h1M261 4.5h1M294 4.5h1M312 4.5h1M20 5.5h1M38 5.5h1M41 5.5h1M46 5.5h2M93 5.5h1M103 5.5h1M175 5.5h1M182 5.5h1M202 5.5h1M214 5.5h1M249 5.5h1M260 5.5h1M276 5.5h1M286 5.5h1M14 6.5h1M65 6.5h1M74 6.5h1M79 6.5h1M87 6.5h1M93 6.5h1M95 6.5h1M104 6.5h1M118 6.5h1M122 6.5h1M151 6.5h1M199 6.5h1M221 6.5h1M226 6.5h2M253 6.5h2M263 6.5h1M275 6.5h1M295 6.5h1M23 7.5h1M41 7.5h1M84 7.5h1M101 7.5h1M104 7.5h1M106 7.5h1M148 7.5h1M181 7.5h2M285 7.5h1M3 8.5h1M13 8.5h1M34 8.5h1M39 8.5h1M55 8.5h1M59 8.5h1M64 8.5h1M68 8.5h1M77 8.5h1M81 8.5h1M84 8.5h1M96 8.5h1M126 8.5h1M150 8.5h1M160 8.5h1M170 8.5h1M205 8.5h1M211 8.5h1M218 8.5h1M237 8.5h1M308 8.5h1M319 8.5h1M2 9.5h1M7 9.5h1M13 9.5h1M27 9.5h1M40 9.5h1M50 9.5h1M76 9.5h1M80 9.5h1M82 9.5h1M97 9.5h1M106 9.5h1M195 9.5h1M203 9.5h1M227 9.5h1M238 9.5h1M254 9.5h1M268 9.5h1M281 9.5h1M303 9.5h1M315 9.5h1M4 10.5h1M27 10.5h1M35 10.5h1M40 10.5h1M68 10.5h1M79 10.5h1M81 10.5h1M115 10.5h1M138 10.5h1M148 10.5h1M161 10.5h1M180 10.5h1M204 10.5h1M219 10.5h1M235 10.5h1M249 10.5h1M252 10.5h1M255 10.5h1M261 10.5h1M269 10.5h1M308 10.5h1M5 11.5h1M28 11.5h1M65 11.5h1M107 11.5h1M122 11.5h1M139 11.5h1M143 11.5h1M152 11.5h1M164 11.5h1M174 11.5h2M207 11.5h1M227 11.5h1M254 11.5h1M268 11.5h1M284 11.5h1M299 11.5h1M306 11.5h1M5 12.5h1M19 12.5h1M78 12.5h2M106 12.5h1M112 12.5h1M118 12.5h1M132 12.5h1M141 12.5h1M155 12.5h1M179 12.5h1M184 12.5h1M240 12.5h1M245 12.5h2M258 12.5h1M308 12.5h1M4 13.5h1M9 13.5h1M13 13.5h1M42 13.5h1M47 13.5h1M52 13.5h1M56 13.5h1M60 13.5h1M77 13.5h1M144 13.5h1M198 13.5h1M236 13.5h1M289 13.5h1M300 13.5h1M310 13.5h1M315 13.5h1M13 14.5h1M20 14.5h1M23 14.5h1M55 14.5h1M69 14.5h1M102 14.5h1M115 14.5h1M137 14.5h1M168 14.5h1M179 14.5h2M194 14.5h1M221 14.5h1M236 14.5h1M241 14.5h1M249 14.5h1M259 14.5h1M270 14.5h1M274 14.5h1M293 14.5h1M25 15.5h1M31 15.5h1M40 15.5h1M46 15.5h1M64 15.5h1M95 15.5h1M111 15.5h1M126 15.5h1M130 15.5h2M136 15.5h1M175 15.5h1M189 15.5h1M211 15.5h1M239 15.5h1M277 15.5h1M315 15.5h1M318 15.5h1M15 16.5h1M26 16.5h1M28 16.5h1M41 16.5h2M113 16.5h1M146 16.5h1M152 16.5h1M190 16.5h1M195 16.5h1M225 16.5h1M236 16.5h1M276 16.5h1M280 16.5h1M293 16.5h1M45 17.5h1M63 17.5h1M68 17.5h1M93 17.5h1M172 17.5h1M219 17.5h1M224 17.5h1M239 17.5h1M241 17.5h1M281 17.5h1M295 17.5h1M312 17.5h1M2 18.5h1M6 18.5h1M14 18.5h1M17 18.5h1M45 18.5h1M51 18.5h1M54 18.5h1M78 18.5h1M100 18.5h1M116 18.5h1M122 18.5h1M187 18.5h1M203 18.5h2M248 18.5h1M257 18.5h1M291 18.5h1M312 18.5h1M17 19.5h2M20 19.5h1M25 19.5h1M27 19.5h1M59 19.5h1M72 19.5h1M146 19.5h1M160 19.5h1M166 19.5h1M204 19.5h1M214 19.5h1M228 19.5h1M230 19.5h1M266 19.5h1M280 19.5h1M41 20.5h1M46 20.5h1M48 20.5h1M58 20.5h1M100 20.5h1M123 20.5h1M146 20.5h1M212 20.5h1M248 20.5h1M253 20.5h1M257 20.5h1M288 20.5h1M302 20.5h1M2 21.5h1M25 21.5h1M27 21.5h2M38 21.5h1M43 21.5h1M49 21.5h1M94 21.5h1M105 21.5h1M155 21.5h1M159 21.5h1M216 21.5h1M227 21.5h1M240 21.5h1M243 21.5h1M273 21.5h1M278 21.5h1M281 21.5h1M296 21.5h1M302 21.5h1M314 21.5h1M15 22.5h1M29 22.5h1M53 22.5h1M55 22.5h1M74 22.5h1M78 22.5h1M110 22.5h2M117 22.5h1M119 22.5h1M128 22.5h1M135 22.5h2M163 22.5h1M215 22.5h1M236 22.5h1M270 22.5h1M282 22.5h1M290 22.5h1M310 22.5h1M20 23.5h1M41 23.5h1M96 23.5h1M108 23.5h1M114 23.5h1M138 23.5h3M152 23.5h1M175 23.5h1M182 23.5h1M199 23.5h1M214 23.5h1M219 23.5h1M233 23.5h1M242 23.5h1M269 23.5h1M274 23.5h1M278 23.5h1M287 23.5h1M312 23.5h1M3 24.5h1M17 24.5h1M21 24.5h1M26 24.5h2M52 24.5h1M62 24.5h1M77 24.5h1M101 24.5h1M105 24.5h1M119 24.5h1M127 24.5h1M148 24.5h1M159 24.5h1M183 24.5h1M190 24.5h1M217 24.5h1M220 24.5h1M243 24.5h1M246 24.5h1M255 24.5h1M264 24.5h1M266 24.5h1M283 24.5h1M298 24.5h1M303 24.5h1M313 24.5h1M4 25.5h1M27 25.5h1M36 25.5h1M52 25.5h1M57 25.5h1M73 25.5h1M78 25.5h1M83 25.5h1M109 25.5h1M111 25.5h1M123 25.5h1M154 25.5h1M159 25.5h1M186 25.5h1M192 25.5h1M210 25.5h1M212 25.5h1M238 25.5h1M264 25.5h1M290 25.5h1M293 25.5h1M296 25.5h1M307 25.5h1M11 26.5h1M64 26.5h1M75 26.5h1M89 26.5h1M133 26.5h1M135 26.5h1M149 26.5h2M171 26.5h1M198 26.5h1M202 26.5h1M216 26.5h1M218 26.5h1M220 26.5h2M230 26.5h1M240 26.5h1M242 26.5h1M257 26.5h1M263 26.5h1M268 26.5h1M274 26.5h1M308 26.5h1M316 26.5h1M27 27.5h1M30 27.5h1M44 27.5h1M68 27.5h1M86 27.5h1M96 27.5h1M101 27.5h1M151 27.5h1M161 27.5h1M180 27.5h1M205 27.5h1M214 27.5h1M254 27.5h1M265 27.5h1M270 27.5h1M276 27.5h1M279 27.5h1M283 27.5h1M313 27.5h1M2 28.5h1M18 28.5h1M21 28.5h1M26 28.5h1M65 28.5h1M71 28.5h1M146 28.5h1M172 28.5h1M192 28.5h1M222 28.5h1M228 28.5h1M286 28.5h1M290 28.5h1M3 29.5h1M33 29.5h1M55 29.5h1M96 29.5h1M105 29.5h1M130 29.5h1M139 29.5h1M153 29.5h1M165 29.5h1M169 29.5h1M171 29.5h1M178 29.5h1M203 29.5h1M211 29.5h1M215 29.5h1M221 29.5h1M266 29.5h1M273 29.5h1M283 29.5h1M291 29.5h1M294 29.5h1M297 29.5h1M17 30.5h1M51 30.5h1M317 30.5h1M0 31.5h1M12 31.5h1M16 31.5h1M24 31.5h2M49 31.5h2M62 31.5h1M143 31.5h1M195 31.5h1M257 31.5h1M286 31.5h1M13 32.5h3M26 32.5h1M29 32.5h1M104 32.5h1M148 32.5h1M179 32.5h1M200 32.5h1M202 32.5h1M221 32.5h1M224 32.5h1M251 32.5h1M259 32.5h1M262 32.5h1M264 32.5h1M277 32.5h1M299 32.5h1M36 33.5h1M47 33.5h1M49 33.5h1M55 33.5h1M58 33.5h2M98 33.5h1M146 33.5h2M164 33.5h1M190 33.5h1M192 33.5h1M202 33.5h2M219 33.5h1M222 33.5h4M237 33.5h1M270 33.5h1M306 33.5h1M310 33.5h1M69 34.5h1M77 34.5h1M101 34.5h1M121 34.5h1M138 34.5h1M156 34.5h1M168 34.5h1M171 34.5h1M198 34.5h1M219 34.5h1M257 34.5h1M288 34.5h1M9 35.5h1M25 35.5h1M39 35.5h1M69 35.5h1M75 35.5h1M117 35.5h1M130 35.5h1M193 35.5h1M214 35.5h1M230 35.5h1M253 35.5h1M286 35.5h1M290 35.5h2M307 35.5h2M311 35.5h1M33 36.5h2M40 36.5h1M46 36.5h1M84 36.5h1M100 36.5h1M114 36.5h1M122 36.5h1M135 36.5h1M138 36.5h1M145 36.5h1M155 36.5h1M173 36.5h1M190 36.5h1M203 36.5h1M217 36.5h1M221 36.5h1M228 36.5h1M231 36.5h1M237 36.5h2M298 36.5h1M302 36.5h1M21 37.5h1M26 37.5h1M32 37.5h1M87 37.5h1M92 37.5h1M133 37.5h1M138 37.5h1M143 37.5h1M161 37.5h1M217 37.5h1M224 37.5h1M245 37.5h1M253 37.5h1M314 37.5h1M39 38.5h1M50 38.5h1M62 38.5h1M74 38.5h1M82 38.5h1M113 38.5h1M115 38.5h1M125 38.5h1M129 38.5h1M139 38.5h1M152 38.5h1M162 38.5h1M164 38.5h1M175 38.5h1M190 38.5h1M224 38.5h1M256 38.5h1M295 38.5h1M319 38.5h1M27 39.5h1M32 39.5h1M40 39.5h1M57 39.5h1M67 39.5h1M69 39.5h1M109 39.5h1M148 39.5h1M157 39.5h1M159 39.5h1M163 39.5h1M203 39.5h1M215 39.5h1M230 39.5h1M240 39.5h1M250 39.5h1M294 39.5h1M300 39.5h1M307 39.5h1M311 39.5h1"/><path stroke="#004cff" d="M98 0.5h1M98 -.5h1M191 0.5h1M191 -.5h1M56 1.5h1M136 1.5h1M271 1.5h1M137 2.5h1M186 3.5h1M238 3.5h1M60 4.5h1M62 4.5h1M156 4.5h1M217 4.5h1M40 5.5h1M52 5.5h1M69 5.5h1M88 5.5h2M220 5.5h1M89 6.5h1M272 6.5h1M57 7.5h1M127 7.5h1M202 7.5h1M318 7.5h1M121 8.5h1M158 8.5h1M209 8.5h1M242 8.5h1M38 9.5h1M89 9.5h1M107 9.5h1M158 9.5h1M189 9.5h1M198 9.5h1M279 9.5h1M37 10.5h1M62 10.5h1M154 10.5h1M256 10.5h2M274 10.5h1M282 10.5h1M23 11.5h1M239 11.5h1M266 11.5h1M39 12.5h1M52 12.5h1M117 12.5h1M154 12.5h1M191 12.5h1M239 12.5h1M250 12.5h1M277 12.5h1M15 13.5h1M92 13.5h1M108 13.5h1M112 13.5h1M185 13.5h1M204 13.5h1M207 13.5h1M227 13.5h1M246 13.5h1M249 13.5h1M305 13.5h1M51 14.5h1M74 14.5h1M186 14.5h1M189 14.5h1M267 14.5h1M280 14.5h1M305 14.5h1M317 14.5h1M186 15.5h1M198 15.5h1M251 15.5h1M256 15.5h1M295 15.5h1M12 16.5h1M18 16.5h1M39 16.5h1M71 16.5h1M104 16.5h1M186 16.5h1M202 16.5h1M277 16.5h1M292 16.5h1M9 17.5h1M54 17.5h1M75 17.5h1M114 17.5h1M118 17.5h1M124 17.5h1M142 17.5h1M154 17.5h1M210 17.5h1M213 17.5h1M222 17.5h1M264 17.5h1M27 18.5h1M30 18.5h1M84 18.5h1M92 18.5h1M98 18.5h1M107 18.5h1M195 18.5h1M235 18.5h1M272 18.5h2M0 19.5h1M11 19.5h1M19 19.5h1M21 19.5h1M95 19.5h1M246 19.5h1M298 19.5h1M300 19.5h1M316 19.5h1M1 20.5h1M12 20.5h1M200 20.5h1M7 21.5h1M50 21.5h1M84 21.5h1M109 21.5h1M171 21.5h1M180 21.5h1M260 21.5h1M269 21.5h1M8 22.5h1M120 22.5h1M198 22.5h1M252 22.5h1M256 22.5h1M289 22.5h1M58 23.5h1M84 23.5h1M88 23.5h1M110 23.5h1M235 23.5h1M257 23.5h1M262 23.5h1M264 23.5h1M39 24.5h1M133 24.5h1M187 24.5h1M206 24.5h1M245 24.5h1M8 25.5h2M39 25.5h1M53 25.5h1M67 25.5h1M95 25.5h1M132 25.5h1M147 25.5h1M153 25.5h1M170 25.5h1M193 25.5h1M281 25.5h1M23 26.5h1M43 26.5h1M66 26.5h1M102 26.5h1M173 26.5h1M197 26.5h1M205 26.5h1M226 26.5h1M298 26.5h1M73 27.5h1M82 27.5h1M148 27.5h1M199 27.5h1M228 27.5h1M257 27.5h1M263 27.5h1M278 27.5h1M314 27.5h2M34 28.5h1M53 28.5h1M85 28.5h1M105 28.5h1M123 28.5h1M171 28.5h1M209 28.5h1M255 28.5h1M273 28.5h1M285 28.5h1M13 29.5h1M41 29.5h1M47 29.5h1M62 29.5h1M70 29.5h1M88 29.5h2M150 29.5h1M208 29.5h1M234 29.5h1M237 29.5h1M268 29.5h1M307 29.5h1M310 29.5h1M313 29.5h1M22 30.5h1M27 30.5h1M26 31.5h1M33 31.5h1M36 31.5h1M54 31.5h1M60 31.5h1M74 31.5h1M83 31.5h1M108 31.5h1M114 31.5h1M119 31.5h1M122 31.5h1M138 31.5h1M146 31.5h1M148 31.5h1M180 31.5h1M207 31.5h1M214 31.5h1M222 31.5h1M260 31.5h1M288 31.5h1M312 31.5h1M22 32.5h1M25 32.5h1M41 32.5h1M87 32.5h1M116 32.5h1M138 32.5h1M153 32.5h1M165 32.5h1M241 32.5h1M270 32.5h1M319 32.5h1M27 33.5h1M62 33.5h1M94 33.5h1M127 33.5h1M176 33.5h1M241 33.5h1M272 33.5h1M11 34.5h1M29 34.5h1M56 34.5h1M76 34.5h1M86 34.5h1M145 34.5h1M225 34.5h1M244 34.5h1M289 34.5h1M293 34.5h1M6 35.5h1M13 35.5h2M43 35.5h1M57 35.5h1M79 35.5h1M89 35.5h1M103 35.5h1M113 35.5h1M148 35.5h1M160 35.5h1M172 35.5h1M180 35.5h1M205 35.5h1M221 35.5h1M223 35.5h1M243 35.5h1M260 35.5h1M9 36.5h1M17 36.5h1M20 36.5h1M23 36.5h1M75 36.5h1M171 36.5h1M232 36.5h1M242 36.5h1M255 36.5h1M272 36.5h1M17 37.5h1M45 37.5h1M61 37.5h1M85 37.5h1M117 37.5h1M170 37.5h1M202 37.5h1M220 37.5h1M288 37.5h1M4 38.5h1M7 38.5h1M17 38.5h1M27 38.5h1M69 38.5h1M86 38.5h1M145 38.5h1M184 38.5h1M199 38.5h1M220 38.5h1M234 38.5h2M302 38.5h1M9 39.5h1M12 39.5h1M33 39.5h1M72 39.5h1M105 39.5h1M119 39.5h1M169 39.5h1M227 39.5h1M248 39.5h1M288 39.5h1M297 39.5h1"/><path stroke="#0059ff" d="M103 0.5h1M103 -.5h1M92 1.5h1M129 2.5h1M219 2.5h1M165 3.5h1M215 4.5h1M233 4.5h1M238 4.5h1M319 6.5h1M14 7.5h1M133 7.5h1M266 7.5h1M294 7.5h1M134 8.5h1M246 8.5h1M290 8.5h1M57 9.5h1M284 9.5h1M312 9.5h1M1 10.5h1M46 10.5h1M51 10.5h1M56 10.5h1M64 10.5h1M198 10.5h1M11 11.5h2M21 11.5h1M97 11.5h1M131 11.5h1M141 11.5h1M237 11.5h1M255 11.5h1M25 12.5h1M33 12.5h1M37 12.5h1M182 12.5h1M232 12.5h1M272 12.5h1M291 12.5h1M309 12.5h1M3 13.5h1M111 13.5h1M147 13.5h1M149 13.5h1M153 13.5h1M159 13.5h1M219 13.5h1M225 13.5h2M245 13.5h1M270 13.5h1M47 14.5h1M148 14.5h1M223 14.5h1M250 14.5h2M52 15.5h1M91 15.5h1M104 15.5h1M197 15.5h1M247 15.5h1M252 15.5h1M89 16.5h1M172 16.5h1M198 16.5h1M249 16.5h1M311 16.5h1M21 17.5h1M24 17.5h1M48 17.5h1M79 17.5h1M170 17.5h1M257 17.5h1M319 17.5h1M260 18.5h1M294 18.5h1M41 19.5h1M62 19.5h1M225 19.5h1M242 19.5h1M267 19.5h1M318 19.5h1M81 20.5h1M140 20.5h1M143 20.5h1M158 20.5h2M164 20.5h1M178 20.5h1M184 20.5h1M255 20.5h1M267 20.5h1M32 21.5h1M35 21.5h1M51 21.5h1M77 21.5h1M113 21.5h1M219 21.5h1M250 21.5h1M12 22.5h1M61 22.5h1M87 22.5h1M201 22.5h1M226 22.5h1M3 23.5h1M80 23.5h1M115 23.5h1M176 23.5h1M188 23.5h1M208 23.5h1M230 23.5h1M290 23.5h1M310 23.5h1M55 24.5h1M68 24.5h1M142 24.5h1M154 24.5h1M167 24.5h1M225 24.5h1M54 25.5h1M82 25.5h1M146 25.5h1M148 25.5h1M158 25.5h1M187 25.5h1M17 26.5h1M86 26.5h1M95 26.5h1M160 26.5h1M271 26.5h1M7 27.5h1M38 27.5h1M66 27.5h1M80 27.5h1M92 27.5h2M1 28.5h1M3 28.5h1M12 28.5h1M82 28.5h1M112 28.5h1M130 28.5h1M201 28.5h1M210 28.5h1M233 28.5h1M284 28.5h1M301 28.5h1M38 29.5h1M90 29.5h1M97 29.5h1M101 29.5h1M106 29.5h1M112 29.5h1M162 29.5h1M167 29.5h1M176 29.5h1M195 29.5h1M219 29.5h1M223 29.5h1M225 29.5h1M238 29.5h1M249 29.5h1M282 29.5h1M284 29.5h1M303 29.5h1M21 30.5h1M28 30.5h1M40 30.5h1M7 31.5h1M11 31.5h1M53 31.5h1M86 31.5h1M92 31.5h1M107 31.5h1M111 31.5h1M139 31.5h1M144 31.5h1M147 31.5h1M151 31.5h1M188 31.5h1M206 31.5h1M239 31.5h1M265 31.5h1M269 31.5h1M274 31.5h1M295 31.5h1M309 31.5h1M1 32.5h1M40 32.5h1M133 32.5h1M212 32.5h1M240 32.5h1M292 32.5h1M307 32.5h1M13 33.5h1M144 33.5h1M285 33.5h1M7 34.5h1M19 34.5h1M55 34.5h1M178 34.5h1M229 34.5h1M231 34.5h1M268 34.5h1M275 34.5h1M8 35.5h1M108 35.5h1M167 35.5h1M257 35.5h1M261 35.5h1M287 35.5h1M294 35.5h1M123 36.5h1M194 36.5h1M282 36.5h1M301 36.5h1M38 37.5h1M55 37.5h1M89 37.5h1M150 37.5h1M213 37.5h1M233 37.5h1M265 37.5h1M298 37.5h1M316 37.5h1M20 38.5h1M24 38.5h1M55 38.5h1M78 38.5h1M207 38.5h1M274 38.5h1M315 38.5h1M3 39.5h1M19 39.5h1M107 39.5h1M147 39.5h1M279 39.5h1M305 39.5h1M310 39.5h1"/><path stroke="#0072ff" d="M213 0.5h1M213 -.5h1M1 1.5h1M189 1.5h1M226 1.5h1M213 2.5h1M24 5.5h1M242 6.5h1M291 6.5h1M317 6.5h1M131 7.5h1M57 8.5h1M16 9.5h1M55 9.5h1M170 9.5h1M80 10.5h1M246 10.5h1M296 10.5h1M246 11.5h1M71 12.5h1M20 13.5h1M95 13.5h1M150 13.5h1M218 13.5h1M238 13.5h2M271 13.5h1M292 13.5h1M48 14.5h1M252 14.5h1M262 14.5h1M309 14.5h1M73 16.5h1M279 16.5h1M52 17.5h1M104 17.5h1M301 18.5h1M247 19.5h1M33 20.5h1M71 21.5h1M75 21.5h1M79 21.5h1M254 21.5h1M288 21.5h1M313 21.5h1M48 22.5h1M79 22.5h1M194 22.5h1M221 22.5h1M241 22.5h1M246 22.5h1M59 23.5h1M246 23.5h1M130 24.5h1M221 24.5h1M232 24.5h2M284 24.5h1M60 25.5h1M127 25.5h1M195 25.5h1M2 26.5h1M33 26.5h1M26 27.5h1M127 27.5h1M181 27.5h1M317 27.5h1M75 28.5h1M37 29.5h1M74 29.5h1M93 29.5h1M125 29.5h1M131 29.5h1M190 29.5h1M201 29.5h1M269 29.5h1M293 29.5h1M301 29.5h1M65 31.5h1M75 31.5h1M78 31.5h1M88 31.5h2M142 31.5h1M217 31.5h1M241 31.5h1M279 31.5h1M11 32.5h1M59 32.5h2M190 32.5h1M7 33.5h1M32 33.5h1M85 33.5h1M213 33.5h1M238 33.5h1M271 33.5h1M309 33.5h1M82 34.5h1M116 34.5h1M210 34.5h1M236 34.5h1M272 34.5h1M45 35.5h1M185 35.5h1M212 35.5h1M7 36.5h1M43 36.5h1M45 36.5h1M63 36.5h1M93 36.5h1M310 36.5h1M1 37.5h1M101 37.5h1M105 37.5h1M205 37.5h1M229 37.5h1M244 37.5h1M306 37.5h1M194 38.5h1M284 38.5h1M299 38.5h1M6 39.5h1M99 39.5h1M182 39.5h1M196 39.5h1M222 39.5h1M263 39.5h1"/><path stroke="#007fff" d="M219 0.5h1M219 -.5h1M165 4.5h1M1 5.5h1M238 5.5h1M280 5.5h1M140 6.5h1M300 6.5h1M279 7.5h1M176 8.5h1M284 8.5h1M4 9.5h1M54 9.5h1M56 9.5h1M220 9.5h1M69 11.5h1M80 11.5h1M135 11.5h1M247 11.5h1M250 11.5h1M256 11.5h1M111 12.5h1M296 12.5h1M87 13.5h1M96 13.5h1M130 13.5h1M132 13.5h1M137 13.5h1M148 13.5h1M161 13.5h1M168 13.5h1M175 13.5h2M199 13.5h1M201 13.5h1M222 13.5h1M240 13.5h1M268 13.5h1M290 13.5h1M304 13.5h1M2 14.5h1M22 14.5h1M85 14.5h1M111 14.5h1M275 14.5h1M310 14.5h1M76 15.5h1M247 16.5h1M91 17.5h1M150 17.5h1M250 17.5h1M297 17.5h1M251 18.5h1M267 18.5h1M269 18.5h1M5 19.5h1M101 19.5h1M244 19.5h1M301 19.5h1M312 19.5h1M40 20.5h1M62 20.5h1M19 21.5h1M21 21.5h1M211 21.5h1M270 21.5h1M274 21.5h1M294 21.5h1M145 22.5h2M179 22.5h1M181 22.5h1M288 22.5h1M304 22.5h1M16 23.5h1M183 23.5h1M202 23.5h1M225 23.5h1M56 24.5h1M45 25.5h2M72 25.5h1M124 25.5h1M14 26.5h1M45 27.5h1M60 27.5h1M125 27.5h1M174 27.5h1M311 27.5h1M20 28.5h1M317 28.5h1M78 29.5h1M94 29.5h1M107 29.5h1M111 29.5h1M126 29.5h1M129 29.5h1M138 29.5h1M140 29.5h1M186 29.5h1M194 29.5h1M212 29.5h1M239 29.5h1M304 29.5h1M316 29.5h1M1 31.5h1M38 31.5h1M51 31.5h1M64 31.5h1M132 31.5h1M140 31.5h1M150 31.5h1M216 31.5h1M248 31.5h1M285 31.5h1M296 31.5h1M301 31.5h1M157 32.5h1M189 32.5h1M268 32.5h1M15 33.5h1M39 33.5h1M89 33.5h1M206 33.5h1M263 33.5h1M268 33.5h1M133 34.5h1M158 34.5h1M296 34.5h1M1 35.5h1M12 35.5h1M60 35.5h1M207 35.5h1M250 35.5h1M292 35.5h1M26 36.5h1M58 36.5h2M106 36.5h1M174 36.5h1M187 36.5h1M265 36.5h1M271 36.5h1M287 36.5h1M125 37.5h1M131 37.5h1M208 37.5h1M222 37.5h1M257 37.5h1M11 38.5h1M25 38.5h1M79 38.5h1M311 38.5h1M42 39.5h1M177 39.5h1M246 39.5h1M309 39.5h1"/><path stroke="#000099" d="M271 0.5h1M271 -.5h1M100 1.5h1M166 1.5h1M181 1.5h1M206 2.5h1M249 2.5h1M310 2.5h1M50 3.5h1M33 4.5h1M157 4.5h1M191 4.5h1M115 5.5h1M206 5.5h1M159 6.5h1M250 6.5h1M16 7.5h2M144 7.5h1M47 8.5h1M221 8.5h1M229 8.5h1M236 8.5h1M59 9.5h1M122 9.5h1M293 9.5h1M306 9.5h1M319 9.5h1M36 10.5h1M290 10.5h1M74 11.5h1M90 11.5h1M126 11.5h1M153 11.5h1M234 11.5h1M0 12.5h1M226 12.5h2M90 13.5h1M106 13.5h1M195 13.5h1M319 13.5h1M26 14.5h1M63 14.5h1M171 14.5h1M218 14.5h1M228 14.5h1M272 14.5h1M278 14.5h1M26 15.5h1M56 15.5h1M88 15.5h1M151 15.5h1M164 15.5h1M208 15.5h1M231 15.5h1M237 15.5h1M244 15.5h1M249 15.5h1M255 15.5h1M281 15.5h1M297 15.5h1M155 16.5h1M235 16.5h1M305 16.5h1M77 17.5h1M105 17.5h2M181 17.5h1M205 17.5h1M225 17.5h1M31 18.5h1M47 18.5h1M130 18.5h1M136 18.5h2M173 18.5h1M176 18.5h1M196 18.5h1M217 18.5h1M281 18.5h1M297 18.5h1M90 19.5h1M112 19.5h1M138 19.5h1M180 19.5h1M185 19.5h1M190 19.5h1M198 19.5h1M253 19.5h1M262 19.5h1M264 19.5h1M273 19.5h1M308 19.5h1M119 20.5h1M126 20.5h1M128 20.5h1M148 20.5h1M173 20.5h2M181 20.5h1M225 20.5h1M260 20.5h1M0 21.5h1M144 21.5h1M186 21.5h1M215 21.5h1M244 21.5h2M256 21.5h1M291 21.5h1M297 21.5h1M305 21.5h1M9 22.5h1M26 22.5h1M75 22.5h1M116 22.5h1M173 22.5h1M204 22.5h1M275 22.5h1M278 22.5h1M4 23.5h1M25 23.5h1M57 23.5h1M61 23.5h1M75 23.5h1M120 23.5h1M130 23.5h1M133 23.5h1M217 23.5h1M229 23.5h1M237 23.5h1M244 23.5h1M261 23.5h1M304 23.5h1M0 24.5h1M5 24.5h1M163 24.5h1M265 24.5h1M281 24.5h1M287 24.5h1M299 24.5h2M319 24.5h1M11 25.5h1M70 25.5h1M84 25.5h2M119 25.5h1M136 25.5h1M190 25.5h1M216 25.5h1M230 25.5h1M240 25.5h1M257 25.5h1M37 26.5h1M78 26.5h1M114 26.5h1M138 26.5h1M146 26.5h1M177 26.5h1M185 26.5h1M211 26.5h1M229 26.5h1M247 26.5h1M279 26.5h1M297 26.5h1M314 26.5h1M5 27.5h1M20 27.5h1M37 27.5h1M40 27.5h1M65 27.5h1M110 27.5h1M142 27.5h1M146 27.5h1M153 27.5h1M191 27.5h1M193 27.5h1M232 27.5h1M266 27.5h1M308 27.5h1M16 28.5h1M58 28.5h1M64 28.5h1M83 28.5h1M137 28.5h1M139 28.5h1M175 28.5h1M183 28.5h1M198 28.5h1M240 28.5h1M258 28.5h1M262 28.5h1M29 29.5h1M82 29.5h1M85 29.5h1M116 29.5h1M207 29.5h1M217 29.5h2M256 29.5h1M265 29.5h1M285 29.5h1M290 29.5h1M33 30.5h1M10 31.5h1M14 31.5h1M108 32.5h1M164 32.5h1M186 32.5h2M207 32.5h1M246 32.5h1M265 32.5h1M31 33.5h1M131 33.5h1M188 33.5h1M220 33.5h1M228 33.5h1M34 34.5h1M72 34.5h1M91 34.5h1M96 34.5h1M111 34.5h1M129 34.5h3M164 34.5h1M202 34.5h1M222 34.5h1M239 34.5h1M242 34.5h1M46 35.5h1M94 35.5h1M100 35.5h1M145 35.5h1M195 35.5h1M233 35.5h1M251 35.5h1M256 35.5h1M274 35.5h1M49 36.5h1M90 36.5h1M159 36.5h1M162 36.5h1M183 36.5h1M185 36.5h1M195 36.5h1M215 36.5h1M261 36.5h1M267 36.5h1M291 36.5h1M305 36.5h1M319 36.5h1M27 37.5h1M48 37.5h1M157 37.5h1M164 37.5h1M168 37.5h1M194 37.5h1M196 37.5h1M260 37.5h1M271 37.5h1M293 37.5h1M16 38.5h1M21 38.5h1M63 38.5h1M73 38.5h1M75 38.5h1M91 38.5h1M95 38.5h1M116 38.5h1M148 38.5h1M305 38.5h2M10 39.5h1M34 39.5h1M39 39.5h1M43 39.5h1M114 39.5h1M133 39.5h1M175 39.5h1M218 39.5h1M270 39.5h1"/><path stroke="#003fff" d="M6 1.5h1M99 1.5h1M213 1.5h1M270 1.5h1M226 2.5h1M70 3.5h1M219 3.5h1M253 3.5h1M272 3.5h1M117 4.5h1M154 4.5h1M239 4.5h1M244 4.5h1M255 4.5h1M272 4.5h1M309 4.5h1M2 5.5h1M152 5.5h1M196 5.5h1M239 5.5h1M257 5.5h1M309 5.5h1M319 5.5h1M23 6.5h1M28 6.5h1M132 6.5h1M166 6.5h1M234 6.5h1M318 6.5h1M2 7.5h1M10 7.5h1M26 7.5h1M143 7.5h1M221 7.5h1M245 7.5h1M250 7.5h1M280 7.5h1M284 7.5h1M301 7.5h1M72 8.5h1M116 8.5h1M183 8.5h1M296 8.5h1M194 9.5h1M206 9.5h1M45 10.5h1M55 10.5h1M174 10.5h1M178 10.5h1M182 10.5h1M196 10.5h1M209 10.5h1M226 10.5h1M247 10.5h1M258 10.5h1M264 10.5h1M286 10.5h1M22 11.5h1M24 11.5h1M55 11.5h1M60 11.5h1M62 11.5h1M103 11.5h1M117 11.5h1M154 11.5h1M229 11.5h1M311 11.5h1M1 12.5h1M6 12.5h1M29 12.5h1M75 12.5h1M92 12.5h1M96 12.5h1M134 12.5h1M169 12.5h1M195 12.5h1M82 13.5h1M85 13.5h1M136 13.5h1M152 13.5h1M200 13.5h1M216 13.5h1M253 13.5h1M291 13.5h1M313 13.5h1M27 14.5h1M89 14.5h1M91 14.5h2M99 14.5h1M117 14.5h1M152 14.5h1M242 14.5h1M287 14.5h1M299 14.5h1M24 15.5h1M55 15.5h1M108 15.5h1M116 15.5h1M157 15.5h1M246 15.5h1M262 15.5h1M298 15.5h1M312 15.5h1M317 15.5h1M9 16.5h1M11 16.5h1M13 16.5h1M136 16.5h1M148 16.5h1M267 16.5h1M294 16.5h1M296 16.5h1M303 16.5h1M5 17.5h1M14 17.5h1M17 17.5h1M34 17.5h1M50 17.5h1M84 17.5h1M103 17.5h1M143 17.5h1M176 17.5h1M186 17.5h1M193 17.5h1M197 17.5h1M215 17.5h1M266 17.5h1M1 18.5h1M13 18.5h1M41 18.5h1M49 18.5h1M90 18.5h1M125 18.5h1M133 18.5h1M135 18.5h1M141 18.5h1M150 18.5h1M157 18.5h1M178 18.5h1M207 18.5h1M16 19.5h1M74 19.5h1M76 19.5h1M122 19.5h1M142 19.5h1M152 19.5h1M192 19.5h1M257 19.5h1M16 20.5h1M64 20.5h1M66 20.5h1M77 20.5h1M194 20.5h1M244 20.5h1M247 20.5h1M20 21.5h1M91 21.5h1M96 21.5h1M146 21.5h1M163 21.5h1M189 21.5h1M194 21.5h1M222 21.5h1M231 21.5h1M266 21.5h2M280 21.5h1M290 21.5h1M298 21.5h1M312 21.5h1M58 22.5h1M71 22.5h1M107 22.5h1M123 22.5h1M174 22.5h1M205 22.5h1M207 22.5h1M231 22.5h1M291 22.5h1M305 22.5h1M91 23.5h1M97 23.5h1M129 23.5h1M131 23.5h1M153 23.5h2M162 23.5h1M177 23.5h1M181 23.5h1M19 24.5h1M33 24.5h1M41 24.5h2M147 24.5h1M179 24.5h1M196 24.5h1M214 24.5h1M274 24.5h1M315 24.5h1M19 25.5h1M35 25.5h1M79 25.5h1M125 25.5h1M129 25.5h1M141 25.5h1M174 25.5h1M182 25.5h1M223 25.5h1M270 25.5h1M298 25.5h1M4 26.5h1M22 26.5h1M46 26.5h1M54 26.5h1M91 26.5h1M110 26.5h1M119 26.5h1M152 26.5h1M182 26.5h1M262 26.5h1M51 27.5h1M108 27.5h1M141 27.5h1M171 27.5h1M227 27.5h1M298 27.5h1M48 28.5h1M89 28.5h1M93 28.5h1M101 28.5h1M164 28.5h1M196 28.5h2M204 28.5h2M251 28.5h1M253 28.5h1M271 28.5h1M35 29.5h1M86 29.5h1M133 29.5h2M158 29.5h1M166 29.5h1M170 29.5h1M183 29.5h1M188 29.5h1M202 29.5h1M230 29.5h1M243 29.5h1M258 29.5h2M317 29.5h1M15 30.5h1M26 30.5h1M46 30.5h1M50 30.5h1M32 31.5h1M48 31.5h1M57 31.5h1M90 31.5h1M117 31.5h1M120 31.5h1M124 31.5h1M154 31.5h1M156 31.5h1M242 31.5h1M256 31.5h1M259 31.5h1M284 31.5h1M4 32.5h1M17 32.5h1M31 32.5h1M102 32.5h1M115 32.5h1M123 32.5h1M129 32.5h1M135 32.5h1M146 32.5h1M156 32.5h1M192 32.5h1M243 32.5h1M248 32.5h1M311 32.5h1M12 33.5h1M38 33.5h1M64 33.5h1M115 33.5h2M134 33.5h1M136 33.5h1M150 33.5h1M153 33.5h1M162 33.5h1M183 33.5h1M240 33.5h1M26 34.5h1M32 34.5h1M39 34.5h1M52 34.5h1M134 34.5h1M137 34.5h1M155 34.5h1M191 34.5h2M194 34.5h1M213 34.5h1M241 34.5h1M292 34.5h1M302 34.5h1M319 34.5h1M18 35.5h1M30 35.5h1M49 35.5h1M78 35.5h1M152 35.5h1M188 35.5h1M235 35.5h1M259 35.5h1M266 35.5h1M273 35.5h1M47 36.5h1M112 36.5h1M140 36.5h1M252 36.5h1M278 36.5h1M299 36.5h1M304 36.5h1M311 36.5h1M23 37.5h1M70 37.5h1M94 37.5h1M114 37.5h1M163 37.5h1M169 37.5h1M197 37.5h1M199 37.5h1M216 37.5h1M230 37.5h1M238 37.5h1M1 38.5h1M70 38.5h1M84 38.5h1M122 38.5h1M124 38.5h1M166 38.5h1M170 38.5h1M178 38.5h1M217 38.5h1M257 38.5h1M281 38.5h1M313 38.5h1M25 39.5h1M60 39.5h1M93 39.5h1M113 39.5h1M135 39.5h1M174 39.5h1M178 39.5h1M181 39.5h1M194 39.5h1M205 39.5h1M234 39.5h1M255 39.5h1M261 39.5h2M274 39.5h1M306 39.5h1"/><path stroke="#00cbff" d="M1 2.5h1M50 10.5h1M60 10.5h1M79 13.5h1M86 13.5h1M88 13.5h1M181 13.5h1M196 13.5h1M258 13.5h1M277 13.5h1M281 13.5h1M27 16.5h1M12 25.5h1M42 26.5h1M304 27.5h1M263 28.5h1M14 30.5h1M91 31.5h1M104 31.5h1M110 31.5h1M121 31.5h1M135 31.5h1M170 31.5h1M175 31.5h1M250 31.5h1M253 31.5h1M281 31.5h1M289 31.5h1M16 33.5h1M63 33.5h1M204 34.5h1M4 35.5h1M11 35.5h1M17 35.5h1M64 35.5h1M318 35.5h1M18 37.5h1M107 37.5h1M28 38.5h1M5 39.5h1"/><path stroke="#00e5ff" d="M1 7.5h1M58 10.5h1M28 13.5h1M101 13.5h2M107 13.5h1M117 13.5h1M256 13.5h1M267 13.5h1M276 13.5h1M279 13.5h1M1 19.5h1M115 19.5h1M59 22.5h1M312 22.5h1M7 30.5h1M72 31.5h2M84 31.5h1M118 31.5h1M123 31.5h1M145 31.5h1M160 31.5h1M169 31.5h1M187 31.5h1M201 31.5h1M227 31.5h1M240 31.5h1M254 31.5h2M278 31.5h1M0 33.5h1M8 34.5h1M16 34.5h1M10 35.5h1M313 35.5h1M18 36.5h1M99 37.5h1M71 38.5h1M255 38.5h1M268 38.5h1M47 39.5h1M242 39.5h1"/><path stroke="#008cff" d="M52 7.5h1M6 9.5h1M246 9.5h1M288 10.5h1M240 11.5h1M14 13.5h1M81 13.5h1M83 13.5h1M124 13.5h1M141 13.5h1M143 13.5h1M165 13.5h2M170 13.5h2M194 13.5h1M203 13.5h1M223 13.5h1M231 13.5h1M233 13.5h1M235 13.5h1M241 13.5h1M244 13.5h1M247 13.5h1M283 13.5h1M306 13.5h1M148 15.5h1M207 15.5h1M82 16.5h1M244 17.5h1M66 19.5h1M79 19.5h1M161 19.5h1M239 19.5h1M98 20.5h1M312 20.5h1M314 20.5h1M188 21.5h1M100 22.5h1M193 22.5h1M12 23.5h1M145 23.5h1M155 23.5h1M204 23.5h1M146 24.5h1M276 24.5h1M115 25.5h1M48 26.5h1M79 26.5h1M163 27.5h1M46 28.5h1M73 28.5h1M252 28.5h1M11 29.5h1M110 29.5h1M120 29.5h1M151 29.5h1M174 29.5h2M181 29.5h1M204 29.5h1M242 29.5h1M274 29.5h1M288 29.5h1M305 29.5h1M314 29.5h1M141 31.5h1M157 31.5h1M164 31.5h2M168 31.5h1M171 31.5h2M177 31.5h1M213 31.5h1M215 31.5h1M219 31.5h1M237 31.5h1M266 31.5h2M287 31.5h1M305 31.5h1M0 32.5h1M95 32.5h1M99 32.5h1M222 32.5h1M257 32.5h1M56 33.5h1M174 34.5h1M184 35.5h1M268 35.5h1M3 36.5h1M73 36.5h1M222 36.5h1M316 36.5h1M9 37.5h1M20 37.5h1M46 37.5h1M93 37.5h1M18 38.5h1M158 38.5h1M165 38.5h1M206 38.5h1M297 38.5h1M207 39.5h1"/><path stroke="#00b2ff" d="M1 9.5h1M31 13.5h1M104 13.5h1M197 13.5h1M214 13.5h1M278 13.5h1M153 14.5h1M283 18.5h1M1 21.5h1M247 21.5h1M1 22.5h1M27 23.5h1M164 24.5h1M55 26.5h1M4 27.5h1M11 28.5h1M145 29.5h1M56 31.5h1M79 31.5h1M105 31.5h1M109 31.5h1M126 31.5h1M131 31.5h1M152 31.5h1M163 31.5h1M173 31.5h1M185 31.5h1M192 31.5h1M203 31.5h1M225 31.5h1M234 31.5h1M236 31.5h1M270 31.5h1M275 31.5h1M294 31.5h1M297 31.5h2M313 31.5h1M16 32.5h1M318 32.5h1M158 33.5h1M17 34.5h1M318 34.5h1M66 35.5h1M237 35.5h1M240 35.5h1M72 36.5h1M206 36.5h1M58 37.5h1M189 37.5h1M183 39.5h1M291 39.5h1"/><path stroke="#0098ff" d="M44 9.5h2M53 9.5h1M268 10.5h1M1 11.5h1M47 11.5h1M27 12.5h1M61 13.5h1M76 13.5h1M89 13.5h1M91 13.5h1M115 13.5h1M131 13.5h1M133 13.5h1M156 13.5h2M173 13.5h1M202 13.5h1M209 13.5h1M212 13.5h1M230 13.5h1M243 13.5h1M248 13.5h1M1 15.5h1M40 18.5h1M169 19.5h1M182 21.5h1M196 21.5h1M40 22.5h1M66 22.5h1M171 22.5h2M1 23.5h1M33 23.5h1M54 23.5h1M78 24.5h1M134 24.5h1M288 25.5h1M264 26.5h1M52 28.5h1M56 28.5h1M59 29.5h1M67 30.5h1M98 31.5h1M155 31.5h1M174 31.5h1M209 31.5h1M246 31.5h1M318 31.5h1M27 32.5h1M118 32.5h1M28 33.5h1M161 33.5h1M318 33.5h1M28 34.5h1M63 35.5h1M16 37.5h1M62 37.5h1M22 38.5h1M30 38.5h1M88 39.5h1"/><path stroke="#0cfff3" d="M42 10.5h1M193 30.5h1"/><path stroke="#00d8ff" d="M43 10.5h1M48 10.5h1M38 11.5h1M30 13.5h1M73 13.5h2M80 13.5h1M100 13.5h1M128 13.5h1M134 13.5h1M172 13.5h1M182 13.5h1M208 13.5h1M210 13.5h1M263 13.5h1M287 13.5h1M26 25.5h1M19 28.5h1M39 31.5h1M97 31.5h1M115 31.5h1M221 31.5h1M243 31.5h1M247 31.5h1M263 31.5h1M308 31.5h1M1 36.5h1M24 39.5h1"/><path stroke="#25ffda" d="M44 10.5h1M39 11.5h1"/><path stroke="#00f1ff" d="M49 10.5h1M59 10.5h1M72 13.5h1M105 13.5h1M126 13.5h1M140 13.5h1M142 13.5h1M205 13.5h1M217 13.5h1M286 13.5h1M296 13.5h1M134 18.5h1M24 20.5h1M59 30.5h1M80 31.5h1M82 31.5h1M85 31.5h1M99 31.5h1M116 31.5h1M191 31.5h1M198 31.5h1M212 31.5h1M220 31.5h1M238 31.5h1M283 31.5h1M307 31.5h1"/><path stroke="#32ffcd" d="M36 11.5h2M26 13.5h1M29 13.5h1M6 24.5h1M13 26.5h1M14 28.5h1M296 30.5h1M41 37.5h1M43 38.5h1M317 38.5h1M54 39.5h1"/><path stroke="#00beff" d="M66 11.5h1M68 11.5h1M27 13.5h1M75 13.5h1M78 13.5h1M155 13.5h1M164 13.5h1M174 13.5h1M177 13.5h1M211 13.5h1M275 13.5h1M284 13.5h1M293 13.5h1M295 13.5h1M297 13.5h2M1 14.5h1M101 14.5h1M1 24.5h1M207 24.5h1M45 26.5h1M61 26.5h1M19 27.5h1M17 28.5h1M113 31.5h1M125 31.5h1M181 31.5h1M197 31.5h1M277 31.5h1M311 31.5h1M3 32.5h1M103 32.5h1M261 33.5h1M197 34.5h1M29 36.5h1M233 36.5h1M28 37.5h1M232 37.5h1M220 39.5h1"/><path stroke="#00008c" d="M147 12.5h1M281 12.5h1M261 14.5h1M134 17.5h1M4 18.5h1M314 18.5h1M81 19.5h1M261 19.5h1M26 20.5h1M165 20.5h1M243 20.5h1M6 21.5h1M112 21.5h1M162 21.5h1M283 21.5h1M33 22.5h1M35 22.5h1M223 22.5h1M68 23.5h1M234 23.5h1M11 24.5h1M124 24.5h1M156 24.5h1M166 24.5h1M168 24.5h1M62 25.5h2M75 25.5h1M92 25.5h1M167 25.5h1M247 25.5h1M267 25.5h1M63 26.5h1M131 26.5h1M158 26.5h1M174 26.5h1M261 26.5h1M22 27.5h1M158 27.5h1M206 27.5h1M319 27.5h1M63 28.5h1M103 28.5h1M108 28.5h1M149 28.5h1M294 28.5h1M12 29.5h1M17 29.5h1M57 29.5h1M244 29.5h1M13 31.5h1M45 31.5h1M103 31.5h1M145 32.5h1M169 32.5h1M180 32.5h1M244 32.5h1M20 33.5h1M37 33.5h1M123 33.5h1M156 33.5h1M294 33.5h1M27 34.5h1M31 34.5h1M42 34.5h1M143 34.5h1M186 34.5h1M243 34.5h1M247 34.5h2M85 35.5h1M201 35.5h1M295 35.5h1M61 36.5h1M67 36.5h1M81 36.5h1M118 36.5h1M151 36.5h1M225 36.5h1M297 36.5h1M315 36.5h1M67 37.5h1M98 37.5h1M267 37.5h1M301 37.5h1M131 38.5h1M200 38.5h1M240 38.5h1M41 39.5h1M58 39.5h1M115 39.5h1M144 39.5h1M150 39.5h1M153 39.5h1M214 39.5h1M273 39.5h1"/><path stroke="#00feff" d="M32 13.5h1M34 13.5h1M259 13.5h2M264 13.5h1M282 13.5h1M294 13.5h1M1 17.5h1M7 28.5h1M13 28.5h1M58 30.5h1M71 30.5h1M58 31.5h1M71 31.5h1M106 31.5h1M127 31.5h1M224 31.5h1M282 31.5h1M316 31.5h1M23 32.5h1M34 32.5h2M35 33.5h1M69 33.5h1M283 33.5h1M35 34.5h1M65 34.5h1M65 35.5h1M62 36.5h1M317 36.5h1M50 37.5h1M52 37.5h1M57 37.5h1M19 38.5h1M42 38.5h1M46 38.5h1M318 38.5h1"/><path stroke="#18ffe7" d="M6 23.5h1M12 26.5h1M316 30.5h1M64 34.5h1M66 34.5h1M42 37.5h1M51 37.5h1M59 37.5h1M317 37.5h1M41 38.5h1"/><path stroke="#4bffb4" d="M6 25.5h1M12 27.5h1M15 29.5h1M72 29.5h1M40 37.5h1M44 38.5h1M53 39.5h1M56 39.5h1M317 39.5h1"/><path stroke="#000080" d="M209 25.5h1M228 26.5h1M249 27.5h1M272 27.5h1M194 28.5h1M206 32.5h1M53 34.5h1M119 34.5h1M218 34.5h1M269 37.5h1M157 38.5h1M267 39.5h1"/><path stroke="#65ff9a" d="M13 27.5h1M14 29.5h1M73 29.5h1M20 32.5h1M70 32.5h1M67 34.5h1M38 35.5h1M39 37.5h1M57 38.5h1M55 39.5h1"/><path stroke="#fdff02" d="M30 28.5h1M79 30.5h1M135 30.5h1M152 30.5h1M176 30.5h1M190 30.5h1M213 30.5h1M215 30.5h1M259 30.5h1M265 30.5h1M267 30.5h1M285 30.5h1M290 30.5h1M39 36.5h1M60 37.5h1"/><path stroke="#ff6800" d="M31 28.5h1M89 30.5h1M100 30.5h1M102 30.5h1M117 30.5h1M142 30.5h1M204 30.5h1M291 30.5h1"/><path stroke="#ffe700" d="M32 29.5h1M80 30.5h1M88 30.5h1M123 30.5h1M226 30.5h1M232 30.5h4M260 30.5h1M287 30.5h1M312 30.5h1"/><path stroke="#7eff81" d="M43 29.5h1M66 29.5h1M68 34.5h1M37 35.5h1M40 38.5h1M45 38.5h1M48 38.5h2M52 38.5h1M319 39.5h1"/><path stroke="#a4ff5b" d="M72 30.5h1M127 30.5h1M273 30.5h1M299 30.5h2M307 30.5h1"/><path stroke="#cbff34" d="M73 30.5h2M150 30.5h1M200 30.5h1M205 30.5h1M222 30.5h1M249 30.5h1M252 30.5h1M293 30.5h2M306 30.5h1M45 39.5h1"/><path stroke="#ff8e00" d="M75 30.5h3M99 30.5h1M115 30.5h1M124 30.5h2M141 30.5h1M166 30.5h1M178 30.5h1M188 30.5h1M230 30.5h1M292 30.5h1M310 30.5h1"/><path stroke="#fff400" d="M78 30.5h1M87 30.5h1M130 30.5h1M136 30.5h1M158 30.5h1M180 30.5h1M191 30.5h1M214 30.5h1M258 30.5h1M303 30.5h1M315 30.5h1"/><path stroke="#ff4f00" d="M81 30.5h1M92 30.5h1M114 30.5h1M119 30.5h1M162 30.5h1M242 30.5h1M278 30.5h1M283 30.5h1M302 30.5h1"/><path stroke="#ff8100" d="M82 30.5h1M86 30.5h1M118 30.5h1M144 30.5h1M198 30.5h1M212 30.5h1M236 30.5h2M239 30.5h1M281 30.5h1M301 30.5h1M308 30.5h1"/><path stroke="#ffa800" d="M83 30.5h1M109 30.5h1M159 30.5h1M167 30.5h1M183 30.5h1M203 30.5h1M209 30.5h2M238 30.5h1"/><path stroke="#ff9b00" d="M84 30.5h1M94 30.5h1M137 30.5h1M151 30.5h1M165 30.5h1M189 30.5h1M221 30.5h1M227 30.5h1M229 30.5h1M240 30.5h1"/><path stroke="#ff7500" d="M85 30.5h1M98 30.5h1M143 30.5h1M145 30.5h1M160 30.5h1M169 30.5h1M184 30.5h1M201 30.5h1M207 30.5h1M253 30.5h1M268 30.5h1M280 30.5h1M309 30.5h1M311 30.5h1"/><path stroke="#ff1c00" d="M90 30.5h2M138 30.5h1M231 30.5h1M255 30.5h1M269 30.5h1"/><path stroke="#ff5b00" d="M93 30.5h1M113 30.5h1M116 30.5h1M161 30.5h1M254 30.5h1M277 30.5h1"/><path stroke="#ffb400" d="M95 30.5h1M108 30.5h1M112 30.5h1M131 30.5h1M163 30.5h1M185 30.5h1M197 30.5h1M228 30.5h1M15 31.5h1M2 38.5h1"/><path stroke="#ffda00" d="M96 30.5h1M111 30.5h1M122 30.5h1M149 30.5h1M155 30.5h1M172 30.5h1M187 30.5h1M192 30.5h1M194 30.5h2M225 30.5h1M264 30.5h1M284 30.5h1M289 30.5h1"/><path stroke="#ffc100" d="M97 30.5h1M110 30.5h1M147 30.5h1M153 30.5h1M170 30.5h2M186 30.5h1M202 30.5h1M211 30.5h1M224 30.5h1M288 30.5h1"/><path stroke="#ff4200" d="M101 30.5h1M241 30.5h1M261 30.5h1"/><path stroke="#8bff74" d="M103 30.5h1M156 30.5h1M295 30.5h1"/><path stroke="#ff3500" d="M104 30.5h1"/><path stroke="#ff0f00" d="M105 30.5h1M128 30.5h1"/><path stroke="#ff0200" d="M106 30.5h1"/><path stroke="#ffce00" d="M107 30.5h1M168 30.5h1M179 30.5h1M182 30.5h1M196 30.5h1M220 30.5h1"/><path stroke="#ff2800" d="M120 30.5h1M282 30.5h1"/><path stroke="#e4ff1b" d="M121 30.5h1M126 30.5h1M133 30.5h1M140 30.5h1M148 30.5h1M157 30.5h1M181 30.5h1M206 30.5h1M223 30.5h1M243 30.5h1M245 30.5h2M262 30.5h2M275 30.5h1M314 30.5h1"/><path stroke="#72ff8d" d="M129 30.5h1M266 30.5h1M271 30.5h1"/><path stroke="#beff41" d="M132 30.5h1M164 30.5h1M173 30.5h2M217 30.5h1M248 30.5h1M250 30.5h1M36 34.5h1"/><path stroke="#f1ff0e" d="M134 30.5h1M154 30.5h1M219 30.5h1M244 30.5h1M256 30.5h2M286 30.5h1M305 30.5h1M313 30.5h1"/><path stroke="#d7ff28" d="M139 30.5h1M177 30.5h1M218 30.5h1M247 30.5h1M251 30.5h1M272 30.5h1M274 30.5h1M276 30.5h1M304 30.5h1"/><path stroke="#f50000" d="M146 30.5h1"/><path stroke="#b1ff4e" d="M175 30.5h1M216 30.5h1M279 30.5h1M297 30.5h2M18 39.5h1M318 39.5h1"/><path stroke="#e80000" d="M199 30.5h1M34 31.5h1"/><path stroke="#db0000" d="M208 30.5h1"/><path stroke="#3fffc0" d="M270 30.5h1"/><path stroke="#b50000" d="M1 39.5h1"/></g></svg><svg class="ab" style="left:650.1px;top:8.30px;width:9px;height:287.30px" viewBox="0 0 9 287.30" preserveAspectRatio="none"><rect x="0.5" y="0" width="8" height="287.30" fill="url(#jg)"/><rect x="0.35" y="0.1" width="8.3" height="287.10" fill="none" stroke="#b4aaa0" stroke-width="0.6"/><g stroke="#555" stroke-width="0.8"><line x1="5.2" x2="8.5" y1="215.00" y2="215.00"/><line x1="5.2" x2="8.5" y1="143.60" y2="143.60"/><line x1="5.2" x2="8.5" y1="72.20" y2="72.20"/><line x1="5.2" x2="8.5" y1="0.80" y2="0.80"/></g></svg><div class="t" style="right:661.40px;top:9.76px;font-size:23.5px;text-align:right;">50</div><div class="t" style="right:661.40px;top:81.58px;font-size:23.5px;text-align:right;">40</div><div class="t" style="right:661.40px;top:153.41px;font-size:23.5px;text-align:right;">30</div><div class="t" style="right:661.40px;top:225.23px;font-size:23.5px;text-align:right;">20</div><div class="t" style="right:661.40px;top:297.06px;font-size:23.5px;text-align:right;">10</div><div class="t" style="left:158.40px;top:317.56px;font-size:23.5px;width:200px;margin-left:-100px;text-align:center;">50</div><div class="t" style="left:248.40px;top:317.56px;font-size:23.5px;width:200px;margin-left:-100px;text-align:center;">100</div><div class="t" style="left:338.40px;top:317.56px;font-size:23.5px;width:200px;margin-left:-100px;text-align:center;">150</div><div class="t" style="left:428.40px;top:317.56px;font-size:23.5px;width:200px;margin-left:-100px;text-align:center;">200</div><div class="t" style="left:518.40px;top:317.56px;font-size:23.5px;width:200px;margin-left:-100px;text-align:center;">250</div><div class="t" style="left:608.40px;top:317.56px;font-size:23.5px;width:200px;margin-left:-100px;text-align:center;">300</div><div class="t" style="left:664.60px;top:224.05px;font-size:21.2px;">20</div><div class="t" style="left:664.60px;top:152.65px;font-size:21.2px;">40</div><div class="t" style="left:664.60px;top:81.25px;font-size:21.2px;">60</div><div class="t" style="left:664.60px;top:9.85px;font-size:21.2px;">80</div><div class="t" style="left:358.80px;top:348.76px;font-size:25.5px;width:200px;margin-left:-100px;text-align:center;letter-spacing:0.7px;">Time (s)</div><div class="t" style="left:20.76px;top:151.30px;width:300px;margin-left:-150px;text-align:center;font-size:25.5px;letter-spacing:0.45px;transform:rotate(-90deg);transform-origin:150px 0">Frequency (Hz)</div><div class="t" style="left:704.32px;top:151.70px;width:300px;margin-left:-150px;text-align:center;font-size:21.0px;letter-spacing:0.30px;transform:rotate(-90deg);transform-origin:150px 0">Amplitude (mg)</div><div class="cap" style="left:356.7px;top:402.88px"><span class="p">(</span><b>a</b><span class="p">)</span></div>
<svg class="ab sg" style="left:70.0px;top:479.00px;width:576.0px;height:286.80px" viewBox="0 0 320 40" preserveAspectRatio="none" shape-rendering="crispEdges"><rect width="320" height="40" fill="#000080"/><g stroke-width="1" fill="none" transform="translate(0 0.0558)"><path stroke="#00e5ff" d="M59 10.5h1M59 22.5h1M7 30.5h1M177 31.5h1M0 33.5h1M8 34.5h1M16 34.5h1M10 35.5h1M71 38.5h1M47 39.5h1"/><path stroke="#004dff" d="M23 11.5h1M27 30.5h1M22 32.5h1M25 32.5h1M27 33.5h1M6 35.5h1M9 36.5h1M17 36.5h1M23 36.5h1M29 36.5h1M17 37.5h1M4 38.5h1M7 38.5h1M17 38.5h1M27 38.5h1M9 39.5h1M12 39.5h1"/><path stroke="#0099ff" d="M27 12.5h1M318 31.5h1M27 32.5h1M318 33.5h1M63 35.5h1"/><path stroke="#33ffcc" d="M26 13.5h1M29 13.5h1M6 24.5h1M13 26.5h1M14 28.5h1M296 30.5h1M296 31.5h1M41 37.5h1M43 38.5h1M317 38.5h1M54 39.5h1"/><path stroke="#0033ff" d="M22 15.5h1M22 17.5h1M22 25.5h1M26 31.5h2M21 33.5h2M3 37.5h1M22 37.5h1M25 38.5h2M22 39.5h1"/><path stroke="#00ccff" d="M27 16.5h1M63 33.5h1M4 35.5h1M11 35.5h1M64 35.5h1M318 35.5h1M28 38.5h1M5 39.5h1"/><path stroke="#1affe5" d="M6 23.5h1M12 26.5h1M316 30.5h1M64 34.5h1M66 34.5h1M42 37.5h1M51 37.5h1M59 37.5h1M317 37.5h1M41 38.5h1"/><path stroke="#4dffb2" d="M6 25.5h1M12 27.5h1M15 29.5h1M72 29.5h1M267 31.5h1M40 37.5h1M44 38.5h1M53 39.5h1M56 39.5h1M317 39.5h1"/><path stroke="#66ff99" d="M13 27.5h1M14 29.5h1M73 29.5h1M20 32.5h1M70 32.5h1M67 34.5h1M38 35.5h1M39 37.5h1M57 38.5h1M55 39.5h1"/><path stroke="#00ffff" d="M7 28.5h1M267 28.5h1M58 30.5h1M71 30.5h1M58 31.5h1M71 31.5h1M156 31.5h1M218 31.5h1M248 31.5h1M270 31.5h1M293 31.5h1M316 31.5h1M23 32.5h1M34 32.5h2M35 33.5h1M69 33.5h1M35 34.5h1M65 34.5h1M253 34.5h1M65 35.5h1M62 36.5h1M317 36.5h1M50 37.5h1M52 37.5h1M57 37.5h1M42 38.5h1M46 38.5h1M318 38.5h1"/><path stroke="#ffff00" d="M30 28.5h1M79 30.5h1M135 30.5h1M152 30.5h1M176 30.5h1M190 30.5h1M213 30.5h1M215 30.5h1M259 30.5h1M265 30.5h1M267 30.5h1M285 30.5h1M290 30.5h1M90 31.5h1M39 36.5h1M60 37.5h1"/><path stroke="#ff6600" d="M31 28.5h1M89 30.5h1M100 30.5h1M102 30.5h1M117 30.5h1M142 30.5h1M204 30.5h1M291 30.5h1"/><path stroke="#ffe500" d="M32 29.5h1M80 30.5h1M88 30.5h1M123 30.5h1M226 30.5h1M232 30.5h4M260 30.5h1M287 30.5h1M312 30.5h1"/><path stroke="#80ff80" d="M43 29.5h1M66 29.5h1M170 31.5h1M279 31.5h1M68 34.5h1M37 35.5h1M40 38.5h1M45 38.5h1M48 38.5h2M52 38.5h1M319 39.5h1"/><path stroke="#a6ff59" d="M72 30.5h1M127 30.5h1M273 30.5h1M299 30.5h2M307 30.5h1"/><path stroke="#ccff33" d="M73 30.5h2M150 30.5h1M200 30.5h1M205 30.5h1M222 30.5h1M249 30.5h1M252 30.5h1M293 30.5h2M306 30.5h1M45 39.5h1"/><path stroke="#ff8c00" d="M75 30.5h3M99 30.5h1M115 30.5h1M124 30.5h2M141 30.5h1M166 30.5h1M178 30.5h1M188 30.5h1M230 30.5h1M292 30.5h1M310 30.5h1"/><path stroke="#fff200" d="M78 30.5h1M87 30.5h1M130 30.5h1M136 30.5h1M158 30.5h1M180 30.5h1M191 30.5h1M214 30.5h1M258 30.5h1M303 30.5h1M315 30.5h1"/><path stroke="#ff4c00" d="M81 30.5h1M92 30.5h1M114 30.5h1M119 30.5h1M162 30.5h1M242 30.5h1M278 30.5h1M283 30.5h1M302 30.5h1"/><path stroke="#ff8000" d="M82 30.5h1M86 30.5h1M118 30.5h1M144 30.5h1M198 30.5h1M212 30.5h1M236 30.5h2M239 30.5h1M281 30.5h1M301 30.5h1M308 30.5h1"/><path stroke="#ffa600" d="M83 30.5h1M109 30.5h1M159 30.5h1M167 30.5h1M183 30.5h1M203 30.5h1M209 30.5h2M238 30.5h1"/><path stroke="#ff9900" d="M84 30.5h1M94 30.5h1M137 30.5h1M151 30.5h1M165 30.5h1M189 30.5h1M221 30.5h1M227 30.5h1M229 30.5h1M240 30.5h1"/><path stroke="#ff7300" d="M85 30.5h1M98 30.5h1M143 30.5h1M145 30.5h1M160 30.5h1M169 30.5h1M184 30.5h1M201 30.5h1M207 30.5h1M253 30.5h1M268 30.5h1M280 30.5h1M309 30.5h1M311 30.5h1"/><path stroke="#ff1a00" d="M90 30.5h2M138 30.5h1M231 30.5h1M255 30.5h1M269 30.5h1"/><path stroke="#ff5900" d="M93 30.5h1M113 30.5h1M116 30.5h1M161 30.5h1M254 30.5h1M277 30.5h1"/><path stroke="#ffb300" d="M95 30.5h1M108 30.5h1M112 30.5h1M131 30.5h1M163 30.5h1M185 30.5h1M197 30.5h1M228 30.5h1M15 31.5h1M2 38.5h1"/><path stroke="#ffd900" d="M96 30.5h1M111 30.5h1M122 30.5h1M149 30.5h1M155 30.5h1M172 30.5h1M187 30.5h1M192 30.5h1M194 30.5h2M225 30.5h1M264 30.5h1M284 30.5h1M289 30.5h1"/><path stroke="#ffbf00" d="M97 30.5h1M110 30.5h1M147 30.5h1M153 30.5h1M170 30.5h2M186 30.5h1M202 30.5h1M211 30.5h1M224 30.5h1M288 30.5h1"/><path stroke="#ff4000" d="M101 30.5h1M241 30.5h1M261 30.5h1"/><path stroke="#8cff73" d="M103 30.5h1M156 30.5h1M295 30.5h1"/><path stroke="#ff3300" d="M104 30.5h1"/><path stroke="#ff0d00" d="M105 30.5h1M128 30.5h1"/><path stroke="#ff0000" d="M106 30.5h1"/><path stroke="#ffcc00" d="M107 30.5h1M168 30.5h1M179 30.5h1M182 30.5h1M196 30.5h1M220 30.5h1"/><path stroke="#ff2600" d="M120 30.5h1M282 30.5h1"/><path stroke="#e5ff1a" d="M121 30.5h1M126 30.5h1M133 30.5h1M140 30.5h1M148 30.5h1M157 30.5h1M181 30.5h1M206 30.5h1M223 30.5h1M243 30.5h1M245 30.5h2M262 30.5h2M275 30.5h1M314 30.5h1"/><path stroke="#73ff8c" d="M129 30.5h1M266 30.5h1M271 30.5h1"/><path stroke="#bfff40" d="M132 30.5h1M164 30.5h1M173 30.5h2M217 30.5h1M248 30.5h1M250 30.5h1M36 34.5h1"/><path stroke="#f2ff0d" d="M134 30.5h1M154 30.5h1M219 30.5h1M244 30.5h1M256 30.5h2M286 30.5h1M305 30.5h1M313 30.5h1"/><path stroke="#d9ff26" d="M139 30.5h1M177 30.5h1M218 30.5h1M247 30.5h1M251 30.5h1M272 30.5h1M274 30.5h1M276 30.5h1M304 30.5h1"/><path stroke="#f20000" d="M146 30.5h1"/><path stroke="#b3ff4c" d="M175 30.5h1M216 30.5h1M279 30.5h1M297 30.5h2M242 31.5h1M253 32.5h1M18 39.5h1M318 39.5h1"/><path stroke="#0dfff2" d="M193 30.5h1"/><path stroke="#e50000" d="M199 30.5h1M34 31.5h1"/><path stroke="#d90000" d="M208 30.5h1"/><path stroke="#40ffbf" d="M270 30.5h1"/><path stroke="#0066ff" d="M21 32.5h1M24 32.5h1M59 34.5h1M3 35.5h1M0 39.5h1M71 39.5h1"/><path stroke="#00b2ff" d="M318 32.5h1M105 33.5h1M318 34.5h1M66 35.5h1M58 37.5h1"/><path stroke="#0080ff" d="M60 35.5h1M58 36.5h2M157 39.5h1"/><path stroke="#b30000" d="M1 39.5h1"/></g></svg><svg class="ab" style="left:650.1px;top:479.00px;width:9px;height:286.80px" viewBox="0 0 9 286.80" preserveAspectRatio="none"><rect x="0.5" y="0" width="8" height="286.80" fill="url(#jg)"/><rect x="0.35" y="0.1" width="8.3" height="286.60" fill="none" stroke="#b4aaa0" stroke-width="0.6"/><g stroke="#555" stroke-width="0.8"><line x1="5.2" x2="8.5" y1="286.80" y2="286.80"/><line x1="5.2" x2="8.5" y1="215.10" y2="215.10"/><line x1="5.2" x2="8.5" y1="143.40" y2="143.40"/><line x1="5.2" x2="8.5" y1="71.70" y2="71.70"/><line x1="5.2" x2="8.5" y1="0.00" y2="0.00"/></g></svg><div class="t" style="right:661.40px;top:480.46px;font-size:23.5px;text-align:right;">50</div><div class="t" style="right:661.40px;top:552.16px;font-size:23.5px;text-align:right;">40</div><div class="t" style="right:661.40px;top:623.86px;font-size:23.5px;text-align:right;">30</div><div class="t" style="right:661.40px;top:695.56px;font-size:23.5px;text-align:right;">20</div><div class="t" style="right:661.40px;top:767.26px;font-size:23.5px;text-align:right;">10</div><div class="t" style="left:158.40px;top:788.26px;font-size:23.5px;width:200px;margin-left:-100px;text-align:center;">50</div><div class="t" style="left:248.40px;top:788.26px;font-size:23.5px;width:200px;margin-left:-100px;text-align:center;">100</div><div class="t" style="left:338.40px;top:788.26px;font-size:23.5px;width:200px;margin-left:-100px;text-align:center;">150</div><div class="t" style="left:428.40px;top:788.26px;font-size:23.5px;width:200px;margin-left:-100px;text-align:center;">200</div><div class="t" style="left:518.40px;top:788.26px;font-size:23.5px;width:200px;margin-left:-100px;text-align:center;">250</div><div class="t" style="left:608.40px;top:788.26px;font-size:23.5px;width:200px;margin-left:-100px;text-align:center;">300</div><div class="t" style="left:664.60px;top:766.55px;font-size:21.2px;">0</div><div class="t" style="left:664.60px;top:694.85px;font-size:21.2px;">20</div><div class="t" style="left:664.60px;top:623.15px;font-size:21.2px;">40</div><div class="t" style="left:664.60px;top:551.45px;font-size:21.2px;">60</div><div class="t" style="left:664.60px;top:479.75px;font-size:21.2px;">80</div><div class="t" style="left:358.80px;top:819.46px;font-size:25.5px;width:200px;margin-left:-100px;text-align:center;letter-spacing:0.7px;">Time (s)</div><div class="t" style="left:20.76px;top:622.00px;width:300px;margin-left:-150px;text-align:center;font-size:25.5px;letter-spacing:0.45px;transform:rotate(-90deg);transform-origin:150px 0">Frequency (Hz)</div><div class="t" style="left:704.32px;top:622.40px;width:300px;margin-left:-150px;text-align:center;font-size:21.0px;letter-spacing:0.30px;transform:rotate(-90deg);transform-origin:150px 0">Amplitude (mg)</div><div class="cap" style="left:356.7px;top:873.58px"><span class="p">(</span><b>b</b><span class="p">)</span></div>
<svg class="ab" style="left:529.2px;top:520.1px;width:3.6px;height:3.6px" viewBox="0 0 4 4"><circle cx="2" cy="2" r="1.8" fill="#e4e8a0"/></svg>
</body></html>
